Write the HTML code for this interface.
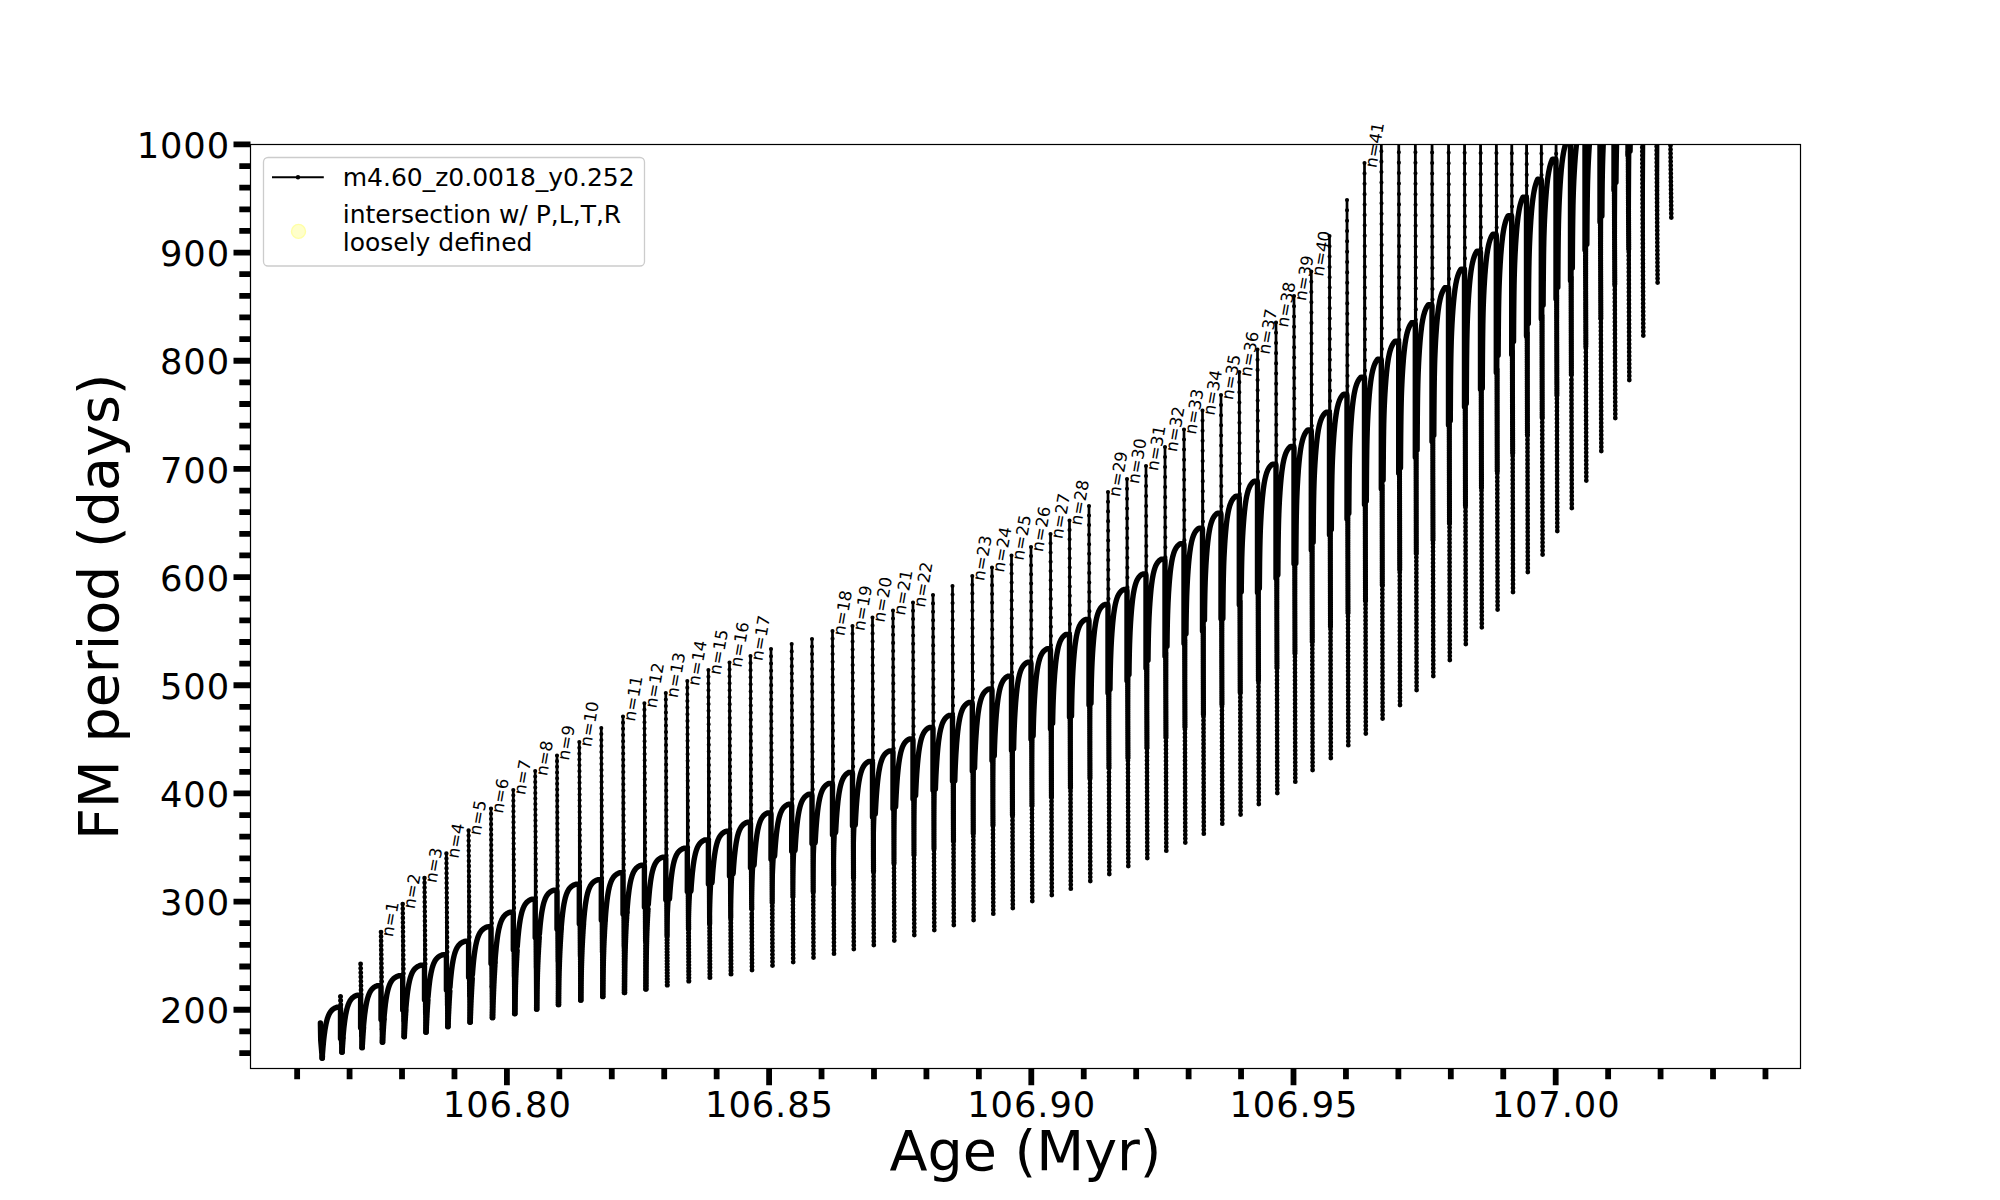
<!DOCTYPE html>
<html lang="en"><head><meta charset="utf-8"><title>FM period vs Age</title>
<style>html,body{margin:0;padding:0;background:#fff;}body{width:2000px;height:1200px;overflow:hidden;position:relative;font-family:"DejaVu Sans","Liberation Sans",sans-serif;}</style>
</head><body>
<svg width="2000" height="1200" viewBox="0 0 2000 1200" style="position:absolute;left:0;top:0">
<defs><clipPath id="ax"><rect x="250.5" y="144.5" width="1550" height="924"/></clipPath></defs>
<rect x="0" y="0" width="2000" height="1200" fill="#fff"/>
<g clip-path="url(#ax)" fill="none" stroke="#000" stroke-linejoin="round">
<path d="M320.4,1023 L320.7,1040 L322.2,1058 L322.2,1058 L322.2,1057.92 L322.22,1057.7 L322.25,1057.33 L322.28,1056.81 L322.32,1056.15 L322.38,1055.36 L322.44,1054.44 L322.52,1053.41 L322.6,1052.26 L322.7,1051.02 L322.81,1049.69 L322.92,1048.27 L323.05,1046.79 L323.18,1045.26 L323.32,1043.68 L323.48,1042.07 L323.64,1040.43 L323.82,1038.79 L324,1037.14 L324.2,1035.5 L324.4,1033.87 L324.62,1032.27 L324.84,1030.71 L325.08,1029.18 L325.32,1027.7 L325.58,1026.26 L325.84,1024.88 L326.12,1023.55 L326.4,1022.29 L326.7,1021.08 L327,1019.93 L327.32,1018.85 L327.64,1017.83 L327.98,1016.87 L328.32,1015.97 L328.68,1015.13 L329.05,1014.34 L329.42,1013.61 L329.81,1012.93 L330.2,1012.3 L330.6,1011.71 L331.02,1011.18 L331.44,1010.68 L331.88,1010.22 L332.32,1009.8 L332.78,1009.41 L333.25,1009.06 L333.72,1008.73 L334.2,1008.43 L334.7,1008.16 L335.2,1007.91 L335.72,1007.68 L336.25,1007.47 L336.78,1007.27 L337.32,1007.2 L337.88,1007.2 L338.44,1007.2 L339.02,1007.2 L339.6,1007.2 L340.2,1007.2 L340.5,1008.7 L340.5,1038.53 L340.5,996.4 L342,1052 L342,1052 L342.01,1051.91 L342.02,1051.66 L342.05,1051.23 L342.08,1050.64 L342.13,1049.89 L342.18,1048.99 L342.25,1047.95 L342.33,1046.77 L342.41,1045.47 L342.51,1044.05 L342.62,1042.54 L342.73,1040.93 L342.86,1039.26 L343,1037.52 L343.14,1035.73 L343.3,1033.9 L343.47,1032.06 L343.65,1030.2 L343.84,1028.34 L344.03,1026.49 L344.24,1024.67 L344.46,1022.87 L344.69,1021.11 L344.93,1019.4 L345.18,1017.74 L345.44,1016.14 L345.71,1014.6 L345.99,1013.13 L346.28,1011.72 L346.57,1010.38 L346.89,1009.11 L347.21,1007.92 L347.54,1006.79 L347.88,1005.73 L348.23,1004.74 L348.59,1003.82 L348.96,1002.95 L349.34,1002.15 L349.73,1001.41 L350.13,1000.72 L350.55,1000.09 L350.97,999.5 L351.4,998.97 L351.84,998.47 L352.29,998.01 L352.76,997.6 L353.23,997.21 L353.71,996.86 L354.21,996.54 L354.71,996.24 L355.22,995.98 L355.75,995.73 L356.28,995.5 L356.82,995.3 L357.38,995.2 L357.94,995.2 L358.52,995.2 L359.1,995.2 L359.7,995.2 L360.3,995.2 L360.6,996.7 L360.6,1027.87 L360.6,964 L362.1,1047.4 L362.1,1047.4 L362.11,1047.3 L362.12,1047.02 L362.15,1046.55 L362.18,1045.89 L362.23,1045.06 L362.29,1044.06 L362.35,1042.91 L362.43,1041.6 L362.52,1040.16 L362.62,1038.59 L362.73,1036.92 L362.84,1035.15 L362.97,1033.3 L363.11,1031.38 L363.26,1029.41 L363.42,1027.4 L363.59,1025.37 L363.77,1023.33 L363.97,1021.29 L364.17,1019.27 L364.38,1017.27 L364.6,1015.31 L364.83,1013.39 L365.08,1011.53 L365.33,1009.72 L365.59,1007.98 L365.87,1006.31 L366.15,1004.72 L366.45,1003.2 L366.75,1001.75 L367.07,1000.39 L367.39,999.1 L367.73,997.89 L368.07,996.76 L368.43,995.7 L368.8,994.71 L369.17,993.79 L369.56,992.94 L369.96,992.15 L370.37,991.42 L370.79,990.75 L371.21,990.13 L371.65,989.56 L372.1,989.04 L372.56,988.56 L373.03,988.12 L373.51,987.72 L374,987.35 L374.51,987.02 L375.02,986.71 L375.54,986.43 L376.07,986.17 L376.61,985.93 L377.17,985.72 L377.73,985.6 L378.3,985.6 L378.89,985.6 L379.48,985.6 L380.09,985.6 L380.7,985.6 L381,987.1 L381,1019.6 L381,932 L382.5,1042 L382.5,1042 L382.51,1041.89 L382.52,1041.56 L382.55,1041.02 L382.59,1040.27 L382.64,1039.32 L382.7,1038.18 L382.77,1036.86 L382.85,1035.38 L382.95,1033.74 L383.05,1031.96 L383.17,1030.07 L383.3,1028.07 L383.43,1025.99 L383.58,1023.84 L383.74,1021.63 L383.92,1019.4 L384.1,1017.14 L384.29,1014.89 L384.5,1012.65 L384.71,1010.43 L384.94,1008.25 L385.18,1006.12 L385.42,1004.05 L385.68,1002.05 L385.95,1000.12 L386.24,998.27 L386.53,996.51 L386.83,994.83 L387.15,993.24 L387.48,991.74 L387.81,990.33 L388.16,989.01 L388.52,987.77 L388.89,986.62 L389.27,985.55 L389.66,984.56 L390.07,983.64 L390.48,982.8 L390.91,982.02 L391.34,981.31 L391.79,980.65 L392.25,980.05 L392.72,979.5 L393.2,979 L393.69,978.54 L394.2,978.12 L394.71,977.74 L395.24,977.4 L395.77,977.08 L396.32,976.79 L396.88,976.53 L397.45,976.29 L398.03,976.07 L398.62,975.87 L399.22,975.7 L399.84,975.7 L400.46,975.7 L401.1,975.7 L401.74,975.7 L402.4,975.7 L402.7,977.2 L402.7,1009.95 L402.7,904 L404.2,1036.5 L404.2,1036.5 L404.21,1036.38 L404.22,1036.03 L404.25,1035.44 L404.29,1034.63 L404.34,1033.59 L404.4,1032.36 L404.47,1030.92 L404.56,1029.31 L404.65,1027.53 L404.76,1025.61 L404.87,1023.55 L405,1021.39 L405.14,1019.13 L405.29,1016.8 L405.45,1014.42 L405.62,1012 L405.81,1009.57 L406,1007.13 L406.21,1004.71 L406.42,1002.32 L406.65,999.97 L406.89,997.68 L407.14,995.45 L407.4,993.3 L407.67,991.23 L407.96,989.24 L408.25,987.35 L408.56,985.55 L408.87,983.84 L409.2,982.24 L409.54,980.73 L409.89,979.32 L410.25,978 L410.62,976.77 L411.01,975.63 L411.4,974.58 L411.81,973.61 L412.22,972.71 L412.65,971.88 L413.09,971.13 L413.54,970.43 L414,969.8 L414.47,969.22 L414.96,968.68 L415.45,968.2 L415.96,967.76 L416.47,967.36 L417,966.99 L417.54,966.66 L418.09,966.35 L418.65,966.08 L419.22,965.82 L419.81,965.6 L420.4,965.39 L421.01,965.2 L421.62,965.2 L422.25,965.2 L422.89,965.2 L423.54,965.2 L424.2,965.2 L424.5,966.7 L424.5,999.7 L424.5,878 L426,1032 L426,1032 L426.01,1031.87 L426.02,1031.48 L426.05,1030.84 L426.09,1029.95 L426.14,1028.82 L426.2,1027.46 L426.27,1025.9 L426.36,1024.13 L426.45,1022.19 L426.56,1020.08 L426.68,1017.84 L426.8,1015.47 L426.94,1013.01 L427.09,1010.47 L427.26,1007.87 L427.43,1005.23 L427.61,1002.58 L427.81,999.93 L428.02,997.3 L428.23,994.7 L428.46,992.14 L428.7,989.65 L428.95,987.24 L429.22,984.9 L429.49,982.66 L429.77,980.51 L430.07,978.46 L430.38,976.52 L430.7,974.68 L431.02,972.95 L431.37,971.32 L431.72,969.8 L432.08,968.38 L432.45,967.06 L432.84,965.84 L433.24,964.71 L433.64,963.67 L434.06,962.71 L434.49,961.82 L434.93,961.01 L435.39,960.27 L435.85,959.59 L436.32,958.97 L436.81,958.41 L437.31,957.89 L437.81,957.42 L438.33,956.99 L438.86,956.6 L439.41,956.25 L439.96,955.93 L440.52,955.63 L441.1,955.37 L441.68,955.12 L442.28,954.9 L442.89,954.7 L443.51,954.7 L444.14,954.7 L444.78,954.7 L445.44,954.7 L446.1,954.7 L446.4,956.2 L446.4,989.94 L446.4,853.5 L447.9,1026.4 L447.9,1026.4 L447.91,1026.25 L447.92,1025.82 L447.95,1025.09 L447.99,1024.09 L448.04,1022.82 L448.1,1021.3 L448.18,1019.54 L448.26,1017.56 L448.36,1015.38 L448.47,1013.02 L448.59,1010.5 L448.72,1007.86 L448.86,1005.1 L449.01,1002.26 L449.17,999.36 L449.35,996.43 L449.54,993.47 L449.74,990.53 L449.95,987.6 L450.17,984.72 L450.4,981.9 L450.64,979.14 L450.9,976.48 L451.16,973.9 L451.44,971.43 L451.73,969.07 L452.03,966.83 L452.34,964.7 L452.67,962.69 L453,960.81 L453.35,959.04 L453.7,957.39 L454.07,955.85 L454.45,954.42 L454.84,953.1 L455.24,951.88 L455.66,950.76 L456.08,949.73 L456.52,948.78 L456.97,947.91 L457.43,947.12 L457.9,946.4 L458.38,945.74 L458.87,945.13 L459.38,944.59 L459.89,944.09 L460.42,943.63 L460.96,943.22 L461.51,942.85 L462.07,942.51 L462.64,942.2 L463.22,941.92 L463.82,941.66 L464.42,941.43 L465.04,941.22 L465.67,941.2 L466.31,941.2 L466.96,941.2 L467.63,941.2 L468.3,941.2 L468.6,942.7 L468.6,977.17 L468.6,830.5 L470.1,1022 L470.1,1022 L470.11,1021.83 L470.12,1021.34 L470.15,1020.52 L470.19,1019.38 L470.24,1017.94 L470.31,1016.21 L470.38,1014.22 L470.47,1011.97 L470.56,1009.5 L470.67,1006.83 L470.79,1003.99 L470.92,1000.99 L471.07,997.88 L471.22,994.68 L471.39,991.4 L471.56,988.09 L471.75,984.77 L471.95,981.45 L472.17,978.17 L472.39,974.93 L472.62,971.77 L472.87,968.69 L473.13,965.7 L473.4,962.83 L473.68,960.08 L473.97,957.45 L474.27,954.95 L474.59,952.59 L474.91,950.36 L475.25,948.27 L475.6,946.32 L475.96,944.49 L476.33,942.8 L476.71,941.23 L477.11,939.78 L477.52,938.44 L477.93,937.21 L478.36,936.08 L478.8,935.04 L479.26,934.09 L479.72,933.23 L480.19,932.44 L480.68,931.72 L481.18,931.07 L481.69,930.47 L482.21,929.93 L482.74,929.44 L483.28,928.99 L483.84,928.59 L484.41,928.22 L484.98,927.89 L485.57,927.58 L486.17,927.31 L486.79,927.06 L487.41,926.83 L488.04,926.8 L488.69,926.8 L489.35,926.8 L490.02,926.8 L490.7,926.8 L491,928.3 L491,963.51 L491,808.6 L492.5,1017.4 L492.5,1017.4 L492.51,1017.22 L492.52,1016.67 L492.55,1015.76 L492.59,1014.5 L492.64,1012.9 L492.7,1010.99 L492.78,1008.78 L492.86,1006.29 L492.96,1003.56 L493.07,1000.6 L493.19,997.45 L493.32,994.14 L493.46,990.69 L493.62,987.14 L493.78,983.52 L493.96,979.86 L494.15,976.18 L494.35,972.51 L494.56,968.88 L494.78,965.3 L495.01,961.8 L495.26,958.4 L495.51,955.1 L495.78,951.92 L496.06,948.88 L496.35,945.98 L496.65,943.22 L496.96,940.61 L497.29,938.16 L497.62,935.85 L497.97,933.69 L498.33,931.68 L498.7,929.81 L499.08,928.08 L499.48,926.48 L499.88,925 L500.3,923.65 L500.72,922.4 L501.16,921.26 L501.61,920.22 L502.07,919.26 L502.55,918.4 L503.03,917.61 L503.52,916.89 L504.03,916.23 L504.55,915.64 L505.08,915.1 L505.62,914.6 L506.17,914.16 L506.74,913.75 L507.31,913.39 L507.9,913.05 L508.5,912.75 L509.11,912.48 L509.73,912.23 L510.36,912.2 L511,912.2 L511.66,912.2 L512.32,912.2 L513,912.2 L513.3,913.7 L513.3,949.64 L513.3,790 L514.8,1013.5 L514.8,1013.5 L514.81,1013.06 L514.82,1011.78 L514.85,1009.75 L514.89,1007.09 L514.94,1003.95 L515,1000.49 L515.07,996.84 L515.16,993.1 L515.25,989.34 L515.36,985.61 L515.48,981.92 L515.6,978.28 L515.74,974.66 L515.89,971.07 L516.06,967.5 L516.23,963.94 L516.41,960.41 L516.61,956.9 L516.82,953.44 L517.03,950.05 L517.26,946.72 L517.5,943.49 L517.75,940.35 L518.02,937.33 L518.29,934.43 L518.57,931.67 L518.87,929.04 L519.18,926.55 L519.5,924.2 L519.83,921.99 L520.17,919.92 L520.52,918 L520.88,916.2 L521.25,914.54 L521.64,913 L522.04,911.58 L522.44,910.27 L522.86,909.07 L523.29,907.97 L523.73,906.96 L524.19,906.04 L524.65,905.2 L525.12,904.43 L525.61,903.74 L526.11,903.1 L526.61,902.52 L527.13,902 L527.66,901.52 L528.21,901.09 L528.76,900.69 L529.32,900.33 L529.9,900.01 L530.48,899.71 L531.08,899.45 L531.69,899.2 L532.31,899.2 L532.94,899.2 L533.58,899.2 L534.24,899.2 L534.9,899.2 L535.2,900.7 L535.2,937.38 L535.2,771 L536.7,1009 L536.7,1009 L536.71,1008.48 L536.72,1006.97 L536.75,1004.57 L536.79,1001.44 L536.84,997.79 L536.9,993.81 L536.97,989.66 L537.06,985.47 L537.15,981.34 L537.26,977.3 L537.37,973.38 L537.5,969.56 L537.64,965.82 L537.79,962.14 L537.95,958.51 L538.12,954.91 L538.31,951.36 L538.5,947.84 L538.71,944.37 L538.92,940.97 L539.15,937.64 L539.39,934.4 L539.64,931.27 L539.9,928.25 L540.17,925.35 L540.46,922.58 L540.75,919.95 L541.06,917.47 L541.37,915.12 L541.7,912.92 L542.04,910.85 L542.39,908.93 L542.75,907.14 L543.12,905.48 L543.51,903.94 L543.9,902.52 L544.31,901.22 L544.72,900.02 L545.15,898.93 L545.59,897.92 L546.04,897 L546.5,896.17 L546.97,895.4 L547.46,894.71 L547.95,894.07 L548.46,893.5 L548.97,892.98 L549.5,892.5 L550.04,892.07 L550.59,891.68 L551.15,891.32 L551.72,891 L552.31,890.71 L552.9,890.44 L553.51,890.2 L554.12,890.2 L554.75,890.2 L555.39,890.2 L556.04,890.2 L556.7,890.2 L557,891.7 L557,929.11 L557,755.5 L558.5,1004.5 L558.5,1004.5 L558.51,1003.94 L558.52,1002.3 L558.55,999.72 L558.59,996.37 L558.64,992.46 L558.71,988.23 L558.78,983.84 L558.86,979.45 L558.96,975.14 L559.07,970.96 L559.19,966.91 L559.32,962.99 L559.46,959.17 L559.62,955.42 L559.78,951.73 L559.96,948.08 L560.15,944.48 L560.35,940.92 L560.56,937.42 L560.78,933.99 L561.01,930.64 L561.26,927.39 L561.51,924.25 L561.78,921.24 L562.06,918.35 L562.35,915.61 L562.65,913 L562.96,910.54 L563.29,908.23 L563.62,906.06 L563.97,904.04 L564.33,902.16 L564.7,900.42 L565.08,898.8 L565.48,897.31 L565.88,895.94 L566.3,894.69 L566.72,893.54 L567.16,892.48 L567.61,891.52 L568.07,890.65 L568.54,889.85 L569.03,889.12 L569.52,888.46 L570.03,887.86 L570.55,887.32 L571.08,886.83 L571.62,886.38 L572.17,885.98 L572.74,885.61 L573.31,885.27 L573.9,884.97 L574.5,884.7 L575.11,884.45 L575.73,884.23 L576.36,884.2 L577,884.2 L577.66,884.2 L578.32,884.2 L579,884.2 L579.3,885.7 L579.3,923.85 L579.3,742 L580.8,1000 L580.8,1000 L580.81,999.45 L580.82,997.83 L580.85,995.27 L580.89,991.95 L580.94,988.08 L581,983.88 L581.07,979.51 L581.16,975.13 L581.25,970.83 L581.36,966.65 L581.48,962.6 L581.61,958.68 L581.75,954.86 L581.9,951.11 L582.06,947.42 L582.24,943.78 L582.42,940.18 L582.62,936.63 L582.83,933.13 L583.04,929.71 L583.27,926.36 L583.52,923.12 L583.77,919.98 L584.03,916.96 L584.31,914.07 L584.59,911.32 L584.89,908.71 L585.2,906.25 L585.52,903.93 L585.85,901.75 L586.19,899.72 L586.55,897.83 L586.91,896.07 L587.29,894.45 L587.67,892.95 L588.07,891.57 L588.48,890.3 L588.9,889.14 L589.33,888.08 L589.78,887.11 L590.23,886.22 L590.7,885.42 L591.17,884.68 L591.66,884.02 L592.16,883.41 L592.67,882.86 L593.19,882.36 L593.73,881.91 L594.27,881.5 L594.83,881.12 L595.39,880.79 L595.97,880.48 L596.56,880.2 L597.16,879.95 L597.77,879.72 L598.4,879.71 L599.03,879.71 L599.68,879.71 L600.33,879.71 L601,879.71 L601.3,881.21 L601.3,920.09 L601.3,728 L602.8,996.4 L602.8,996.4 L602.81,995.79 L602.82,994.02 L602.85,991.22 L602.89,987.6 L602.94,983.39 L603,978.82 L603.07,974.12 L603.15,969.43 L603.25,964.86 L603.35,960.46 L603.47,956.25 L603.6,952.21 L603.73,948.3 L603.88,944.5 L604.04,940.77 L604.22,937.11 L604.4,933.51 L604.59,929.95 L604.8,926.46 L605.01,923.03 L605.24,919.69 L605.48,916.45 L605.72,913.31 L605.98,910.29 L606.25,907.4 L606.54,904.64 L606.83,902.03 L607.13,899.55 L607.45,897.23 L607.77,895.04 L608.11,893 L608.46,891.1 L608.82,889.33 L609.19,887.7 L609.57,886.19 L609.96,884.8 L610.37,883.52 L610.78,882.35 L611.21,881.28 L611.64,880.3 L612.09,879.4 L612.55,878.59 L613.02,877.85 L613.5,877.17 L613.99,876.56 L614.5,876 L615.01,875.49 L615.54,875.03 L616.07,874.62 L616.62,874.24 L617.18,873.9 L617.75,873.59 L618.33,873.3 L618.92,873.05 L619.52,872.82 L620.14,872.82 L620.76,872.82 L621.4,872.82 L622.04,872.82 L622.7,872.82 L623,874.32 L623,913.94 L623,716.5 L624.5,992.5 L624.5,992.5 L624.51,991.84 L624.52,989.91 L624.55,986.85 L624.59,982.91 L624.64,978.34 L624.7,973.41 L624.77,968.34 L624.85,963.33 L624.94,958.48 L625.04,953.85 L625.16,949.46 L625.28,945.29 L625.42,941.29 L625.57,937.43 L625.73,933.67 L625.89,930 L626.07,926.38 L626.26,922.83 L626.47,919.33 L626.68,915.91 L626.9,912.57 L627.14,909.32 L627.38,906.18 L627.64,903.15 L627.9,900.25 L628.18,897.49 L628.47,894.86 L628.77,892.37 L629.08,890.02 L629.4,887.82 L629.73,885.76 L630.08,883.84 L630.43,882.05 L630.79,880.4 L631.17,878.87 L631.56,877.45 L631.95,876.16 L632.36,874.96 L632.78,873.87 L633.21,872.87 L633.65,871.96 L634.1,871.13 L634.57,870.37 L635.04,869.68 L635.52,869.05 L636.02,868.48 L636.53,867.96 L637.04,867.49 L637.57,867.06 L638.11,866.67 L638.66,866.32 L639.22,866 L639.79,865.71 L640.38,865.45 L640.97,865.23 L641.57,865.23 L642.19,865.23 L642.82,865.23 L643.45,865.23 L644.1,865.23 L644.4,866.73 L644.4,907.09 L644.4,703.3 L645.9,989 L645.9,989 L645.91,988.26 L645.92,986.1 L645.95,982.69 L645.99,978.31 L646.04,973.24 L646.1,967.8 L646.17,962.26 L646.25,956.81 L646.34,951.59 L646.44,946.66 L646.56,942.04 L646.68,937.69 L646.82,933.57 L646.97,929.62 L647.12,925.8 L647.29,922.08 L647.47,918.44 L647.66,914.87 L647.87,911.36 L648.08,907.93 L648.3,904.58 L648.54,901.32 L648.78,898.18 L649.04,895.15 L649.3,892.24 L649.58,889.47 L649.87,886.84 L650.17,884.35 L650.48,882 L650.8,879.8 L651.13,877.74 L651.48,875.82 L651.83,874.03 L652.19,872.38 L652.57,870.85 L652.96,869.44 L653.35,868.14 L653.76,866.95 L654.18,865.86 L654.61,864.86 L655.05,863.95 L655.5,863.12 L655.97,862.37 L656.44,861.68 L656.92,861.05 L657.42,860.48 L657.93,859.96 L658.44,859.49 L658.97,859.07 L659.51,858.68 L660.06,858.33 L660.62,858.01 L661.19,857.72 L661.78,857.46 L662.37,857.24 L662.97,857.24 L663.59,857.24 L664.22,857.24 L664.85,857.24 L665.5,857.24 L665.8,858.74 L665.8,899.83 L665.8,693 L667.3,985 L667.3,985 L667.31,984.17 L667.32,981.74 L667.35,977.93 L667.39,973.03 L667.44,967.39 L667.5,961.37 L667.57,955.27 L667.65,949.33 L667.74,943.7 L667.85,938.43 L667.96,933.55 L668.09,929 L668.22,924.74 L668.37,920.69 L668.53,916.81 L668.7,913.04 L668.88,909.36 L669.07,905.76 L669.28,902.24 L669.49,898.79 L669.71,895.43 L669.95,892.17 L670.19,889.02 L670.45,885.98 L670.72,883.08 L671,880.31 L671.29,877.68 L671.59,875.19 L671.9,872.85 L672.22,870.65 L672.56,868.6 L672.9,866.68 L673.26,864.9 L673.63,863.26 L674,861.74 L674.39,860.33 L674.79,859.05 L675.2,857.86 L675.62,856.78 L676.06,855.79 L676.5,854.89 L676.95,854.07 L677.42,853.32 L677.89,852.64 L678.38,852.02 L678.88,851.46 L679.39,850.94 L679.91,850.48 L680.44,850.06 L680.98,849.68 L681.53,849.33 L682.1,849.02 L682.67,848.73 L683.26,848.47 L683.85,848.26 L684.46,848.26 L685.08,848.26 L685.71,848.26 L686.35,848.26 L687,848.26 L687.3,849.76 L687.3,891.58 L687.3,681 L688.8,981 L688.8,981 L688.81,980.11 L688.82,977.51 L688.85,973.42 L688.89,968.17 L688.93,962.14 L688.99,955.7 L689.06,949.19 L689.14,942.86 L689.23,936.89 L689.34,931.34 L689.45,926.23 L689.57,921.52 L689.71,917.13 L689.85,913.01 L690.01,909.07 L690.17,905.28 L690.35,901.6 L690.54,898 L690.74,894.47 L690.94,891.03 L691.16,887.67 L691.39,884.41 L691.64,881.25 L691.89,878.21 L692.15,875.29 L692.42,872.51 L692.71,869.86 L693,867.35 L693.31,864.99 L693.62,862.77 L693.95,860.69 L694.29,858.75 L694.64,856.94 L695,855.26 L695.37,853.71 L695.75,852.28 L696.14,850.97 L696.54,849.76 L696.95,848.65 L697.38,847.63 L697.81,846.71 L698.26,845.86 L698.71,845.09 L699.18,844.38 L699.66,843.75 L700.14,843.16 L700.64,842.63 L701.15,842.15 L701.67,841.72 L702.2,841.32 L702.74,840.96 L703.3,840.63 L703.86,840.33 L704.43,840.06 L705.02,839.87 L705.61,839.87 L706.22,839.87 L706.83,839.87 L707.46,839.87 L708.1,839.87 L708.4,841.37 L708.4,883.93 L708.4,670 L709.9,977.5 L709.9,977.5 L709.91,976.52 L709.92,973.67 L709.95,969.18 L709.99,963.43 L710.03,956.84 L710.09,949.83 L710.16,942.78 L710.24,935.96 L710.33,929.56 L710.44,923.67 L710.55,918.3 L710.67,913.38 L710.81,908.85 L710.95,904.62 L711.11,900.62 L711.27,896.78 L711.45,893.06 L711.64,889.44 L711.84,885.9 L712.04,882.45 L712.26,879.08 L712.49,875.81 L712.74,872.65 L712.99,869.6 L713.25,866.68 L713.52,863.9 L713.81,861.25 L714.1,858.74 L714.41,856.37 L714.73,854.15 L715.05,852.07 L715.39,850.13 L715.74,848.32 L716.1,846.65 L716.47,845.1 L716.85,843.67 L717.24,842.35 L717.64,841.15 L718.05,840.04 L718.48,839.03 L718.91,838.1 L719.36,837.25 L719.81,836.48 L720.28,835.78 L720.76,835.14 L721.24,834.56 L721.74,834.04 L722.25,833.56 L722.77,833.12 L723.3,832.73 L723.84,832.37 L724.4,832.04 L724.96,831.74 L725.53,831.48 L726.12,831.28 L726.71,831.28 L727.32,831.28 L727.93,831.28 L728.56,831.28 L729.2,831.28 L729.5,832.78 L729.5,876.07 L729.5,662.5 L731,974 L731,974 L731.01,972.93 L731.02,969.82 L731.05,964.93 L731.09,958.67 L731.13,951.5 L731.19,943.9 L731.26,936.27 L731.34,928.93 L731.43,922.08 L731.53,915.82 L731.65,910.15 L731.77,905.02 L731.9,900.33 L732.05,895.99 L732.2,891.91 L732.37,888.03 L732.54,884.28 L732.73,880.64 L732.93,877.09 L733.13,873.62 L733.35,870.25 L733.58,866.98 L733.82,863.81 L734.07,860.76 L734.33,857.83 L734.61,855.04 L734.89,852.38 L735.18,849.87 L735.49,847.5 L735.8,845.27 L736.13,843.18 L736.46,841.23 L736.81,839.42 L737.17,837.74 L737.53,836.18 L737.91,834.75 L738.3,833.43 L738.7,832.21 L739.11,831.1 L739.53,830.08 L739.97,829.15 L740.41,828.3 L740.86,827.52 L741.33,826.82 L741.8,826.18 L742.29,825.59 L742.78,825.06 L743.29,824.58 L743.81,824.14 L744.33,823.74 L744.87,823.38 L745.42,823.05 L745.98,822.75 L746.55,822.48 L747.13,822.29 L747.73,822.29 L748.33,822.29 L748.94,822.29 L749.57,822.29 L750.2,822.29 L750.5,823.79 L750.5,867.82 L750.5,656 L752,970 L752,970 L752.01,968.87 L752.02,965.57 L752.05,960.38 L752.08,953.74 L752.13,946.12 L752.19,938.03 L752.25,929.92 L752.33,922.11 L752.42,914.84 L752.52,908.21 L752.63,902.23 L752.75,896.86 L752.88,892 L753.02,887.55 L753.17,883.39 L753.33,879.46 L753.5,875.69 L753.68,872.05 L753.88,868.5 L754.08,865.04 L754.29,861.67 L754.51,858.4 L754.75,855.23 L754.99,852.17 L755.25,849.23 L755.51,846.42 L755.79,843.74 L756.07,841.2 L756.37,838.8 L756.67,836.54 L756.99,834.42 L757.32,832.44 L757.66,830.59 L758,828.87 L758.36,827.28 L758.73,825.81 L759.11,824.45 L759.5,823.2 L759.9,822.05 L760.31,821 L760.73,820.03 L761.16,819.15 L761.6,818.34 L762.06,817.61 L762.52,816.94 L762.99,816.33 L763.47,815.77 L763.97,815.27 L764.47,814.81 L764.99,814.39 L765.51,814.01 L766.05,813.67 L766.59,813.35 L767.15,813.07 L767.71,812.9 L768.29,812.9 L768.88,812.9 L769.47,812.9 L770.08,812.9 L770.7,812.9 L771,814.4 L771,859.16 L771,649 L772.5,965.5 L772.5,965.5 L772.51,964.29 L772.52,960.75 L772.55,955.21 L772.58,948.11 L772.63,940 L772.69,931.41 L772.76,922.83 L772.84,914.6 L772.93,906.98 L773.02,900.08 L773.14,893.89 L773.26,888.36 L773.39,883.38 L773.53,878.85 L773.68,874.63 L773.84,870.66 L774.02,866.86 L774.2,863.18 L774.4,859.61 L774.6,856.14 L774.82,852.76 L775.04,849.47 L775.28,846.29 L775.52,843.23 L775.78,840.29 L776.05,837.49 L776.33,834.81 L776.62,832.28 L776.92,829.89 L777.23,827.64 L777.55,825.53 L777.88,823.57 L778.22,821.73 L778.57,820.03 L778.93,818.45 L779.3,817 L779.69,815.66 L780.08,814.42 L780.49,813.29 L780.9,812.25 L781.33,811.31 L781.76,810.44 L782.21,809.65 L782.66,808.93 L783.13,808.27 L783.61,807.67 L784.1,807.13 L784.6,806.64 L785.11,806.19 L785.63,805.78 L786.16,805.41 L786.7,805.07 L787.25,804.77 L787.81,804.49 L788.38,804.31 L788.96,804.31 L789.56,804.31 L790.16,804.31 L790.78,804.31 L791.4,804.31 L791.7,805.81 L791.7,851.31 L791.7,644 L793.2,962 L793.2,962 L793.21,960.7 L793.22,956.93 L793.25,951 L793.28,943.41 L793.33,934.72 L793.38,925.52 L793.45,916.31 L793.53,907.51 L793.62,899.36 L793.71,892 L793.82,885.44 L793.94,879.62 L794.07,874.43 L794.21,869.74 L794.36,865.42 L794.52,861.39 L794.69,857.55 L794.87,853.86 L795.06,850.28 L795.26,846.81 L795.47,843.42 L795.69,840.14 L795.92,836.96 L796.16,833.89 L796.41,830.94 L796.67,828.12 L796.95,825.43 L797.23,822.88 L797.52,820.46 L797.83,818.19 L798.14,816.05 L798.46,814.06 L798.8,812.19 L799.14,810.46 L799.5,808.86 L799.86,807.37 L800.24,806 L800.62,804.74 L801.02,803.57 L801.42,802.51 L801.84,801.53 L802.27,800.64 L802.7,799.83 L803.15,799.08 L803.61,798.4 L804.07,797.79 L804.55,797.22 L805.04,796.71 L805.54,796.25 L806.05,795.82 L806.57,795.43 L807.1,795.08 L807.64,794.76 L808.19,794.47 L808.75,794.32 L809.32,794.32 L809.9,794.32 L810.49,794.32 L811.09,794.32 L811.7,794.32 L812,795.82 L812,843.49 L812,639 L813.5,957.5 L813.5,957.5 L813.51,956.08 L813.52,951.95 L813.55,945.47 L813.58,937.19 L813.63,927.74 L813.69,917.76 L813.75,907.82 L813.83,898.36 L813.92,889.67 L814.02,881.86 L814.13,874.97 L814.25,868.89 L814.38,863.52 L814.52,858.7 L814.67,854.3 L814.83,850.2 L815,846.32 L815.18,842.6 L815.38,839 L815.58,835.5 L815.79,832.11 L816.01,828.81 L816.25,825.62 L816.49,822.55 L816.75,819.6 L817.01,816.78 L817.29,814.1 L817.57,811.55 L817.87,809.15 L818.17,806.88 L818.49,804.76 L818.82,802.78 L819.16,800.93 L819.5,799.22 L819.86,797.63 L820.23,796.16 L820.61,794.8 L821,793.56 L821.4,792.42 L821.81,791.37 L822.23,790.41 L822.66,789.53 L823.1,788.73 L823.56,788 L824.02,787.34 L824.49,786.73 L824.97,786.18 L825.47,785.68 L825.97,785.22 L826.49,784.81 L827.01,784.43 L827.55,784.09 L828.09,783.78 L828.65,783.5 L829.21,783.33 L829.79,783.33 L830.38,783.33 L830.97,783.33 L831.58,783.33 L832.2,783.33 L832.5,784.83 L832.5,834.67 L832.5,631 L834,953.7 L834,953.7 L834.01,952.2 L834.02,947.83 L834.05,940.97 L834.08,932.19 L834.13,922.15 L834.18,911.53 L834.25,900.94 L834.32,890.84 L834.41,881.56 L834.51,873.24 L834.61,865.9 L834.73,859.48 L834.85,853.85 L834.99,848.84 L835.14,844.31 L835.29,840.13 L835.46,836.2 L835.64,832.45 L835.83,828.84 L836.02,825.35 L836.23,821.95 L836.45,818.65 L836.67,815.46 L836.91,812.38 L837.16,809.42 L837.42,806.58 L837.69,803.88 L837.96,801.31 L838.25,798.88 L838.55,796.58 L838.86,794.43 L839.18,792.41 L839.51,790.53 L839.84,788.77 L840.19,787.14 L840.55,785.64 L840.92,784.24 L841.3,782.96 L841.69,781.78 L842.09,780.69 L842.5,779.7 L842.92,778.79 L843.35,777.96 L843.79,777.2 L844.24,776.5 L844.7,775.87 L845.17,775.3 L845.65,774.77 L846.14,774.29 L846.64,773.86 L847.15,773.46 L847.67,773.1 L848.2,772.77 L848.74,772.48 L849.29,772.34 L849.85,772.34 L850.43,772.34 L851.01,772.34 L851.6,772.34 L852.2,772.34 L852.5,773.84 L852.5,825.84 L852.5,626 L853.8,949 L853.8,949 L853.81,947.38 L853.82,942.66 L853.85,935.26 L853.88,925.81 L853.93,915.02 L853.98,903.65 L854.05,892.35 L854.13,881.62 L854.21,871.79 L854.31,863.05 L854.42,855.39 L854.54,848.72 L854.66,842.91 L854.8,837.79 L854.95,833.17 L855.11,828.93 L855.28,824.96 L855.46,821.19 L855.65,817.55 L855.84,814.04 L856.05,810.63 L856.27,807.32 L856.5,804.12 L856.74,801.04 L856.99,798.07 L857.26,795.24 L857.53,792.54 L857.81,789.98 L858.1,787.55 L858.4,785.27 L858.71,783.13 L859.03,781.13 L859.37,779.26 L859.71,777.52 L860.06,775.91 L860.42,774.42 L860.8,773.04 L861.18,771.78 L861.57,770.62 L861.98,769.55 L862.39,768.57 L862.82,767.68 L863.25,766.86 L863.7,766.11 L864.15,765.44 L864.62,764.82 L865.09,764.25 L865.58,763.74 L866.07,763.27 L866.58,762.85 L867.09,762.46 L867.62,762.11 L868.16,761.79 L868.7,761.5 L869.26,761.36 L869.83,761.36 L870.41,761.36 L870.99,761.36 L871.59,761.36 L872.2,761.36 L872.5,762.86 L872.5,817.02 L872.5,617.5 L873.8,945 L873.8,945 L873.81,943.22 L873.82,938.06 L873.85,929.99 L873.88,919.7 L873.93,908.01 L873.99,895.75 L874.06,883.64 L874.14,872.22 L874.23,861.85 L874.32,852.69 L874.44,844.74 L874.56,837.87 L874.69,831.93 L874.83,826.71 L874.98,822.04 L875.14,817.75 L875.32,813.75 L875.5,809.94 L875.7,806.28 L875.9,802.74 L876.12,799.31 L876.34,795.99 L876.58,792.78 L876.82,789.69 L877.08,786.74 L877.35,783.91 L877.63,781.23 L877.92,778.69 L878.22,776.29 L878.52,774.04 L878.85,771.93 L879.18,769.97 L879.52,768.14 L879.87,766.44 L880.23,764.87 L880.6,763.42 L880.99,762.08 L881.38,760.86 L881.79,759.74 L882.2,758.71 L882.63,757.77 L883.06,756.91 L883.51,756.13 L883.96,755.42 L884.43,754.77 L884.91,754.18 L885.4,753.64 L885.9,753.15 L886.41,752.71 L886.93,752.31 L887.46,751.95 L888,751.61 L888.55,751.31 L889.11,751.04 L889.68,750.87 L890.26,750.87 L890.86,750.87 L891.46,750.87 L892.08,750.87 L892.7,750.87 L893,752.37 L893,808.7 L893,610.5 L894.3,940.5 L894.3,940.5 L894.31,938.65 L894.32,933.25 L894.35,924.81 L894.38,914.02 L894.43,901.75 L894.48,888.84 L894.55,876.04 L894.63,863.96 L894.71,852.96 L894.81,843.25 L894.92,834.82 L895.04,827.57 L895.16,821.33 L895.3,815.9 L895.45,811.08 L895.61,806.7 L895.78,802.64 L895.96,798.8 L896.15,795.13 L896.34,791.58 L896.55,788.15 L896.77,784.83 L897,781.62 L897.24,778.52 L897.49,775.55 L897.76,772.71 L898.03,770.01 L898.31,767.44 L898.6,765.02 L898.9,762.73 L899.21,760.59 L899.53,758.59 L899.87,756.72 L900.21,754.98 L900.56,753.37 L900.92,751.89 L901.3,750.51 L901.68,749.25 L902.07,748.09 L902.48,747.03 L902.89,746.05 L903.32,745.16 L903.75,744.35 L904.2,743.61 L904.65,742.93 L905.12,742.32 L905.59,741.76 L906.08,741.25 L906.57,740.78 L907.08,740.36 L907.59,739.98 L908.12,739.63 L908.66,739.31 L909.2,739.02 L909.76,738.88 L910.33,738.88 L910.91,738.88 L911.49,738.88 L912.09,738.88 L912.7,738.88 L913,740.38 L913,798.88 L913,602.5 L914.3,935 L914.3,935 L914.31,933.05 L914.32,927.37 L914.35,918.47 L914.38,907.12 L914.43,894.21 L914.48,880.64 L914.55,867.21 L914.63,854.54 L914.71,843.05 L914.81,832.91 L914.92,824.16 L915.04,816.66 L915.16,810.24 L915.3,804.67 L915.45,799.76 L915.61,795.32 L915.78,791.22 L915.96,787.35 L916.15,783.66 L916.34,780.1 L916.55,776.66 L916.77,773.33 L917,770.11 L917.24,767.02 L917.49,764.04 L917.76,761.2 L918.03,758.49 L918.31,755.92 L918.6,753.5 L918.9,751.21 L919.21,749.07 L919.53,747.07 L919.87,745.2 L920.21,743.46 L920.56,741.86 L920.92,740.37 L921.3,739 L921.68,737.74 L922.07,736.58 L922.48,735.52 L922.89,734.55 L923.32,733.66 L923.75,732.85 L924.2,732.11 L924.65,731.43 L925.12,730.82 L925.59,730.26 L926.08,729.75 L926.57,729.29 L927.08,728.87 L927.59,728.48 L928.12,728.14 L928.66,727.82 L929.2,727.53 L929.76,727.39 L930.33,727.39 L930.91,727.39 L931.49,727.39 L932.09,727.39 L932.7,727.39 L933,728.89 L933,790.22 L933,595 L934.3,930 L934.3,930 L934.3,927.99 L934.32,922.12 L934.34,912.93 L934.38,901.18 L934.42,887.77 L934.48,873.65 L934.54,859.62 L934.62,846.34 L934.7,834.26 L934.8,823.59 L934.9,814.36 L935.02,806.47 L935.14,799.74 L935.27,793.95 L935.42,788.87 L935.57,784.32 L935.74,780.15 L935.91,776.25 L936.09,772.54 L936.29,768.97 L936.49,765.53 L936.71,762.19 L936.93,758.97 L937.16,755.86 L937.41,752.88 L937.66,750.02 L937.92,747.29 L938.2,744.7 L938.48,742.24 L938.77,739.92 L939.08,737.75 L939.39,735.71 L939.71,733.8 L940.05,732.03 L940.39,730.38 L940.74,728.86 L941.11,727.45 L941.48,726.15 L941.86,724.95 L942.26,723.85 L942.66,722.84 L943.07,721.92 L943.49,721.08 L943.93,720.31 L944.37,719.6 L944.82,718.96 L945.28,718.37 L945.76,717.84 L946.24,717.36 L946.73,716.91 L947.23,716.51 L947.74,716.14 L948.27,715.81 L948.8,715.51 L949.34,715.4 L949.89,715.4 L950.45,715.4 L951.03,715.4 L951.61,715.4 L952.2,715.4 L952.5,716.9 L952.5,781.07 L952.5,586 L953.8,925 L953.8,925 L953.81,922.82 L953.82,916.49 L953.85,906.57 L953.88,893.91 L953.93,879.51 L953.98,864.38 L954.05,849.43 L954.12,835.34 L954.21,822.59 L954.31,811.4 L954.41,801.78 L954.53,793.62 L954.65,786.7 L954.79,780.78 L954.94,775.62 L955.09,771.01 L955.26,766.8 L955.44,762.87 L955.63,759.13 L955.82,755.55 L956.03,752.09 L956.25,748.74 L956.47,745.51 L956.71,742.4 L956.96,739.42 L957.22,736.56 L957.49,733.84 L957.76,731.26 L958.05,728.82 L958.35,726.52 L958.66,724.37 L958.98,722.35 L959.31,720.47 L959.64,718.72 L959.99,717.1 L960.35,715.6 L960.72,714.22 L961.1,712.94 L961.49,711.77 L961.89,710.7 L962.3,709.71 L962.72,708.81 L963.15,707.99 L963.59,707.24 L964.04,706.56 L964.5,705.94 L964.97,705.37 L965.45,704.85 L965.94,704.39 L966.44,703.96 L966.95,703.57 L967.47,703.22 L968,702.9 L968.54,702.6 L969.09,702.48 L969.65,702.48 L970.23,702.48 L970.81,702.48 L971.4,702.48 L972,702.48 L972.3,703.98 L972.3,770.98 L972.3,576 L973.6,920 L973.6,920 L973.61,917.7 L973.62,910.99 L973.65,900.5 L973.68,887.1 L973.73,871.87 L973.78,855.86 L973.85,840.04 L973.92,825.15 L974.01,811.69 L974.1,799.89 L974.21,789.79 L974.32,781.25 L974.45,774.04 L974.59,767.92 L974.73,762.61 L974.89,757.91 L975.05,753.64 L975.23,749.67 L975.42,745.91 L975.61,742.31 L975.82,738.83 L976.03,735.48 L976.26,732.25 L976.5,729.13 L976.74,726.14 L977,723.28 L977.27,720.55 L977.54,717.97 L977.83,715.52 L978.12,713.21 L978.43,711.05 L978.75,709.03 L979.08,707.14 L979.41,705.38 L979.76,703.75 L980.12,702.25 L980.48,700.86 L980.86,699.58 L981.25,698.4 L981.64,697.32 L982.05,696.33 L982.47,695.43 L982.9,694.6 L983.33,693.84 L983.78,693.16 L984.24,692.53 L984.71,691.96 L985.18,691.44 L985.67,690.97 L986.17,690.54 L986.68,690.14 L987.2,689.79 L987.72,689.46 L988.26,689.17 L988.81,689.05 L989.37,689.05 L989.94,689.05 L990.51,689.05 L991.1,689.05 L991.7,689.05 L992,690.55 L992,760.38 L992,567.5 L993.3,913.7 L993.3,913.7 L993.3,911.31 L993.32,904.37 L993.34,893.49 L993.38,879.6 L993.42,863.79 L993.48,847.16 L993.54,830.7 L993.62,815.2 L993.7,801.18 L993.8,788.89 L993.9,778.37 L994.02,769.49 L994.14,762.03 L994.27,755.71 L994.42,750.27 L994.57,745.48 L994.74,741.15 L994.91,737.14 L995.09,733.35 L995.29,729.74 L995.49,726.26 L995.71,722.9 L995.93,719.66 L996.16,716.53 L996.41,713.54 L996.66,710.67 L996.92,707.93 L997.2,705.33 L997.48,702.87 L997.77,700.55 L998.08,698.38 L998.39,696.34 L998.71,694.43 L999.05,692.66 L999.39,691.02 L999.74,689.5 L1000.11,688.09 L1000.48,686.8 L1000.86,685.6 L1001.26,684.51 L1001.66,683.51 L1002.07,682.59 L1002.49,681.75 L1002.93,680.99 L1003.37,680.29 L1003.82,679.65 L1004.28,679.07 L1004.76,678.54 L1005.24,678.06 L1005.73,677.62 L1006.23,677.22 L1006.74,676.86 L1007.27,676.53 L1007.8,676.23 L1008.34,676.12 L1008.89,676.12 L1009.45,676.12 L1010.03,676.12 L1010.61,676.12 L1011.2,676.12 L1011.5,677.62 L1011.5,750.29 L1011.5,555.5 L1012.8,908 L1012.8,908 L1012.8,905.48 L1012.82,898.15 L1012.84,886.67 L1012.88,872.01 L1012.92,855.33 L1012.98,837.81 L1013.04,820.48 L1013.12,804.19 L1013.2,789.47 L1013.3,776.6 L1013.4,765.62 L1013.52,756.39 L1013.64,748.66 L1013.77,742.16 L1013.92,736.59 L1014.07,731.71 L1014.24,727.32 L1014.41,723.27 L1014.59,719.46 L1014.79,715.82 L1014.99,712.33 L1015.21,708.97 L1015.43,705.72 L1015.66,702.59 L1015.91,699.59 L1016.16,696.71 L1016.42,693.98 L1016.7,691.37 L1016.98,688.91 L1017.27,686.6 L1017.58,684.42 L1017.89,682.38 L1018.21,680.48 L1018.55,678.71 L1018.89,677.06 L1019.24,675.54 L1019.61,674.14 L1019.98,672.85 L1020.36,671.66 L1020.76,670.56 L1021.16,669.56 L1021.57,668.65 L1021.99,667.81 L1022.43,667.05 L1022.87,666.35 L1023.32,665.71 L1023.78,665.14 L1024.26,664.61 L1024.74,664.13 L1025.23,663.69 L1025.73,663.29 L1026.24,662.93 L1026.77,662.6 L1027.3,662.3 L1027.84,662.2 L1028.39,662.2 L1028.95,662.2 L1029.53,662.2 L1030.11,662.2 L1030.7,662.2 L1031,663.7 L1031,739.2 L1031,547 L1032.3,901 L1032.3,901 L1032.3,898.38 L1032.32,890.75 L1032.34,878.79 L1032.38,863.54 L1032.42,846.19 L1032.48,827.96 L1032.54,809.96 L1032.62,793.05 L1032.7,777.78 L1032.8,764.46 L1032.9,753.12 L1033.02,743.61 L1033.14,735.68 L1033.27,729.03 L1033.42,723.36 L1033.57,718.41 L1033.74,713.97 L1033.91,709.89 L1034.09,706.06 L1034.29,702.41 L1034.49,698.91 L1034.71,695.53 L1034.93,692.28 L1035.16,689.15 L1035.41,686.14 L1035.66,683.26 L1035.92,680.52 L1036.2,677.92 L1036.48,675.46 L1036.78,673.14 L1037.08,670.96 L1037.39,668.92 L1037.71,667.02 L1038.05,665.25 L1038.39,663.61 L1038.74,662.09 L1039.11,660.69 L1039.48,659.39 L1039.86,658.21 L1040.26,657.12 L1040.66,656.12 L1041.07,655.21 L1041.49,654.37 L1041.93,653.61 L1042.37,652.91 L1042.82,652.28 L1043.28,651.7 L1043.76,651.18 L1044.24,650.7 L1044.73,650.26 L1045.23,649.87 L1045.74,649.51 L1046.27,649.18 L1046.8,648.88 L1047.34,648.77 L1047.89,648.77 L1048.45,648.77 L1049.03,648.77 L1049.61,648.77 L1050.2,648.77 L1050.5,650.27 L1050.5,728.64 L1050.5,534 L1051.8,895 L1051.8,895 L1051.8,892.32 L1051.82,884.5 L1051.84,872.24 L1051.88,856.57 L1051.92,838.68 L1051.97,819.83 L1052.04,801.13 L1052.11,783.49 L1052.19,767.5 L1052.28,753.5 L1052.38,741.54 L1052.5,731.51 L1052.62,723.15 L1052.75,716.16 L1052.89,710.25 L1053.04,705.12 L1053.2,700.57 L1053.37,696.42 L1053.54,692.55 L1053.73,688.88 L1053.93,685.37 L1054.14,681.99 L1054.36,678.73 L1054.58,675.59 L1054.82,672.57 L1055.07,669.67 L1055.32,666.91 L1055.59,664.28 L1055.86,661.79 L1056.15,659.44 L1056.44,657.23 L1056.75,655.15 L1057.06,653.21 L1057.39,651.4 L1057.72,649.72 L1058.06,648.16 L1058.42,646.71 L1058.78,645.38 L1059.15,644.16 L1059.53,643.03 L1059.92,641.99 L1060.33,641.04 L1060.74,640.17 L1061.16,639.38 L1061.59,638.65 L1062.03,637.99 L1062.48,637.38 L1062.94,636.83 L1063.4,636.33 L1063.88,635.87 L1064.37,635.45 L1064.87,635.07 L1065.38,634.73 L1065.89,634.41 L1066.42,634.35 L1066.96,634.35 L1067.5,634.35 L1068.06,634.35 L1068.62,634.35 L1069.2,634.35 L1069.5,635.85 L1069.5,717.08 L1069.5,520.5 L1070.8,888.7 L1070.8,888.7 L1070.8,885.8 L1070.82,877.37 L1070.84,864.16 L1070.88,847.31 L1070.92,828.17 L1070.98,808.09 L1071.04,788.29 L1071.12,769.72 L1071.2,753.01 L1071.3,738.49 L1071.4,726.19 L1071.52,715.95 L1071.64,707.48 L1071.77,700.44 L1071.92,694.5 L1072.07,689.37 L1072.24,684.81 L1072.41,680.65 L1072.59,676.77 L1072.79,673.08 L1072.99,669.56 L1073.21,666.17 L1073.43,662.9 L1073.66,659.76 L1073.91,656.74 L1074.16,653.86 L1074.42,651.11 L1074.7,648.5 L1074.98,646.04 L1075.28,643.72 L1075.58,641.54 L1075.89,639.5 L1076.21,637.6 L1076.55,635.84 L1076.89,634.2 L1077.24,632.68 L1077.61,631.28 L1077.98,629.99 L1078.36,628.81 L1078.76,627.72 L1079.16,626.73 L1079.57,625.82 L1079.99,624.99 L1080.43,624.23 L1080.87,623.54 L1081.32,622.91 L1081.78,622.33 L1082.26,621.81 L1082.74,621.33 L1083.23,620.9 L1083.73,620.51 L1084.24,620.15 L1084.77,619.82 L1085.3,619.53 L1085.84,619.42 L1086.39,619.42 L1086.95,619.42 L1087.53,619.42 L1088.11,619.42 L1088.7,619.42 L1089,620.92 L1089,705.02 L1089,506 L1090.3,881 L1090.3,881 L1090.3,878.07 L1090.32,869.53 L1090.34,856.13 L1090.38,839.01 L1090.42,819.49 L1090.47,798.94 L1090.54,778.58 L1090.61,759.41 L1090.69,742.08 L1090.78,726.94 L1090.88,714.07 L1091,703.33 L1091.12,694.45 L1091.25,687.08 L1091.39,680.9 L1091.54,675.6 L1091.7,670.93 L1091.87,666.69 L1092.04,662.77 L1092.23,659.07 L1092.43,655.53 L1092.64,652.13 L1092.86,648.85 L1093.08,645.7 L1093.32,642.67 L1093.57,639.77 L1093.82,637 L1094.09,634.37 L1094.36,631.88 L1094.65,629.52 L1094.94,627.31 L1095.25,625.23 L1095.56,623.29 L1095.89,621.49 L1096.22,619.81 L1096.56,618.25 L1096.92,616.81 L1097.28,615.48 L1097.65,614.26 L1098.03,613.13 L1098.42,612.1 L1098.83,611.15 L1099.24,610.29 L1099.66,609.5 L1100.09,608.77 L1100.53,608.11 L1100.98,607.51 L1101.44,606.96 L1101.9,606.46 L1102.38,606.01 L1102.87,605.59 L1103.37,605.22 L1103.88,604.87 L1104.39,604.56 L1104.92,604.5 L1105.46,604.5 L1106,604.5 L1106.56,604.5 L1107.12,604.5 L1107.7,604.5 L1108,606 L1108,692.97 L1108,492 L1109.3,874 L1109.3,874 L1109.3,870.94 L1109.32,862.04 L1109.34,848.07 L1109.38,830.22 L1109.42,809.88 L1109.47,788.47 L1109.54,767.28 L1109.61,747.33 L1109.69,729.33 L1109.78,713.62 L1109.88,700.3 L1110,689.2 L1110.12,680.05 L1110.25,672.5 L1110.39,666.18 L1110.54,660.79 L1110.7,656.05 L1110.87,651.78 L1111.04,647.83 L1111.23,644.11 L1111.43,640.55 L1111.64,637.14 L1111.86,633.86 L1112.08,630.7 L1112.32,627.67 L1112.57,624.77 L1112.82,622 L1113.09,619.36 L1113.36,616.87 L1113.65,614.51 L1113.94,612.3 L1114.25,610.23 L1114.56,608.29 L1114.89,606.48 L1115.22,604.8 L1115.56,603.24 L1115.92,601.81 L1116.28,600.48 L1116.65,599.26 L1117.03,598.13 L1117.42,597.1 L1117.83,596.16 L1118.24,595.3 L1118.66,594.51 L1119.09,593.79 L1119.53,593.13 L1119.98,592.53 L1120.44,591.98 L1120.9,591.48 L1121.38,591.03 L1121.87,590.62 L1122.37,590.24 L1122.88,589.9 L1123.39,589.58 L1123.92,589.52 L1124.46,589.52 L1125,589.52 L1125.56,589.52 L1126.12,589.52 L1126.7,589.52 L1127,591.02 L1127,680.86 L1127,479 L1128.3,866 L1128.3,866 L1128.3,862.82 L1128.32,853.58 L1128.34,839.08 L1128.38,820.55 L1128.42,799.44 L1128.47,777.23 L1128.54,755.25 L1128.61,734.58 L1128.69,715.94 L1128.78,699.7 L1128.88,685.95 L1129,674.52 L1129.12,665.12 L1129.25,657.39 L1129.39,650.94 L1129.54,645.46 L1129.7,640.67 L1129.87,636.36 L1130.04,632.38 L1130.23,628.64 L1130.43,625.08 L1130.64,621.66 L1130.86,618.37 L1131.08,615.21 L1131.32,612.17 L1131.57,609.26 L1131.82,606.49 L1132.09,603.86 L1132.36,601.36 L1132.65,599.01 L1132.94,596.79 L1133.25,594.72 L1133.56,592.78 L1133.89,590.97 L1134.22,589.29 L1134.56,587.74 L1134.92,586.3 L1135.28,584.98 L1135.65,583.76 L1136.03,582.64 L1136.42,581.61 L1136.83,580.67 L1137.24,579.8 L1137.66,579.02 L1138.09,578.3 L1138.53,577.64 L1138.98,577.04 L1139.44,576.5 L1139.9,576 L1140.38,575.55 L1140.87,575.14 L1141.37,574.76 L1141.88,574.42 L1142.39,574.11 L1142.92,574.05 L1143.46,574.05 L1144,574.05 L1144.56,574.05 L1145.12,574.05 L1145.7,574.05 L1146,575.55 L1146,668.25 L1146,466 L1147.3,858 L1147.3,858 L1147.3,854.71 L1147.32,845.15 L1147.34,830.15 L1147.38,810.99 L1147.42,789.16 L1147.47,766.2 L1147.54,743.5 L1147.61,722.15 L1147.69,702.92 L1147.78,686.18 L1147.88,672.03 L1148,660.29 L1148.12,650.66 L1148.25,642.75 L1148.39,636.19 L1148.54,630.63 L1148.7,625.79 L1148.87,621.44 L1149.04,617.44 L1149.23,613.68 L1149.43,610.11 L1149.64,606.68 L1149.86,603.38 L1150.08,600.21 L1150.32,597.17 L1150.57,594.26 L1150.82,591.49 L1151.09,588.85 L1151.36,586.35 L1151.65,584 L1151.94,581.78 L1152.25,579.71 L1152.56,577.77 L1152.89,575.96 L1153.22,574.29 L1153.56,572.73 L1153.92,571.3 L1154.28,569.98 L1154.65,568.76 L1155.03,567.64 L1155.42,566.61 L1155.83,565.67 L1156.24,564.81 L1156.66,564.03 L1157.09,563.31 L1157.53,562.65 L1157.98,562.06 L1158.44,561.51 L1158.9,561.02 L1159.38,560.57 L1159.87,560.16 L1160.37,559.78 L1160.88,559.44 L1161.39,559.13 L1161.92,559.08 L1162.46,559.08 L1163,559.08 L1163.56,559.08 L1164.12,559.08 L1164.7,559.08 L1165,560.58 L1165,656.14 L1165,447 L1166.3,850.7 L1166.3,850.7 L1166.3,847.29 L1166.32,837.37 L1166.34,821.83 L1166.38,801.97 L1166.42,779.35 L1166.47,755.57 L1166.54,732.06 L1166.61,709.98 L1166.69,690.1 L1166.78,672.82 L1166.88,658.23 L1167,646.15 L1167.12,636.27 L1167.25,628.18 L1167.39,621.5 L1167.54,615.85 L1167.7,610.94 L1167.87,606.55 L1168.04,602.52 L1168.23,598.74 L1168.43,595.14 L1168.64,591.69 L1168.86,588.38 L1169.08,585.19 L1169.32,582.13 L1169.57,579.2 L1169.82,576.41 L1170.09,573.75 L1170.36,571.23 L1170.65,568.85 L1170.94,566.62 L1171.25,564.52 L1171.56,562.57 L1171.89,560.74 L1172.22,559.04 L1172.56,557.47 L1172.92,556.02 L1173.28,554.68 L1173.65,553.44 L1174.03,552.31 L1174.42,551.27 L1174.83,550.31 L1175.24,549.44 L1175.66,548.64 L1176.09,547.91 L1176.53,547.25 L1176.98,546.64 L1177.44,546.09 L1177.9,545.58 L1178.38,545.12 L1178.87,544.7 L1179.37,544.32 L1179.88,543.98 L1180.39,543.66 L1180.92,543.6 L1181.46,543.6 L1182,543.6 L1182.56,543.6 L1183.12,543.6 L1183.7,543.6 L1184,545.1 L1184,643.53 L1184,429.5 L1185.3,842.5 L1185.3,842.5 L1185.3,839.08 L1185.32,829.14 L1185.34,813.52 L1185.38,793.52 L1185.42,770.67 L1185.47,746.55 L1185.53,722.6 L1185.6,699.98 L1185.68,679.51 L1185.77,661.63 L1185.87,646.45 L1185.98,633.84 L1186.09,623.49 L1186.22,615.03 L1186.36,608.05 L1186.5,602.19 L1186.66,597.14 L1186.82,592.65 L1186.99,588.55 L1187.18,584.73 L1187.37,581.11 L1187.57,577.64 L1187.78,574.3 L1188,571.09 L1188.23,568 L1188.47,565.04 L1188.72,562.21 L1188.98,559.5 L1189.25,556.94 L1189.53,554.51 L1189.81,552.22 L1190.11,550.06 L1190.41,548.04 L1190.73,546.16 L1191.05,544.4 L1191.38,542.76 L1191.73,541.25 L1192.08,539.85 L1192.44,538.55 L1192.81,537.36 L1193.19,536.26 L1193.58,535.25 L1193.98,534.32 L1194.39,533.48 L1194.81,532.7 L1195.23,531.99 L1195.67,531.34 L1196.12,530.75 L1196.57,530.21 L1197.04,529.71 L1197.51,529.26 L1197.99,528.85 L1198.49,528.47 L1198.99,528.13 L1199.5,528.12 L1200.02,528.12 L1200.55,528.12 L1201.09,528.12 L1201.64,528.12 L1202.2,528.12 L1202.5,529.62 L1202.5,630.92 L1202.5,410.5 L1203.8,833.7 L1203.8,833.7 L1203.8,830.2 L1203.82,820 L1203.84,803.99 L1203.88,783.49 L1203.92,760.07 L1203.97,735.35 L1204.03,710.81 L1204.1,687.66 L1204.18,666.7 L1204.27,648.41 L1204.37,632.9 L1204.48,620.04 L1204.59,609.5 L1204.72,600.9 L1204.86,593.82 L1205,587.88 L1205.16,582.78 L1205.32,578.25 L1205.49,574.13 L1205.68,570.29 L1205.87,566.64 L1206.07,563.16 L1206.28,559.81 L1206.5,556.58 L1206.73,553.47 L1206.97,550.49 L1207.22,547.63 L1207.48,544.91 L1207.75,542.32 L1208.03,539.88 L1208.31,537.56 L1208.61,535.39 L1208.91,533.35 L1209.23,531.44 L1209.55,529.66 L1209.88,528.01 L1210.23,526.48 L1210.58,525.05 L1210.94,523.74 L1211.31,522.53 L1211.69,521.42 L1212.08,520.39 L1212.48,519.45 L1212.89,518.59 L1213.31,517.8 L1213.73,517.08 L1214.17,516.42 L1214.62,515.82 L1215.07,515.27 L1215.54,514.77 L1216.01,514.31 L1216.49,513.89 L1216.99,513.51 L1217.49,513.16 L1218,513.15 L1218.52,513.15 L1219.05,513.15 L1219.59,513.15 L1220.14,513.15 L1220.7,513.15 L1221,514.65 L1221,618.82 L1221,395 L1222.3,823.7 L1222.3,823.7 L1222.3,820.14 L1222.32,809.78 L1222.34,793.49 L1222.37,772.61 L1222.42,748.74 L1222.47,723.51 L1222.53,698.42 L1222.6,674.69 L1222.68,653.19 L1222.76,634.38 L1222.86,618.41 L1222.97,605.15 L1223.08,594.29 L1223.21,585.43 L1223.34,578.15 L1223.49,572.08 L1223.64,566.87 L1223.8,562.28 L1223.97,558.11 L1224.16,554.23 L1224.35,550.56 L1224.55,547.06 L1224.75,543.69 L1224.97,540.44 L1225.2,537.31 L1225.44,534.3 L1225.68,531.42 L1225.94,528.67 L1226.2,526.05 L1226.47,523.57 L1226.76,521.22 L1227.05,519.01 L1227.35,516.94 L1227.66,514.99 L1227.98,513.18 L1228.31,511.49 L1228.65,509.92 L1229,508.46 L1229.36,507.11 L1229.72,505.87 L1230.1,504.72 L1230.48,503.66 L1230.88,502.69 L1231.28,501.8 L1231.69,500.99 L1232.12,500.24 L1232.55,499.56 L1232.99,498.93 L1233.44,498.36 L1233.9,497.83 L1234.37,497.36 L1234.84,496.92 L1235.33,496.52 L1235.83,496.18 L1236.33,496.18 L1236.85,496.18 L1237.37,496.18 L1237.91,496.18 L1238.45,496.18 L1239,496.18 L1239.3,497.68 L1239.3,604.71 L1239.3,372 L1240.6,814.5 L1240.6,814.5 L1240.6,810.88 L1240.62,800.35 L1240.64,783.79 L1240.67,762.56 L1240.72,738.26 L1240.77,712.56 L1240.83,686.99 L1240.9,662.79 L1240.97,640.84 L1241.06,621.63 L1241.16,605.31 L1241.26,591.75 L1241.38,580.65 L1241.5,571.6 L1241.64,564.19 L1241.78,558.02 L1241.93,552.74 L1242.09,548.09 L1242.26,543.89 L1242.44,539.98 L1242.63,536.3 L1242.83,532.77 L1243.04,529.38 L1243.26,526.11 L1243.48,522.96 L1243.72,519.94 L1243.96,517.03 L1244.22,514.26 L1244.48,511.61 L1244.75,509.11 L1245.03,506.73 L1245.32,504.49 L1245.62,502.39 L1245.93,500.42 L1246.25,498.57 L1246.58,496.85 L1246.91,495.26 L1247.26,493.77 L1247.61,492.4 L1247.98,491.13 L1248.35,489.96 L1248.73,488.88 L1249.13,487.88 L1249.53,486.97 L1249.94,486.14 L1250.36,485.37 L1250.79,484.67 L1251.22,484.02 L1251.67,483.43 L1252.13,482.9 L1252.59,482.4 L1253.07,481.95 L1253.55,481.54 L1254.05,481.2 L1254.55,481.2 L1255.06,481.2 L1255.58,481.2 L1256.11,481.2 L1256.65,481.2 L1257.2,481.2 L1257.5,482.7 L1257.5,592.6 L1257.5,349.5 L1258.8,804 L1258.8,804 L1258.8,800.23 L1258.82,789.24 L1258.84,771.99 L1258.88,749.9 L1258.92,724.69 L1258.97,698.09 L1259.03,671.72 L1259.1,646.85 L1259.18,624.39 L1259.27,604.82 L1259.37,588.28 L1259.48,574.6 L1259.59,563.45 L1259.72,554.41 L1259.86,547.01 L1260,540.85 L1260.16,535.59 L1260.32,530.95 L1260.49,526.75 L1260.68,522.84 L1260.87,519.14 L1261.07,515.6 L1261.28,512.19 L1261.5,508.91 L1261.73,505.74 L1261.97,502.7 L1262.22,499.79 L1262.48,497.01 L1262.75,494.36 L1263.03,491.85 L1263.31,489.48 L1263.61,487.24 L1263.91,485.14 L1264.23,483.18 L1264.55,481.34 L1264.88,479.63 L1265.23,478.04 L1265.58,476.56 L1265.94,475.2 L1266.31,473.94 L1266.69,472.78 L1267.08,471.71 L1267.48,470.73 L1267.89,469.83 L1268.31,469 L1268.73,468.24 L1269.17,467.55 L1269.62,466.92 L1270.07,466.34 L1270.54,465.81 L1271.01,465.32 L1271.49,464.88 L1271.99,464.48 L1272.49,464.11 L1273,464.1 L1273.52,464.1 L1274.05,464.1 L1274.59,464.1 L1275.14,464.1 L1275.7,464.1 L1276,465.6 L1276,578.37 L1276,322.5 L1277.3,793 L1277.3,793 L1277.3,789.25 L1277.32,778.31 L1277.34,761.1 L1277.37,739.02 L1277.41,713.73 L1277.46,686.94 L1277.52,660.24 L1277.59,634.94 L1277.67,611.95 L1277.76,591.81 L1277.85,574.67 L1277.96,560.44 L1278.07,548.8 L1278.19,539.34 L1278.33,531.61 L1278.47,525.2 L1278.62,519.76 L1278.78,515 L1278.94,510.71 L1279.12,506.75 L1279.31,503.02 L1279.5,499.45 L1279.71,496.03 L1279.92,492.72 L1280.15,489.53 L1280.38,486.46 L1280.62,483.52 L1280.87,480.69 L1281.13,478 L1281.4,475.44 L1281.68,473.01 L1281.96,470.72 L1282.26,468.56 L1282.57,466.53 L1282.88,464.63 L1283.2,462.85 L1283.54,461.2 L1283.88,459.66 L1284.23,458.23 L1284.59,456.91 L1284.96,455.69 L1285.34,454.56 L1285.72,453.52 L1286.12,452.56 L1286.53,451.68 L1286.94,450.88 L1287.36,450.14 L1287.8,449.46 L1288.24,448.84 L1288.69,448.27 L1289.15,447.75 L1289.62,447.27 L1290.1,446.83 L1290.58,446.5 L1291.08,446.5 L1291.59,446.5 L1292.1,446.5 L1292.62,446.5 L1293.16,446.5 L1293.7,446.5 L1294,448 L1294,563.63 L1294,296 L1295.3,781.7 L1295.3,781.7 L1295.3,778.04 L1295.32,767.35 L1295.34,750.5 L1295.37,728.79 L1295.41,703.8 L1295.46,677.19 L1295.51,650.48 L1295.58,624.96 L1295.65,601.58 L1295.74,580.91 L1295.83,563.18 L1295.93,548.32 L1296.04,536.09 L1296.15,526.1 L1296.28,517.93 L1296.42,511.18 L1296.56,505.49 L1296.71,500.55 L1296.87,496.15 L1297.04,492.11 L1297.22,488.33 L1297.41,484.73 L1297.61,481.28 L1297.81,477.95 L1298.03,474.74 L1298.25,471.63 L1298.48,468.65 L1298.72,465.78 L1298.97,463.03 L1299.22,460.41 L1299.49,457.91 L1299.77,455.55 L1300.05,453.31 L1300.34,451.2 L1300.64,449.21 L1300.95,447.35 L1301.27,445.61 L1301.6,443.99 L1301.93,442.48 L1302.28,441.07 L1302.63,439.77 L1302.99,438.56 L1303.36,437.44 L1303.74,436.41 L1304.13,435.46 L1304.53,434.58 L1304.93,433.78 L1305.35,433.03 L1305.77,432.35 L1306.2,431.73 L1306.64,431.15 L1307.09,430.63 L1307.55,430.14 L1308.02,429.9 L1308.49,429.9 L1308.98,429.9 L1309.47,429.9 L1309.97,429.9 L1310.48,429.9 L1311,429.9 L1311.3,431.4 L1311.3,549.9 L1311.3,271.5 L1312.6,770 L1312.6,770 L1312.6,766.05 L1312.62,754.54 L1312.64,736.45 L1312.67,713.26 L1312.72,686.74 L1312.77,658.71 L1312.83,630.85 L1312.9,604.51 L1312.97,580.66 L1313.06,559.84 L1313.16,542.2 L1313.26,527.61 L1313.38,515.73 L1313.5,506.11 L1313.64,498.28 L1313.78,491.81 L1313.93,486.33 L1314.09,481.53 L1314.26,477.22 L1314.44,473.23 L1314.63,469.46 L1314.83,465.86 L1315.04,462.4 L1315.26,459.07 L1315.48,455.85 L1315.72,452.74 L1315.96,449.76 L1316.22,446.91 L1316.48,444.19 L1316.75,441.6 L1317.03,439.14 L1317.32,436.83 L1317.62,434.64 L1317.93,432.59 L1318.25,430.67 L1318.58,428.87 L1318.91,427.2 L1319.26,425.64 L1319.61,424.2 L1319.98,422.86 L1320.35,421.62 L1320.73,420.48 L1321.13,419.43 L1321.53,418.47 L1321.94,417.58 L1322.36,416.76 L1322.79,416.01 L1323.22,415.32 L1323.67,414.7 L1324.13,414.12 L1324.59,413.59 L1325.07,413.11 L1325.55,412.67 L1326.05,412.3 L1326.55,412.3 L1327.06,412.3 L1327.58,412.3 L1328.11,412.3 L1328.65,412.3 L1329.2,412.3 L1329.5,413.8 L1329.5,534.73 L1329.5,236 L1330.8,758 L1330.8,758 L1330.8,754.13 L1330.82,742.85 L1330.84,725.09 L1330.87,702.23 L1330.91,675.96 L1330.96,648.03 L1331.02,620.07 L1331.08,593.44 L1331.16,569.12 L1331.24,547.69 L1331.33,529.38 L1331.44,514.11 L1331.55,501.59 L1331.67,491.41 L1331.79,483.13 L1331.93,476.3 L1332.08,470.55 L1332.23,465.58 L1332.39,461.15 L1332.57,457.08 L1332.75,453.27 L1332.94,449.64 L1333.14,446.16 L1333.34,442.8 L1333.56,439.55 L1333.79,436.41 L1334.02,433.4 L1334.26,430.5 L1334.51,427.72 L1334.78,425.07 L1335.04,422.55 L1335.32,420.16 L1335.61,417.89 L1335.91,415.76 L1336.21,413.76 L1336.52,411.88 L1336.85,410.12 L1337.18,408.48 L1337.52,406.95 L1337.87,405.53 L1338.22,404.21 L1338.59,402.99 L1338.97,401.86 L1339.35,400.82 L1339.74,399.85 L1340.15,398.97 L1340.56,398.15 L1340.98,397.41 L1341.4,396.72 L1341.84,396.08 L1342.29,395.5 L1342.74,394.97 L1343.21,394.48 L1343.68,394.2 L1344.16,394.2 L1344.65,394.2 L1345.15,394.2 L1345.66,394.2 L1346.17,394.2 L1346.7,394.2 L1347,395.7 L1347,519.06 L1347,200 L1348.3,745.2 L1348.3,745.2 L1348.3,741.28 L1348.32,729.83 L1348.34,711.8 L1348.37,688.61 L1348.41,661.96 L1348.46,633.62 L1348.52,605.26 L1348.58,578.25 L1348.66,553.59 L1348.74,531.87 L1348.83,513.31 L1348.94,497.84 L1349.05,485.17 L1349.17,474.87 L1349.29,466.49 L1349.43,459.6 L1349.58,453.81 L1349.73,448.8 L1349.89,444.34 L1350.07,440.25 L1350.25,436.42 L1350.44,432.77 L1350.64,429.27 L1350.84,425.9 L1351.06,422.64 L1351.29,419.49 L1351.52,416.46 L1351.76,413.55 L1352.01,410.76 L1352.28,408.1 L1352.54,405.56 L1352.82,403.16 L1353.11,400.89 L1353.41,398.75 L1353.71,396.74 L1354.02,394.85 L1354.35,393.08 L1354.68,391.44 L1355.02,389.9 L1355.37,388.47 L1355.72,387.15 L1356.09,385.92 L1356.47,384.79 L1356.85,383.74 L1357.24,382.78 L1357.65,381.89 L1358.06,381.07 L1358.48,380.32 L1358.9,379.63 L1359.34,378.99 L1359.79,378.41 L1360.24,377.88 L1360.71,377.38 L1361.18,377.1 L1361.66,377.1 L1362.15,377.1 L1362.65,377.1 L1363.16,377.1 L1363.67,377.1 L1364.2,377.1 L1364.5,378.6 L1364.5,504.39 L1364.5,163 L1365.8,733.5 L1365.8,733.5 L1365.8,729.66 L1365.82,718.46 L1365.84,700.78 L1365.87,677.94 L1365.91,651.56 L1365.95,623.36 L1366.01,594.93 L1366.07,567.64 L1366.14,542.51 L1366.22,520.16 L1366.31,500.9 L1366.41,484.7 L1366.51,471.32 L1366.63,460.4 L1366.75,451.49 L1366.88,444.18 L1367.02,438.07 L1367.17,432.83 L1367.32,428.2 L1367.49,424.01 L1367.66,420.12 L1367.84,416.43 L1368.03,412.9 L1368.23,409.51 L1368.44,406.22 L1368.65,403.05 L1368.88,399.98 L1369.11,397.03 L1369.35,394.2 L1369.6,391.49 L1369.86,388.9 L1370.12,386.44 L1370.4,384.1 L1370.68,381.89 L1370.97,379.8 L1371.27,377.84 L1371.58,376 L1371.9,374.27 L1372.22,372.66 L1372.56,371.15 L1372.9,369.75 L1373.25,368.45 L1373.61,367.25 L1373.97,366.13 L1374.35,365.1 L1374.73,364.14 L1375.13,363.26 L1375.53,362.45 L1375.94,361.7 L1376.36,361.01 L1376.78,360.38 L1377.22,359.79 L1377.66,359.26 L1378.11,359.1 L1378.57,359.1 L1379.04,359.1 L1379.52,359.1 L1380,359.1 L1380.5,359.1 L1381,359.1 L1381.3,360.6 L1381.3,488.81 L1381.3,120 L1382.6,718.5 L1382.6,718.5 L1382.6,714.48 L1382.62,702.74 L1382.64,684.25 L1382.67,660.45 L1382.71,633.09 L1382.76,603.98 L1382.82,574.82 L1382.88,547.02 L1382.96,521.61 L1383.04,499.22 L1383.13,480.08 L1383.23,464.12 L1383.34,451.04 L1383.46,440.42 L1383.59,431.8 L1383.72,424.72 L1383.87,418.79 L1384.02,413.68 L1384.18,409.14 L1384.36,404.99 L1384.54,401.12 L1384.72,397.44 L1384.92,393.91 L1385.13,390.5 L1385.34,387.21 L1385.57,384.04 L1385.8,380.98 L1386.04,378.04 L1386.29,375.22 L1386.55,372.53 L1386.82,369.97 L1387.09,367.54 L1387.38,365.24 L1387.67,363.08 L1387.98,361.04 L1388.29,359.13 L1388.61,357.33 L1388.94,355.66 L1389.28,354.11 L1389.62,352.66 L1389.98,351.31 L1390.34,350.07 L1390.72,348.91 L1391.1,347.85 L1391.49,346.87 L1391.89,345.96 L1392.3,345.13 L1392.71,344.36 L1393.14,343.66 L1393.57,343.01 L1394.02,342.42 L1394.47,341.87 L1394.93,341.37 L1395.4,341.1 L1395.88,341.1 L1396.36,341.1 L1396.86,341.1 L1397.36,341.1 L1397.88,341.1 L1398.4,341.1 L1398.7,342.6 L1398.7,473.24 L1398.7,100 L1400,705 L1400,705 L1400,701.11 L1400.02,689.77 L1400.04,671.83 L1400.07,648.66 L1400.1,621.85 L1400.15,593.15 L1400.2,564.16 L1400.27,536.27 L1400.34,510.52 L1400.42,487.58 L1400.5,467.75 L1400.6,451.04 L1400.7,437.22 L1400.82,425.92 L1400.94,416.72 L1401.07,409.17 L1401.2,402.87 L1401.35,397.49 L1401.5,392.77 L1401.67,388.5 L1401.84,384.55 L1402.02,380.82 L1402.2,377.26 L1402.4,373.83 L1402.6,370.52 L1402.82,367.31 L1403.04,364.22 L1403.27,361.24 L1403.5,358.37 L1403.75,355.62 L1404,353 L1404.27,350.5 L1404.54,348.13 L1404.82,345.88 L1405.1,343.76 L1405.4,341.76 L1405.7,339.88 L1406.02,338.12 L1406.34,336.48 L1406.67,334.94 L1407,333.51 L1407.35,332.17 L1407.7,330.94 L1408.07,329.79 L1408.44,328.73 L1408.82,327.75 L1409.2,326.84 L1409.6,326.01 L1410,325.23 L1410.42,324.52 L1410.84,323.87 L1411.27,323.27 L1411.7,322.71 L1412.15,322.6 L1412.6,322.6 L1413.07,322.6 L1413.54,322.6 L1414.02,322.6 L1414.5,322.6 L1415,322.6 L1415.3,324.1 L1415.3,457.17 L1415.3,100 L1416.6,690 L1416.6,690 L1416.6,686.05 L1416.62,674.53 L1416.64,656.32 L1416.67,632.8 L1416.7,605.63 L1416.75,576.54 L1416.81,547.21 L1416.87,519.02 L1416.94,493.03 L1417.02,469.91 L1417.11,449.96 L1417.2,433.17 L1417.31,419.31 L1417.42,407.99 L1417.54,398.78 L1417.67,391.23 L1417.81,384.93 L1417.96,379.56 L1418.11,374.83 L1418.28,370.55 L1418.45,366.59 L1418.63,362.85 L1418.82,359.28 L1419.02,355.83 L1419.22,352.51 L1419.44,349.29 L1419.66,346.19 L1419.89,343.2 L1420.13,340.32 L1420.38,337.57 L1420.63,334.94 L1420.9,332.44 L1421.17,330.07 L1421.45,327.82 L1421.74,325.7 L1422.04,323.7 L1422.34,321.83 L1422.66,320.07 L1422.98,318.43 L1423.31,316.9 L1423.65,315.47 L1424,314.14 L1424.36,312.91 L1424.72,311.77 L1425.09,310.71 L1425.48,309.74 L1425.87,308.84 L1426.26,308 L1426.67,307.24 L1427.09,306.53 L1427.51,305.88 L1427.94,305.29 L1428.38,304.74 L1428.83,304.6 L1429.29,304.6 L1429.75,304.6 L1430.23,304.6 L1430.71,304.6 L1431.2,304.6 L1431.7,304.6 L1432,306.1 L1432,441.6 L1432,100 L1433.3,676 L1433.3,676 L1433.3,672.07 L1433.32,660.59 L1433.34,642.43 L1433.37,618.96 L1433.4,591.8 L1433.45,562.69 L1433.5,533.26 L1433.56,504.92 L1433.64,478.72 L1433.71,455.35 L1433.8,435.13 L1433.9,418.08 L1434,403.96 L1434.11,392.41 L1434.23,383 L1434.36,375.29 L1434.5,368.87 L1434.64,363.4 L1434.79,358.6 L1434.96,354.28 L1435.13,350.28 L1435.3,346.51 L1435.49,342.92 L1435.68,339.46 L1435.89,336.11 L1436.1,332.88 L1436.32,329.76 L1436.54,326.75 L1436.78,323.85 L1437.03,321.08 L1437.28,318.43 L1437.54,315.9 L1437.81,313.5 L1438.08,311.23 L1438.37,309.08 L1438.66,307.05 L1438.97,305.15 L1439.28,303.36 L1439.6,301.69 L1439.92,300.13 L1440.26,298.68 L1440.6,297.33 L1440.95,296.07 L1441.31,294.9 L1441.68,293.82 L1442.06,292.82 L1442.44,291.9 L1442.84,291.05 L1443.24,290.26 L1443.65,289.54 L1444.07,288.87 L1444.49,288.26 L1444.93,287.69 L1445.37,287.6 L1445.82,287.6 L1446.28,287.6 L1446.75,287.6 L1447.22,287.6 L1447.71,287.6 L1448.2,287.6 L1448.5,289.1 L1448.5,424.98 L1448.5,100 L1449.8,660 L1449.8,660 L1449.8,656.17 L1449.82,644.98 L1449.84,627.25 L1449.86,604.27 L1449.9,577.58 L1449.94,548.85 L1450,519.66 L1450.06,491.38 L1450.12,465.08 L1450.2,441.45 L1450.28,420.85 L1450.38,403.36 L1450.48,388.78 L1450.58,376.79 L1450.7,366.99 L1450.82,358.94 L1450.96,352.26 L1451.1,346.58 L1451.24,341.64 L1451.4,337.21 L1451.56,333.15 L1451.74,329.33 L1451.92,325.7 L1452.1,322.22 L1452.3,318.85 L1452.5,315.6 L1452.72,312.45 L1452.94,309.41 L1453.16,306.48 L1453.4,303.66 L1453.64,300.97 L1453.9,298.39 L1454.16,295.94 L1454.42,293.61 L1454.7,291.41 L1454.98,289.32 L1455.28,287.36 L1455.58,285.51 L1455.88,283.78 L1456.2,282.16 L1456.52,280.64 L1456.86,279.23 L1457.2,277.91 L1457.54,276.69 L1457.9,275.56 L1458.26,274.5 L1458.64,273.53 L1459.02,272.62 L1459.4,271.79 L1459.8,271.02 L1460.2,270.31 L1460.62,269.65 L1461.04,269.1 L1461.46,269.1 L1461.9,269.1 L1462.34,269.1 L1462.8,269.1 L1463.26,269.1 L1463.72,269.1 L1464.2,269.1 L1464.5,270.6 L1464.5,406.85 L1464.5,100 L1465.8,644 L1465.8,644 L1465.8,640.15 L1465.82,628.89 L1465.84,611.07 L1465.86,587.96 L1465.9,561.13 L1465.94,532.24 L1466,502.89 L1466.06,474.46 L1466.12,448.01 L1466.2,424.25 L1466.28,403.55 L1466.38,385.96 L1466.48,371.3 L1466.58,359.25 L1466.7,349.4 L1466.82,341.32 L1466.96,334.6 L1467.1,328.9 L1467.24,323.93 L1467.4,319.49 L1467.56,315.4 L1467.74,311.58 L1467.92,307.93 L1468.1,304.43 L1468.3,301.05 L1468.5,297.78 L1468.72,294.62 L1468.94,291.57 L1469.16,288.63 L1469.4,285.8 L1469.64,283.1 L1469.9,280.51 L1470.16,278.05 L1470.42,275.71 L1470.7,273.5 L1470.98,271.41 L1471.28,269.43 L1471.58,267.58 L1471.88,265.84 L1472.2,264.21 L1472.52,262.69 L1472.86,261.27 L1473.2,259.95 L1473.54,258.72 L1473.9,257.58 L1474.26,256.52 L1474.64,255.54 L1475.02,254.64 L1475.4,253.8 L1475.8,253.03 L1476.2,252.32 L1476.62,251.66 L1477.04,251.1 L1477.46,251.1 L1477.9,251.1 L1478.34,251.1 L1478.8,251.1 L1479.26,251.1 L1479.72,251.1 L1480.2,251.1 L1480.5,252.6 L1480.5,389.23 L1480.5,100 L1481.8,627.3 L1481.8,627.3 L1481.8,623.5 L1481.82,612.4 L1481.84,594.81 L1481.86,571.98 L1481.9,545.43 L1481.94,516.8 L1481.99,487.64 L1482.05,459.33 L1482.12,432.92 L1482.19,409.13 L1482.28,388.34 L1482.37,370.62 L1482.47,355.81 L1482.57,343.6 L1482.69,333.6 L1482.81,325.38 L1482.94,318.55 L1483.08,312.77 L1483.22,307.73 L1483.38,303.24 L1483.54,299.11 L1483.71,295.26 L1483.89,291.59 L1484.07,288.07 L1484.27,284.68 L1484.47,281.39 L1484.68,278.21 L1484.89,275.14 L1485.12,272.18 L1485.35,269.33 L1485.59,266.6 L1485.84,263.99 L1486.1,261.5 L1486.36,259.13 L1486.63,256.89 L1486.91,254.77 L1487.2,252.77 L1487.5,250.88 L1487.8,249.12 L1488.11,247.46 L1488.43,245.91 L1488.76,244.46 L1489.09,243.11 L1489.44,241.86 L1489.79,240.69 L1490.15,239.61 L1490.51,238.6 L1490.89,237.67 L1491.27,236.81 L1491.66,236.02 L1492.06,235.29 L1492.47,234.61 L1492.88,234.1 L1493.3,234.1 L1493.73,234.1 L1494.17,234.1 L1494.62,234.1 L1495.07,234.1 L1495.53,234.1 L1496,234.1 L1496.3,235.6 L1496.3,372.6 L1496.3,100 L1497.6,609.5 L1497.6,609.5 L1497.6,605.81 L1497.62,595 L1497.63,577.84 L1497.66,555.52 L1497.7,529.5 L1497.74,501.34 L1497.79,472.54 L1497.85,444.44 L1497.91,418.1 L1497.98,394.23 L1498.06,373.24 L1498.15,355.24 L1498.25,340.11 L1498.35,327.58 L1498.46,317.27 L1498.58,308.78 L1498.71,301.72 L1498.84,295.76 L1498.98,290.59 L1499.13,286 L1499.29,281.81 L1499.46,277.9 L1499.63,274.2 L1499.81,270.65 L1500,267.23 L1500.19,263.92 L1500.39,260.72 L1500.61,257.62 L1500.82,254.63 L1501.05,251.75 L1501.28,248.98 L1501.53,246.33 L1501.77,243.8 L1502.03,241.39 L1502.3,239.09 L1502.57,236.92 L1502.85,234.87 L1503.14,232.93 L1503.43,231.11 L1503.73,229.4 L1504.04,227.8 L1504.36,226.3 L1504.69,224.89 L1505.02,223.59 L1505.36,222.37 L1505.71,221.24 L1506.07,220.19 L1506.43,219.22 L1506.8,218.32 L1507.18,217.48 L1507.57,216.71 L1507.97,215.99 L1508.37,215.6 L1508.78,215.6 L1509.2,215.6 L1509.62,215.6 L1510.05,215.6 L1510.5,215.6 L1510.94,215.6 L1511.4,215.6 L1511.7,217.1 L1511.7,354.48 L1511.7,100 L1513,592 L1513,592 L1513,588.46 L1513.01,578.08 L1513.03,561.57 L1513.06,540.03 L1513.09,514.8 L1513.13,487.36 L1513.18,459.12 L1513.23,431.37 L1513.3,405.14 L1513.37,381.17 L1513.44,359.91 L1513.53,341.5 L1513.62,325.89 L1513.72,312.86 L1513.83,302.07 L1513.94,293.15 L1514.06,285.73 L1514.19,279.48 L1514.32,274.09 L1514.47,269.33 L1514.62,265.02 L1514.77,261.04 L1514.94,257.28 L1515.11,253.69 L1515.29,250.24 L1515.48,246.9 L1515.67,243.67 L1515.87,240.53 L1516.08,237.5 L1516.3,234.58 L1516.52,231.76 L1516.75,229.05 L1516.99,226.46 L1517.24,223.98 L1517.49,221.62 L1517.75,219.37 L1518.02,217.24 L1518.29,215.23 L1518.58,213.33 L1518.87,211.54 L1519.16,209.85 L1519.47,208.27 L1519.78,206.79 L1520.1,205.41 L1520.42,204.12 L1520.76,202.91 L1521.1,201.79 L1521.45,200.74 L1521.8,199.77 L1522.17,198.87 L1522.54,198.04 L1522.91,197.26 L1523.3,197.1 L1523.69,197.1 L1524.09,197.1 L1524.5,197.1 L1524.91,197.1 L1525.33,197.1 L1525.76,197.1 L1526.2,197.1 L1526.5,198.6 L1526.5,336.35 L1526.5,100 L1527.8,572 L1527.8,572 L1527.8,568.49 L1527.81,558.19 L1527.83,541.82 L1527.86,520.46 L1527.89,495.44 L1527.93,468.21 L1527.98,440.2 L1528.03,412.67 L1528.1,386.64 L1528.17,362.85 L1528.24,341.74 L1528.33,323.46 L1528.42,307.95 L1528.52,294.99 L1528.62,284.25 L1528.74,275.37 L1528.86,267.98 L1528.99,261.73 L1529.12,256.35 L1529.27,251.59 L1529.42,247.27 L1529.57,243.28 L1529.74,239.51 L1529.91,235.91 L1530.09,232.45 L1530.28,229.1 L1530.47,225.85 L1530.67,222.71 L1530.88,219.66 L1531.1,216.72 L1531.32,213.89 L1531.55,211.18 L1531.79,208.57 L1532.04,206.08 L1532.29,203.71 L1532.55,201.46 L1532.82,199.32 L1533.09,197.3 L1533.38,195.39 L1533.67,193.59 L1533.96,191.9 L1534.27,190.32 L1534.58,188.83 L1534.9,187.44 L1535.22,186.14 L1535.56,184.93 L1535.9,183.81 L1536.25,182.76 L1536.6,181.78 L1536.97,180.88 L1537.34,180.04 L1537.71,179.27 L1538.1,179.1 L1538.49,179.1 L1538.89,179.1 L1539.3,179.1 L1539.71,179.1 L1540.13,179.1 L1540.56,179.1 L1541,179.1 L1541.3,180.6 L1541.3,318.73 L1541.3,100 L1542.6,554.5 L1542.6,554.5 L1542.6,550.99 L1542.61,540.69 L1542.63,524.32 L1542.66,502.94 L1542.69,477.88 L1542.73,450.59 L1542.78,422.49 L1542.83,394.83 L1542.89,368.66 L1542.96,344.7 L1543.04,323.4 L1543.12,304.93 L1543.21,289.25 L1543.31,276.13 L1543.42,265.24 L1543.53,256.24 L1543.65,248.74 L1543.78,242.41 L1543.91,236.96 L1544.06,232.15 L1544.2,227.8 L1544.36,223.77 L1544.52,219.98 L1544.7,216.36 L1544.87,212.88 L1545.06,209.51 L1545.25,206.25 L1545.45,203.09 L1545.66,200.03 L1545.88,197.07 L1546.1,194.22 L1546.33,191.49 L1546.56,188.86 L1546.81,186.36 L1547.06,183.97 L1547.32,181.69 L1547.58,179.54 L1547.85,177.49 L1548.13,175.56 L1548.42,173.75 L1548.72,172.04 L1549.02,170.43 L1549.33,168.93 L1549.64,167.52 L1549.97,166.2 L1550.3,164.98 L1550.64,163.83 L1550.98,162.77 L1551.34,161.78 L1551.7,160.86 L1552.06,160.01 L1552.44,159.22 L1552.82,159.1 L1553.21,159.1 L1553.61,159.1 L1554.01,159.1 L1554.42,159.1 L1554.84,159.1 L1555.27,159.1 L1555.7,159.1 L1556,160.6 L1556,299.1 L1556,100 L1557.3,531 L1557.3,531 L1557.3,527.6 L1557.31,517.65 L1557.33,501.8 L1557.36,481.09 L1557.39,456.77 L1557.43,430.25 L1557.48,402.86 L1557.53,375.85 L1557.59,350.2 L1557.66,326.65 L1557.73,305.64 L1557.82,287.35 L1557.91,271.76 L1558,258.67 L1558.11,247.77 L1558.22,238.72 L1558.34,231.17 L1558.46,224.79 L1558.59,219.28 L1558.73,214.43 L1558.88,210.04 L1559.03,205.99 L1559.2,202.17 L1559.36,198.53 L1559.54,195.03 L1559.72,191.64 L1559.91,188.36 L1560.11,185.18 L1560.31,182.1 L1560.53,179.12 L1560.74,176.25 L1560.97,173.49 L1561.2,170.83 L1561.44,168.3 L1561.69,165.88 L1561.94,163.57 L1562.21,161.38 L1562.47,159.31 L1562.75,157.35 L1563.03,155.5 L1563.32,153.75 L1563.62,152.12 L1563.93,150.58 L1564.24,149.14 L1564.56,147.79 L1564.88,146.54 L1565.22,145.37 L1565.56,144.27 L1565.9,143.26 L1566.26,142.31 L1566.62,141.44 L1566.99,140.62 L1567.37,140.6 L1567.75,140.6 L1568.14,140.6 L1568.54,140.6 L1568.94,140.6 L1569.35,140.6 L1569.77,140.6 L1570.2,140.6 L1570.5,142.1 L1570.5,280.6 L1570.5,100 L1571.8,508 L1571.8,508 L1571.8,504.66 L1571.81,494.86 L1571.83,479.25 L1571.86,458.85 L1571.89,434.91 L1571.93,408.78 L1571.98,381.81 L1572.03,355.19 L1572.09,329.92 L1572.16,306.7 L1572.23,285.98 L1572.32,267.94 L1572.41,252.54 L1572.5,239.6 L1572.61,228.81 L1572.72,219.85 L1572.84,212.35 L1572.96,206 L1573.09,200.52 L1573.23,195.67 L1573.38,191.28 L1573.53,187.23 L1573.7,183.4 L1573.86,179.75 L1574.04,176.24 L1574.22,172.84 L1574.41,169.55 L1574.61,166.35 L1574.81,163.26 L1575.03,160.27 L1575.24,157.39 L1575.47,154.61 L1575.7,151.95 L1575.94,149.41 L1576.19,146.98 L1576.44,144.66 L1576.71,142.46 L1576.97,140.38 L1577.25,138.41 L1577.53,136.55 L1577.82,134.81 L1578.12,133.16 L1578.43,131.62 L1578.74,130.17 L1579.06,128.82 L1579.38,127.56 L1579.72,126.38 L1580.06,125.29 L1580.4,124.27 L1580.76,123.32 L1581.12,122.44 L1581.49,121.62 L1581.87,121.6 L1582.25,121.6 L1582.64,121.6 L1583.04,121.6 L1583.44,121.6 L1583.85,121.6 L1584.27,121.6 L1584.7,121.6 L1585,123.1 L1585,250 L1585,100 L1586.3,480.5 L1586.3,480.5 L1586.3,477.14 L1586.31,467.3 L1586.33,451.65 L1586.36,431.25 L1586.39,407.38 L1586.43,381.44 L1586.48,354.8 L1586.54,328.65 L1586.6,303.97 L1586.67,281.45 L1586.75,261.48 L1586.84,244.2 L1586.93,229.55 L1587.03,217.28 L1587.14,207.1 L1587.25,198.63 L1587.38,191.53 L1587.51,185.49 L1587.64,180.23 L1587.79,175.54 L1587.94,171.26 L1588.1,167.26 L1588.27,163.47 L1588.44,159.84 L1588.63,156.34 L1588.82,152.94 L1589.01,149.65 L1589.22,146.47 L1589.43,143.39 L1589.65,140.41 L1589.88,137.55 L1590.11,134.81 L1590.35,132.18 L1590.6,129.67 L1590.86,127.28 L1591.12,125.02 L1591.4,122.87 L1591.67,120.84 L1591.96,118.93 L1592.26,117.12 L1592.56,115.43 L1592.87,113.85 L1593.18,112.36 L1593.51,110.98 L1593.84,109.68 L1594.18,108.48 L1594.52,107.36 L1594.88,106.32 L1595.24,105.35 L1595.61,104.45 L1595.98,103.62 L1596.36,102.85 L1596.76,102.6 L1597.15,102.6 L1597.56,102.6 L1597.97,102.6 L1598.39,102.6 L1598.82,102.6 L1599.26,102.6 L1599.7,102.6 L1600,104.1 L1600,222 L1600,100 L1601.3,451 L1601.3,451 L1601.3,448.01 L1601.31,439.24 L1601.33,425.25 L1601.36,406.9 L1601.39,385.28 L1601.42,361.58 L1601.47,336.96 L1601.52,312.51 L1601.58,289.11 L1601.64,267.42 L1601.72,247.89 L1601.8,230.71 L1601.88,215.9 L1601.98,203.31 L1602.08,192.71 L1602.18,183.8 L1602.3,176.3 L1602.42,169.9 L1602.54,164.36 L1602.68,159.45 L1602.82,155 L1602.97,150.89 L1603.12,147.01 L1603.28,143.32 L1603.45,139.77 L1603.63,136.33 L1603.81,133 L1604,129.76 L1604.2,126.62 L1604.4,123.58 L1604.61,120.64 L1604.83,117.8 L1605.05,115.08 L1605.28,112.46 L1605.52,109.96 L1605.76,107.57 L1606.02,105.3 L1606.27,103.13 L1606.54,101.08 L1606.81,99.15 L1607.09,97.31 L1607.38,95.59 L1607.67,93.97 L1607.97,92.44 L1608.28,91.01 L1608.59,89.67 L1608.91,88.42 L1609.24,87.26 L1609.57,86.17 L1609.91,85.15 L1610.26,84.21 L1610.61,83.6 L1610.98,83.6 L1611.34,83.6 L1611.72,83.6 L1612.1,83.6 L1612.49,83.6 L1612.89,83.6 L1613.29,83.6 L1613.7,83.6 L1614,85.1 L1614,190 L1614,100 L1615.3,418 L1615.3,418 L1615.3,415.16 L1615.31,406.84 L1615.33,393.56 L1615.36,376.15 L1615.39,355.63 L1615.42,333.11 L1615.47,309.72 L1615.52,286.48 L1615.58,264.21 L1615.64,243.56 L1615.72,224.93 L1615.8,208.52 L1615.88,194.34 L1615.98,182.25 L1616.08,172.04 L1616.18,163.43 L1616.3,156.14 L1616.42,149.89 L1616.54,144.44 L1616.68,139.59 L1616.82,135.18 L1616.97,131.09 L1617.12,127.23 L1617.28,123.54 L1617.45,119.98 L1617.63,116.53 L1617.81,113.19 L1618,109.94 L1618.2,106.79 L1618.4,103.73 L1618.61,100.78 L1618.83,97.94 L1619.05,95.2 L1619.28,92.57 L1619.52,90.06 L1619.76,87.66 L1620.02,85.38 L1620.27,83.21 L1620.54,81.15 L1620.81,79.21 L1621.09,77.37 L1621.38,75.64 L1621.67,74.01 L1621.97,72.48 L1622.28,71.04 L1622.59,69.7 L1622.91,68.44 L1623.24,67.27 L1623.57,66.18 L1623.91,65.16 L1624.26,64.21 L1624.61,63.6 L1624.98,63.6 L1625.34,63.6 L1625.72,63.6 L1626.1,63.6 L1626.49,63.6 L1626.89,63.6 L1627.29,63.6 L1627.7,63.6 L1628,65.1 L1628,155 L1628,100 L1629.3,380 L1629.3,380 L1629.3,377.37 L1629.31,369.67 L1629.33,357.37 L1629.36,341.24 L1629.39,322.22 L1629.42,301.34 L1629.47,279.64 L1629.52,258.05 L1629.58,237.34 L1629.64,218.11 L1629.72,200.73 L1629.8,185.37 L1629.88,172.06 L1629.98,160.67 L1630.08,150.99 L1630.18,142.79 L1630.3,135.79 L1630.42,129.75 L1630.54,124.45 L1630.68,119.69 L1630.82,115.34 L1630.97,111.27 L1631.12,107.43 L1631.28,103.74 L1631.45,100.18 L1631.63,96.73 L1631.81,93.37 L1632,90.11 L1632.2,86.95 L1632.4,83.89 L1632.61,80.93 L1632.83,78.07 L1633.05,75.32 L1633.28,72.69 L1633.52,70.16 L1633.76,67.76 L1634.02,65.46 L1634.27,63.28 L1634.54,61.22 L1634.81,59.27 L1635.09,57.42 L1635.38,55.68 L1635.67,54.05 L1635.97,52.51 L1636.28,51.07 L1636.59,49.72 L1636.91,48.46 L1637.24,47.28 L1637.57,46.19 L1637.91,45.16 L1638.26,44.21 L1638.61,43.6 L1638.98,43.6 L1639.34,43.6 L1639.72,43.6 L1640.1,43.6 L1640.49,43.6 L1640.89,43.6 L1641.29,43.6 L1641.7,43.6 L1642,45.1 L1642,-60 L1642,100 L1643.3,335.5 L1643.3,335.5 L1643.3,333.1 L1643.31,326.07 L1643.33,314.86 L1643.36,300.17 L1643.39,282.87 L1643.43,263.92 L1643.47,244.25 L1643.53,224.72 L1643.59,206.03 L1643.65,188.7 L1643.73,173.05 L1643.81,159.23 L1643.9,147.24 L1643.99,136.94 L1644.09,128.16 L1644.2,120.65 L1644.32,114.18 L1644.44,108.53 L1644.57,103.5 L1644.71,98.94 L1644.86,94.71 L1645.01,90.72 L1645.17,86.92 L1645.33,83.25 L1645.5,79.7 L1645.68,76.26 L1645.87,72.9 L1646.07,69.65 L1646.27,66.49 L1646.47,63.43 L1646.69,60.48 L1646.91,57.63 L1647.14,54.9 L1647.38,52.29 L1647.62,49.79 L1647.87,47.41 L1648.13,45.14 L1648.39,42.99 L1648.67,40.96 L1648.94,39.04 L1649.23,37.23 L1649.52,35.53 L1649.82,33.93 L1650.13,32.43 L1650.44,31.02 L1650.76,29.71 L1651.09,28.48 L1651.43,27.34 L1651.77,26.28 L1652.12,25.29 L1652.48,24.37 L1652.84,23.6 L1653.21,23.6 L1653.59,23.6 L1653.97,23.6 L1654.36,23.6 L1654.76,23.6 L1655.17,23.6 L1655.58,23.6 L1656,23.6 L1656.3,25.1 L1656.3,-60 L1656.3,100 L1657.6,282.5 L1657.6,282.5 L1657.6,280.59 L1657.61,274.96 L1657.63,265.98 L1657.65,254.15 L1657.68,240.16 L1657.72,224.72 L1657.76,208.58 L1657.82,192.39 L1657.87,176.74 L1657.94,162.03 L1658.01,148.57 L1658.08,136.5 L1658.17,125.85 L1658.26,116.55 L1658.36,108.47 L1658.46,101.44 L1658.57,95.29 L1658.69,89.84 L1658.81,84.93 L1658.94,80.43 L1659.08,76.23 L1659.23,72.27 L1659.38,68.47 L1659.54,64.8 L1659.7,61.24 L1659.87,57.77 L1660.05,54.39 L1660.24,51.11 L1660.43,47.91 L1660.62,44.8 L1660.83,41.8 L1661.04,38.9 L1661.26,36.1 L1661.49,33.41 L1661.72,30.84 L1661.96,28.38 L1662.2,26.03 L1662.45,23.8 L1662.71,21.67 L1662.98,19.66 L1663.25,17.76 L1663.53,15.97 L1663.81,14.27 L1664.11,12.68 L1664.41,11.19 L1664.71,9.79 L1665.02,8.47 L1665.34,7.25 L1665.67,6.1 L1666,5.03 L1666.34,4.03 L1666.69,3.6 L1667.04,3.6 L1667.4,3.6 L1667.77,3.6 L1668.14,3.6 L1668.52,3.6 L1668.91,3.6 L1669.3,3.6 L1669.7,3.6 L1670,5.1 L1670,-60 L1670,100 L1671.3,217.5" stroke-width="2.7"/>
<path d="M320.4,1023 L320.7,1040 L322.2,1058 M322.2,1058 L322.2,1057.92 L322.22,1057.7 L322.25,1057.33 L322.28,1056.81 L322.32,1056.15 L322.38,1055.36 L322.44,1054.44 L322.52,1053.41 L322.6,1052.26 L322.7,1051.02 L322.81,1049.69 L322.92,1048.27 L323.05,1046.79 L323.18,1045.26 L323.32,1043.68 L323.48,1042.07 L323.64,1040.43 L323.82,1038.79 L324,1037.14 L324.2,1035.5 L324.4,1033.87 L324.62,1032.27 L324.84,1030.71 L325.08,1029.18 L325.32,1027.7 L325.58,1026.26 L325.84,1024.88 L326.12,1023.55 L326.4,1022.29 L326.7,1021.08 L327,1019.93 L327.32,1018.85 L327.64,1017.83 L327.98,1016.87 L328.32,1015.97 L328.68,1015.13 L329.05,1014.34 L329.42,1013.61 L329.81,1012.93 L330.2,1012.3 L330.6,1011.71 L331.02,1011.18 L331.44,1010.68 L331.88,1010.22 L332.32,1009.8 L332.78,1009.41 L333.25,1009.06 L333.72,1008.73 L334.2,1008.43 L334.7,1008.16 L335.2,1007.91 L335.72,1007.68 L336.25,1007.47 L336.78,1007.27 L337.32,1007.2 L337.88,1007.2 L338.44,1007.2 L339.02,1007.2 L339.6,1007.2 L340.2,1007.2 M340.2,1007.2 L340.5,1008.7 L340.5,1038.53 M343,1037.52 L343.14,1035.73 L343.3,1033.9 L343.47,1032.06 L343.65,1030.2 L343.84,1028.34 L344.03,1026.49 L344.24,1024.67 L344.46,1022.87 L344.69,1021.11 L344.93,1019.4 L345.18,1017.74 L345.44,1016.14 L345.71,1014.6 L345.99,1013.13 L346.28,1011.72 L346.57,1010.38 L346.89,1009.11 L347.21,1007.92 L347.54,1006.79 L347.88,1005.73 L348.23,1004.74 L348.59,1003.82 L348.96,1002.95 L349.34,1002.15 L349.73,1001.41 L350.13,1000.72 L350.55,1000.09 L350.97,999.5 L351.4,998.97 L351.84,998.47 L352.29,998.01 L352.76,997.6 L353.23,997.21 L353.71,996.86 L354.21,996.54 L354.71,996.24 L355.22,995.98 L355.75,995.73 L356.28,995.5 L356.82,995.3 L357.38,995.2 L357.94,995.2 L358.52,995.2 L359.1,995.2 L359.7,995.2 L360.3,995.2 M360.3,995.2 L360.6,996.7 L360.6,1027.87 M363.42,1027.4 L363.59,1025.37 L363.77,1023.33 L363.97,1021.29 L364.17,1019.27 L364.38,1017.27 L364.6,1015.31 L364.83,1013.39 L365.08,1011.53 L365.33,1009.72 L365.59,1007.98 L365.87,1006.31 L366.15,1004.72 L366.45,1003.2 L366.75,1001.75 L367.07,1000.39 L367.39,999.1 L367.73,997.89 L368.07,996.76 L368.43,995.7 L368.8,994.71 L369.17,993.79 L369.56,992.94 L369.96,992.15 L370.37,991.42 L370.79,990.75 L371.21,990.13 L371.65,989.56 L372.1,989.04 L372.56,988.56 L373.03,988.12 L373.51,987.72 L374,987.35 L374.51,987.02 L375.02,986.71 L375.54,986.43 L376.07,986.17 L376.61,985.93 L377.17,985.72 L377.73,985.6 L378.3,985.6 L378.89,985.6 L379.48,985.6 L380.09,985.6 L380.7,985.6 M380.7,985.6 L381,987.1 L381,1019.6 M383.92,1019.4 L384.1,1017.14 L384.29,1014.89 L384.5,1012.65 L384.71,1010.43 L384.94,1008.25 L385.18,1006.12 L385.42,1004.05 L385.68,1002.05 L385.95,1000.12 L386.24,998.27 L386.53,996.51 L386.83,994.83 L387.15,993.24 L387.48,991.74 L387.81,990.33 L388.16,989.01 L388.52,987.77 L388.89,986.62 L389.27,985.55 L389.66,984.56 L390.07,983.64 L390.48,982.8 L390.91,982.02 L391.34,981.31 L391.79,980.65 L392.25,980.05 L392.72,979.5 L393.2,979 L393.69,978.54 L394.2,978.12 L394.71,977.74 L395.24,977.4 L395.77,977.08 L396.32,976.79 L396.88,976.53 L397.45,976.29 L398.03,976.07 L398.62,975.87 L399.22,975.7 L399.84,975.7 L400.46,975.7 L401.1,975.7 L401.74,975.7 L402.4,975.7 M402.4,975.7 L402.7,977.2 L402.7,1009.95 M405.81,1009.57 L406,1007.13 L406.21,1004.71 L406.42,1002.32 L406.65,999.97 L406.89,997.68 L407.14,995.45 L407.4,993.3 L407.67,991.23 L407.96,989.24 L408.25,987.35 L408.56,985.55 L408.87,983.84 L409.2,982.24 L409.54,980.73 L409.89,979.32 L410.25,978 L410.62,976.77 L411.01,975.63 L411.4,974.58 L411.81,973.61 L412.22,972.71 L412.65,971.88 L413.09,971.13 L413.54,970.43 L414,969.8 L414.47,969.22 L414.96,968.68 L415.45,968.2 L415.96,967.76 L416.47,967.36 L417,966.99 L417.54,966.66 L418.09,966.35 L418.65,966.08 L419.22,965.82 L419.81,965.6 L420.4,965.39 L421.01,965.2 L421.62,965.2 L422.25,965.2 L422.89,965.2 L423.54,965.2 L424.2,965.2 M424.2,965.2 L424.5,966.7 L424.5,999.7 M428.02,997.3 L428.23,994.7 L428.46,992.14 L428.7,989.65 L428.95,987.24 L429.22,984.9 L429.49,982.66 L429.77,980.51 L430.07,978.46 L430.38,976.52 L430.7,974.68 L431.02,972.95 L431.37,971.32 L431.72,969.8 L432.08,968.38 L432.45,967.06 L432.84,965.84 L433.24,964.71 L433.64,963.67 L434.06,962.71 L434.49,961.82 L434.93,961.01 L435.39,960.27 L435.85,959.59 L436.32,958.97 L436.81,958.41 L437.31,957.89 L437.81,957.42 L438.33,956.99 L438.86,956.6 L439.41,956.25 L439.96,955.93 L440.52,955.63 L441.1,955.37 L441.68,955.12 L442.28,954.9 L442.89,954.7 L443.51,954.7 L444.14,954.7 L444.78,954.7 L445.44,954.7 L446.1,954.7 M446.1,954.7 L446.4,956.2 L446.4,989.94 M449.95,987.6 L450.17,984.72 L450.4,981.9 L450.64,979.14 L450.9,976.48 L451.16,973.9 L451.44,971.43 L451.73,969.07 L452.03,966.83 L452.34,964.7 L452.67,962.69 L453,960.81 L453.35,959.04 L453.7,957.39 L454.07,955.85 L454.45,954.42 L454.84,953.1 L455.24,951.88 L455.66,950.76 L456.08,949.73 L456.52,948.78 L456.97,947.91 L457.43,947.12 L457.9,946.4 L458.38,945.74 L458.87,945.13 L459.38,944.59 L459.89,944.09 L460.42,943.63 L460.96,943.22 L461.51,942.85 L462.07,942.51 L462.64,942.2 L463.22,941.92 L463.82,941.66 L464.42,941.43 L465.04,941.22 L465.67,941.2 L466.31,941.2 L466.96,941.2 L467.63,941.2 L468.3,941.2 M468.3,941.2 L468.6,942.7 L468.6,977.17 M472.39,974.93 L472.62,971.77 L472.87,968.69 L473.13,965.7 L473.4,962.83 L473.68,960.08 L473.97,957.45 L474.27,954.95 L474.59,952.59 L474.91,950.36 L475.25,948.27 L475.6,946.32 L475.96,944.49 L476.33,942.8 L476.71,941.23 L477.11,939.78 L477.52,938.44 L477.93,937.21 L478.36,936.08 L478.8,935.04 L479.26,934.09 L479.72,933.23 L480.19,932.44 L480.68,931.72 L481.18,931.07 L481.69,930.47 L482.21,929.93 L482.74,929.44 L483.28,928.99 L483.84,928.59 L484.41,928.22 L484.98,927.89 L485.57,927.58 L486.17,927.31 L486.79,927.06 L487.41,926.83 L488.04,926.8 L488.69,926.8 L489.35,926.8 L490.02,926.8 L490.7,926.8 M490.7,926.8 L491,928.3 L491,963.51 M495.01,961.8 L495.26,958.4 L495.51,955.1 L495.78,951.92 L496.06,948.88 L496.35,945.98 L496.65,943.22 L496.96,940.61 L497.29,938.16 L497.62,935.85 L497.97,933.69 L498.33,931.68 L498.7,929.81 L499.08,928.08 L499.48,926.48 L499.88,925 L500.3,923.65 L500.72,922.4 L501.16,921.26 L501.61,920.22 L502.07,919.26 L502.55,918.4 L503.03,917.61 L503.52,916.89 L504.03,916.23 L504.55,915.64 L505.08,915.1 L505.62,914.6 L506.17,914.16 L506.74,913.75 L507.31,913.39 L507.9,913.05 L508.5,912.75 L509.11,912.48 L509.73,912.23 L510.36,912.2 L511,912.2 L511.66,912.2 L512.32,912.2 L513,912.2 M513,912.2 L513.3,913.7 L513.3,949.64 M517.26,946.72 L517.5,943.49 L517.75,940.35 L518.02,937.33 L518.29,934.43 L518.57,931.67 L518.87,929.04 L519.18,926.55 L519.5,924.2 L519.83,921.99 L520.17,919.92 L520.52,918 L520.88,916.2 L521.25,914.54 L521.64,913 L522.04,911.58 L522.44,910.27 L522.86,909.07 L523.29,907.97 L523.73,906.96 L524.19,906.04 L524.65,905.2 L525.12,904.43 L525.61,903.74 L526.11,903.1 L526.61,902.52 L527.13,902 L527.66,901.52 L528.21,901.09 L528.76,900.69 L529.32,900.33 L529.9,900.01 L530.48,899.71 L531.08,899.45 L531.69,899.2 L532.31,899.2 L532.94,899.2 L533.58,899.2 L534.24,899.2 L534.9,899.2 M534.9,899.2 L535.2,900.7 L535.2,937.38 M539.39,934.4 L539.64,931.27 L539.9,928.25 L540.17,925.35 L540.46,922.58 L540.75,919.95 L541.06,917.47 L541.37,915.12 L541.7,912.92 L542.04,910.85 L542.39,908.93 L542.75,907.14 L543.12,905.48 L543.51,903.94 L543.9,902.52 L544.31,901.22 L544.72,900.02 L545.15,898.93 L545.59,897.92 L546.04,897 L546.5,896.17 L546.97,895.4 L547.46,894.71 L547.95,894.07 L548.46,893.5 L548.97,892.98 L549.5,892.5 L550.04,892.07 L550.59,891.68 L551.15,891.32 L551.72,891 L552.31,890.71 L552.9,890.44 L553.51,890.2 L554.12,890.2 L554.75,890.2 L555.39,890.2 L556.04,890.2 L556.7,890.2 M556.7,890.2 L557,891.7 L557,929.11 M561.26,927.39 L561.51,924.25 L561.78,921.24 L562.06,918.35 L562.35,915.61 L562.65,913 L562.96,910.54 L563.29,908.23 L563.62,906.06 L563.97,904.04 L564.33,902.16 L564.7,900.42 L565.08,898.8 L565.48,897.31 L565.88,895.94 L566.3,894.69 L566.72,893.54 L567.16,892.48 L567.61,891.52 L568.07,890.65 L568.54,889.85 L569.03,889.12 L569.52,888.46 L570.03,887.86 L570.55,887.32 L571.08,886.83 L571.62,886.38 L572.17,885.98 L572.74,885.61 L573.31,885.27 L573.9,884.97 L574.5,884.7 L575.11,884.45 L575.73,884.23 L576.36,884.2 L577,884.2 L577.66,884.2 L578.32,884.2 L579,884.2 M579,884.2 L579.3,885.7 L579.3,923.85 M583.52,923.12 L583.77,919.98 L584.03,916.96 L584.31,914.07 L584.59,911.32 L584.89,908.71 L585.2,906.25 L585.52,903.93 L585.85,901.75 L586.19,899.72 L586.55,897.83 L586.91,896.07 L587.29,894.45 L587.67,892.95 L588.07,891.57 L588.48,890.3 L588.9,889.14 L589.33,888.08 L589.78,887.11 L590.23,886.22 L590.7,885.42 L591.17,884.68 L591.66,884.02 L592.16,883.41 L592.67,882.86 L593.19,882.36 L593.73,881.91 L594.27,881.5 L594.83,881.12 L595.39,880.79 L595.97,880.48 L596.56,880.2 L597.16,879.95 L597.77,879.72 L598.4,879.71 L599.03,879.71 L599.68,879.71 L600.33,879.71 L601,879.71 M601,879.71 L601.3,881.21 L601.3,920.09 M605.24,919.69 L605.48,916.45 L605.72,913.31 L605.98,910.29 L606.25,907.4 L606.54,904.64 L606.83,902.03 L607.13,899.55 L607.45,897.23 L607.77,895.04 L608.11,893 L608.46,891.1 L608.82,889.33 L609.19,887.7 L609.57,886.19 L609.96,884.8 L610.37,883.52 L610.78,882.35 L611.21,881.28 L611.64,880.3 L612.09,879.4 L612.55,878.59 L613.02,877.85 L613.5,877.17 L613.99,876.56 L614.5,876 L615.01,875.49 L615.54,875.03 L616.07,874.62 L616.62,874.24 L617.18,873.9 L617.75,873.59 L618.33,873.3 L618.92,873.05 L619.52,872.82 L620.14,872.82 L620.76,872.82 L621.4,872.82 L622.04,872.82 L622.7,872.82 M622.7,872.82 L623,874.32 L623,913.94 M626.9,912.57 L627.14,909.32 L627.38,906.18 L627.64,903.15 L627.9,900.25 L628.18,897.49 L628.47,894.86 L628.77,892.37 L629.08,890.02 L629.4,887.82 L629.73,885.76 L630.08,883.84 L630.43,882.05 L630.79,880.4 L631.17,878.87 L631.56,877.45 L631.95,876.16 L632.36,874.96 L632.78,873.87 L633.21,872.87 L633.65,871.96 L634.1,871.13 L634.57,870.37 L635.04,869.68 L635.52,869.05 L636.02,868.48 L636.53,867.96 L637.04,867.49 L637.57,867.06 L638.11,866.67 L638.66,866.32 L639.22,866 L639.79,865.71 L640.38,865.45 L640.97,865.23 L641.57,865.23 L642.19,865.23 L642.82,865.23 L643.45,865.23 L644.1,865.23 M644.1,865.23 L644.4,866.73 L644.4,907.09 M648.3,904.58 L648.54,901.32 L648.78,898.18 L649.04,895.15 L649.3,892.24 L649.58,889.47 L649.87,886.84 L650.17,884.35 L650.48,882 L650.8,879.8 L651.13,877.74 L651.48,875.82 L651.83,874.03 L652.19,872.38 L652.57,870.85 L652.96,869.44 L653.35,868.14 L653.76,866.95 L654.18,865.86 L654.61,864.86 L655.05,863.95 L655.5,863.12 L655.97,862.37 L656.44,861.68 L656.92,861.05 L657.42,860.48 L657.93,859.96 L658.44,859.49 L658.97,859.07 L659.51,858.68 L660.06,858.33 L660.62,858.01 L661.19,857.72 L661.78,857.46 L662.37,857.24 L662.97,857.24 L663.59,857.24 L664.22,857.24 L664.85,857.24 L665.5,857.24 M665.5,857.24 L665.8,858.74 L665.8,899.83 M669.49,898.79 L669.71,895.43 L669.95,892.17 L670.19,889.02 L670.45,885.98 L670.72,883.08 L671,880.31 L671.29,877.68 L671.59,875.19 L671.9,872.85 L672.22,870.65 L672.56,868.6 L672.9,866.68 L673.26,864.9 L673.63,863.26 L674,861.74 L674.39,860.33 L674.79,859.05 L675.2,857.86 L675.62,856.78 L676.06,855.79 L676.5,854.89 L676.95,854.07 L677.42,853.32 L677.89,852.64 L678.38,852.02 L678.88,851.46 L679.39,850.94 L679.91,850.48 L680.44,850.06 L680.98,849.68 L681.53,849.33 L682.1,849.02 L682.67,848.73 L683.26,848.47 L683.85,848.26 L684.46,848.26 L685.08,848.26 L685.71,848.26 L686.35,848.26 L687,848.26 M687,848.26 L687.3,849.76 L687.3,891.58 M690.94,891.03 L691.16,887.67 L691.39,884.41 L691.64,881.25 L691.89,878.21 L692.15,875.29 L692.42,872.51 L692.71,869.86 L693,867.35 L693.31,864.99 L693.62,862.77 L693.95,860.69 L694.29,858.75 L694.64,856.94 L695,855.26 L695.37,853.71 L695.75,852.28 L696.14,850.97 L696.54,849.76 L696.95,848.65 L697.38,847.63 L697.81,846.71 L698.26,845.86 L698.71,845.09 L699.18,844.38 L699.66,843.75 L700.14,843.16 L700.64,842.63 L701.15,842.15 L701.67,841.72 L702.2,841.32 L702.74,840.96 L703.3,840.63 L703.86,840.33 L704.43,840.06 L705.02,839.87 L705.61,839.87 L706.22,839.87 L706.83,839.87 L707.46,839.87 L708.1,839.87 M708.1,839.87 L708.4,841.37 L708.4,883.93 M712.04,882.45 L712.26,879.08 L712.49,875.81 L712.74,872.65 L712.99,869.6 L713.25,866.68 L713.52,863.9 L713.81,861.25 L714.1,858.74 L714.41,856.37 L714.73,854.15 L715.05,852.07 L715.39,850.13 L715.74,848.32 L716.1,846.65 L716.47,845.1 L716.85,843.67 L717.24,842.35 L717.64,841.15 L718.05,840.04 L718.48,839.03 L718.91,838.1 L719.36,837.25 L719.81,836.48 L720.28,835.78 L720.76,835.14 L721.24,834.56 L721.74,834.04 L722.25,833.56 L722.77,833.12 L723.3,832.73 L723.84,832.37 L724.4,832.04 L724.96,831.74 L725.53,831.48 L726.12,831.28 L726.71,831.28 L727.32,831.28 L727.93,831.28 L728.56,831.28 L729.2,831.28 M729.2,831.28 L729.5,832.78 L729.5,876.07 M733.13,873.62 L733.35,870.25 L733.58,866.98 L733.82,863.81 L734.07,860.76 L734.33,857.83 L734.61,855.04 L734.89,852.38 L735.18,849.87 L735.49,847.5 L735.8,845.27 L736.13,843.18 L736.46,841.23 L736.81,839.42 L737.17,837.74 L737.53,836.18 L737.91,834.75 L738.3,833.43 L738.7,832.21 L739.11,831.1 L739.53,830.08 L739.97,829.15 L740.41,828.3 L740.86,827.52 L741.33,826.82 L741.8,826.18 L742.29,825.59 L742.78,825.06 L743.29,824.58 L743.81,824.14 L744.33,823.74 L744.87,823.38 L745.42,823.05 L745.98,822.75 L746.55,822.48 L747.13,822.29 L747.73,822.29 L748.33,822.29 L748.94,822.29 L749.57,822.29 L750.2,822.29 M750.2,822.29 L750.5,823.79 L750.5,867.82 M754.08,865.04 L754.29,861.67 L754.51,858.4 L754.75,855.23 L754.99,852.17 L755.25,849.23 L755.51,846.42 L755.79,843.74 L756.07,841.2 L756.37,838.8 L756.67,836.54 L756.99,834.42 L757.32,832.44 L757.66,830.59 L758,828.87 L758.36,827.28 L758.73,825.81 L759.11,824.45 L759.5,823.2 L759.9,822.05 L760.31,821 L760.73,820.03 L761.16,819.15 L761.6,818.34 L762.06,817.61 L762.52,816.94 L762.99,816.33 L763.47,815.77 L763.97,815.27 L764.47,814.81 L764.99,814.39 L765.51,814.01 L766.05,813.67 L766.59,813.35 L767.15,813.07 L767.71,812.9 L768.29,812.9 L768.88,812.9 L769.47,812.9 L770.08,812.9 L770.7,812.9 M770.7,812.9 L771,814.4 L771,859.16 M774.6,856.14 L774.82,852.76 L775.04,849.47 L775.28,846.29 L775.52,843.23 L775.78,840.29 L776.05,837.49 L776.33,834.81 L776.62,832.28 L776.92,829.89 L777.23,827.64 L777.55,825.53 L777.88,823.57 L778.22,821.73 L778.57,820.03 L778.93,818.45 L779.3,817 L779.69,815.66 L780.08,814.42 L780.49,813.29 L780.9,812.25 L781.33,811.31 L781.76,810.44 L782.21,809.65 L782.66,808.93 L783.13,808.27 L783.61,807.67 L784.1,807.13 L784.6,806.64 L785.11,806.19 L785.63,805.78 L786.16,805.41 L786.7,805.07 L787.25,804.77 L787.81,804.49 L788.38,804.31 L788.96,804.31 L789.56,804.31 L790.16,804.31 L790.78,804.31 L791.4,804.31 M791.4,804.31 L791.7,805.81 L791.7,851.31 M795.06,850.28 L795.26,846.81 L795.47,843.42 L795.69,840.14 L795.92,836.96 L796.16,833.89 L796.41,830.94 L796.67,828.12 L796.95,825.43 L797.23,822.88 L797.52,820.46 L797.83,818.19 L798.14,816.05 L798.46,814.06 L798.8,812.19 L799.14,810.46 L799.5,808.86 L799.86,807.37 L800.24,806 L800.62,804.74 L801.02,803.57 L801.42,802.51 L801.84,801.53 L802.27,800.64 L802.7,799.83 L803.15,799.08 L803.61,798.4 L804.07,797.79 L804.55,797.22 L805.04,796.71 L805.54,796.25 L806.05,795.82 L806.57,795.43 L807.1,795.08 L807.64,794.76 L808.19,794.47 L808.75,794.32 L809.32,794.32 L809.9,794.32 L810.49,794.32 L811.09,794.32 L811.7,794.32 M811.7,794.32 L812,795.82 L812,843.49 M815.18,842.6 L815.38,839 L815.58,835.5 L815.79,832.11 L816.01,828.81 L816.25,825.62 L816.49,822.55 L816.75,819.6 L817.01,816.78 L817.29,814.1 L817.57,811.55 L817.87,809.15 L818.17,806.88 L818.49,804.76 L818.82,802.78 L819.16,800.93 L819.5,799.22 L819.86,797.63 L820.23,796.16 L820.61,794.8 L821,793.56 L821.4,792.42 L821.81,791.37 L822.23,790.41 L822.66,789.53 L823.1,788.73 L823.56,788 L824.02,787.34 L824.49,786.73 L824.97,786.18 L825.47,785.68 L825.97,785.22 L826.49,784.81 L827.01,784.43 L827.55,784.09 L828.09,783.78 L828.65,783.5 L829.21,783.33 L829.79,783.33 L830.38,783.33 L830.97,783.33 L831.58,783.33 L832.2,783.33 M832.2,783.33 L832.5,784.83 L832.5,834.67 M835.64,832.45 L835.83,828.84 L836.02,825.35 L836.23,821.95 L836.45,818.65 L836.67,815.46 L836.91,812.38 L837.16,809.42 L837.42,806.58 L837.69,803.88 L837.96,801.31 L838.25,798.88 L838.55,796.58 L838.86,794.43 L839.18,792.41 L839.51,790.53 L839.84,788.77 L840.19,787.14 L840.55,785.64 L840.92,784.24 L841.3,782.96 L841.69,781.78 L842.09,780.69 L842.5,779.7 L842.92,778.79 L843.35,777.96 L843.79,777.2 L844.24,776.5 L844.7,775.87 L845.17,775.3 L845.65,774.77 L846.14,774.29 L846.64,773.86 L847.15,773.46 L847.67,773.1 L848.2,772.77 L848.74,772.48 L849.29,772.34 L849.85,772.34 L850.43,772.34 L851.01,772.34 L851.6,772.34 L852.2,772.34 M852.2,772.34 L852.5,773.84 L852.5,825.84 M855.28,824.96 L855.46,821.19 L855.65,817.55 L855.84,814.04 L856.05,810.63 L856.27,807.32 L856.5,804.12 L856.74,801.04 L856.99,798.07 L857.26,795.24 L857.53,792.54 L857.81,789.98 L858.1,787.55 L858.4,785.27 L858.71,783.13 L859.03,781.13 L859.37,779.26 L859.71,777.52 L860.06,775.91 L860.42,774.42 L860.8,773.04 L861.18,771.78 L861.57,770.62 L861.98,769.55 L862.39,768.57 L862.82,767.68 L863.25,766.86 L863.7,766.11 L864.15,765.44 L864.62,764.82 L865.09,764.25 L865.58,763.74 L866.07,763.27 L866.58,762.85 L867.09,762.46 L867.62,762.11 L868.16,761.79 L868.7,761.5 L869.26,761.36 L869.83,761.36 L870.41,761.36 L870.99,761.36 L871.59,761.36 L872.2,761.36 M872.2,761.36 L872.5,762.86 L872.5,817.02 M875.32,813.75 L875.5,809.94 L875.7,806.28 L875.9,802.74 L876.12,799.31 L876.34,795.99 L876.58,792.78 L876.82,789.69 L877.08,786.74 L877.35,783.91 L877.63,781.23 L877.92,778.69 L878.22,776.29 L878.52,774.04 L878.85,771.93 L879.18,769.97 L879.52,768.14 L879.87,766.44 L880.23,764.87 L880.6,763.42 L880.99,762.08 L881.38,760.86 L881.79,759.74 L882.2,758.71 L882.63,757.77 L883.06,756.91 L883.51,756.13 L883.96,755.42 L884.43,754.77 L884.91,754.18 L885.4,753.64 L885.9,753.15 L886.41,752.71 L886.93,752.31 L887.46,751.95 L888,751.61 L888.55,751.31 L889.11,751.04 L889.68,750.87 L890.26,750.87 L890.86,750.87 L891.46,750.87 L892.08,750.87 L892.7,750.87 M892.7,750.87 L893,752.37 L893,808.7 M895.61,806.7 L895.78,802.64 L895.96,798.8 L896.15,795.13 L896.34,791.58 L896.55,788.15 L896.77,784.83 L897,781.62 L897.24,778.52 L897.49,775.55 L897.76,772.71 L898.03,770.01 L898.31,767.44 L898.6,765.02 L898.9,762.73 L899.21,760.59 L899.53,758.59 L899.87,756.72 L900.21,754.98 L900.56,753.37 L900.92,751.89 L901.3,750.51 L901.68,749.25 L902.07,748.09 L902.48,747.03 L902.89,746.05 L903.32,745.16 L903.75,744.35 L904.2,743.61 L904.65,742.93 L905.12,742.32 L905.59,741.76 L906.08,741.25 L906.57,740.78 L907.08,740.36 L907.59,739.98 L908.12,739.63 L908.66,739.31 L909.2,739.02 L909.76,738.88 L910.33,738.88 L910.91,738.88 L911.49,738.88 L912.09,738.88 L912.7,738.88 M912.7,738.88 L913,740.38 L913,798.88 M915.61,795.32 L915.78,791.22 L915.96,787.35 L916.15,783.66 L916.34,780.1 L916.55,776.66 L916.77,773.33 L917,770.11 L917.24,767.02 L917.49,764.04 L917.76,761.2 L918.03,758.49 L918.31,755.92 L918.6,753.5 L918.9,751.21 L919.21,749.07 L919.53,747.07 L919.87,745.2 L920.21,743.46 L920.56,741.86 L920.92,740.37 L921.3,739 L921.68,737.74 L922.07,736.58 L922.48,735.52 L922.89,734.55 L923.32,733.66 L923.75,732.85 L924.2,732.11 L924.65,731.43 L925.12,730.82 L925.59,730.26 L926.08,729.75 L926.57,729.29 L927.08,728.87 L927.59,728.48 L928.12,728.14 L928.66,727.82 L929.2,727.53 L929.76,727.39 L930.33,727.39 L930.91,727.39 L931.49,727.39 L932.09,727.39 L932.7,727.39 M932.7,727.39 L933,728.89 L933,790.22 M935.42,788.87 L935.57,784.32 L935.74,780.15 L935.91,776.25 L936.09,772.54 L936.29,768.97 L936.49,765.53 L936.71,762.19 L936.93,758.97 L937.16,755.86 L937.41,752.88 L937.66,750.02 L937.92,747.29 L938.2,744.7 L938.48,742.24 L938.77,739.92 L939.08,737.75 L939.39,735.71 L939.71,733.8 L940.05,732.03 L940.39,730.38 L940.74,728.86 L941.11,727.45 L941.48,726.15 L941.86,724.95 L942.26,723.85 L942.66,722.84 L943.07,721.92 L943.49,721.08 L943.93,720.31 L944.37,719.6 L944.82,718.96 L945.28,718.37 L945.76,717.84 L946.24,717.36 L946.73,716.91 L947.23,716.51 L947.74,716.14 L948.27,715.81 L948.8,715.51 L949.34,715.4 L949.89,715.4 L950.45,715.4 L951.03,715.4 L951.61,715.4 L952.2,715.4 M952.2,715.4 L952.5,716.9 L952.5,781.07 M954.79,780.78 L954.94,775.62 L955.09,771.01 L955.26,766.8 L955.44,762.87 L955.63,759.13 L955.82,755.55 L956.03,752.09 L956.25,748.74 L956.47,745.51 L956.71,742.4 L956.96,739.42 L957.22,736.56 L957.49,733.84 L957.76,731.26 L958.05,728.82 L958.35,726.52 L958.66,724.37 L958.98,722.35 L959.31,720.47 L959.64,718.72 L959.99,717.1 L960.35,715.6 L960.72,714.22 L961.1,712.94 L961.49,711.77 L961.89,710.7 L962.3,709.71 L962.72,708.81 L963.15,707.99 L963.59,707.24 L964.04,706.56 L964.5,705.94 L964.97,705.37 L965.45,704.85 L965.94,704.39 L966.44,703.96 L966.95,703.57 L967.47,703.22 L968,702.9 L968.54,702.6 L969.09,702.48 L969.65,702.48 L970.23,702.48 L970.81,702.48 L971.4,702.48 L972,702.48 M972,702.48 L972.3,703.98 L972.3,770.98 M974.59,767.92 L974.73,762.61 L974.89,757.91 L975.05,753.64 L975.23,749.67 L975.42,745.91 L975.61,742.31 L975.82,738.83 L976.03,735.48 L976.26,732.25 L976.5,729.13 L976.74,726.14 L977,723.28 L977.27,720.55 L977.54,717.97 L977.83,715.52 L978.12,713.21 L978.43,711.05 L978.75,709.03 L979.08,707.14 L979.41,705.38 L979.76,703.75 L980.12,702.25 L980.48,700.86 L980.86,699.58 L981.25,698.4 L981.64,697.32 L982.05,696.33 L982.47,695.43 L982.9,694.6 L983.33,693.84 L983.78,693.16 L984.24,692.53 L984.71,691.96 L985.18,691.44 L985.67,690.97 L986.17,690.54 L986.68,690.14 L987.2,689.79 L987.72,689.46 L988.26,689.17 L988.81,689.05 L989.37,689.05 L989.94,689.05 L990.51,689.05 L991.1,689.05 L991.7,689.05 M991.7,689.05 L992,690.55 L992,760.38 M994.27,755.71 L994.42,750.27 L994.57,745.48 L994.74,741.15 L994.91,737.14 L995.09,733.35 L995.29,729.74 L995.49,726.26 L995.71,722.9 L995.93,719.66 L996.16,716.53 L996.41,713.54 L996.66,710.67 L996.92,707.93 L997.2,705.33 L997.48,702.87 L997.77,700.55 L998.08,698.38 L998.39,696.34 L998.71,694.43 L999.05,692.66 L999.39,691.02 L999.74,689.5 L1000.11,688.09 L1000.48,686.8 L1000.86,685.6 L1001.26,684.51 L1001.66,683.51 L1002.07,682.59 L1002.49,681.75 L1002.93,680.99 L1003.37,680.29 L1003.82,679.65 L1004.28,679.07 L1004.76,678.54 L1005.24,678.06 L1005.73,677.62 L1006.23,677.22 L1006.74,676.86 L1007.27,676.53 L1007.8,676.23 L1008.34,676.12 L1008.89,676.12 L1009.45,676.12 L1010.03,676.12 L1010.61,676.12 L1011.2,676.12 M1011.2,676.12 L1011.5,677.62 L1011.5,750.29 M1013.64,748.66 L1013.77,742.16 L1013.92,736.59 L1014.07,731.71 L1014.24,727.32 L1014.41,723.27 L1014.59,719.46 L1014.79,715.82 L1014.99,712.33 L1015.21,708.97 L1015.43,705.72 L1015.66,702.59 L1015.91,699.59 L1016.16,696.71 L1016.42,693.98 L1016.7,691.37 L1016.98,688.91 L1017.27,686.6 L1017.58,684.42 L1017.89,682.38 L1018.21,680.48 L1018.55,678.71 L1018.89,677.06 L1019.24,675.54 L1019.61,674.14 L1019.98,672.85 L1020.36,671.66 L1020.76,670.56 L1021.16,669.56 L1021.57,668.65 L1021.99,667.81 L1022.43,667.05 L1022.87,666.35 L1023.32,665.71 L1023.78,665.14 L1024.26,664.61 L1024.74,664.13 L1025.23,663.69 L1025.73,663.29 L1026.24,662.93 L1026.77,662.6 L1027.3,662.3 L1027.84,662.2 L1028.39,662.2 L1028.95,662.2 L1029.53,662.2 L1030.11,662.2 L1030.7,662.2 M1030.7,662.2 L1031,663.7 L1031,739.2 M1033.14,735.68 L1033.27,729.03 L1033.42,723.36 L1033.57,718.41 L1033.74,713.97 L1033.91,709.89 L1034.09,706.06 L1034.29,702.41 L1034.49,698.91 L1034.71,695.53 L1034.93,692.28 L1035.16,689.15 L1035.41,686.14 L1035.66,683.26 L1035.92,680.52 L1036.2,677.92 L1036.48,675.46 L1036.78,673.14 L1037.08,670.96 L1037.39,668.92 L1037.71,667.02 L1038.05,665.25 L1038.39,663.61 L1038.74,662.09 L1039.11,660.69 L1039.48,659.39 L1039.86,658.21 L1040.26,657.12 L1040.66,656.12 L1041.07,655.21 L1041.49,654.37 L1041.93,653.61 L1042.37,652.91 L1042.82,652.28 L1043.28,651.7 L1043.76,651.18 L1044.24,650.7 L1044.73,650.26 L1045.23,649.87 L1045.74,649.51 L1046.27,649.18 L1046.8,648.88 L1047.34,648.77 L1047.89,648.77 L1048.45,648.77 L1049.03,648.77 L1049.61,648.77 L1050.2,648.77 M1050.2,648.77 L1050.5,650.27 L1050.5,728.64 M1052.62,723.15 L1052.75,716.16 L1052.89,710.25 L1053.04,705.12 L1053.2,700.57 L1053.37,696.42 L1053.54,692.55 L1053.73,688.88 L1053.93,685.37 L1054.14,681.99 L1054.36,678.73 L1054.58,675.59 L1054.82,672.57 L1055.07,669.67 L1055.32,666.91 L1055.59,664.28 L1055.86,661.79 L1056.15,659.44 L1056.44,657.23 L1056.75,655.15 L1057.06,653.21 L1057.39,651.4 L1057.72,649.72 L1058.06,648.16 L1058.42,646.71 L1058.78,645.38 L1059.15,644.16 L1059.53,643.03 L1059.92,641.99 L1060.33,641.04 L1060.74,640.17 L1061.16,639.38 L1061.59,638.65 L1062.03,637.99 L1062.48,637.38 L1062.94,636.83 L1063.4,636.33 L1063.88,635.87 L1064.37,635.45 L1064.87,635.07 L1065.38,634.73 L1065.89,634.41 L1066.42,634.35 L1066.96,634.35 L1067.5,634.35 L1068.06,634.35 L1068.62,634.35 L1069.2,634.35 M1069.2,634.35 L1069.5,635.85 L1069.5,717.08 M1071.52,715.95 L1071.64,707.48 L1071.77,700.44 L1071.92,694.5 L1072.07,689.37 L1072.24,684.81 L1072.41,680.65 L1072.59,676.77 L1072.79,673.08 L1072.99,669.56 L1073.21,666.17 L1073.43,662.9 L1073.66,659.76 L1073.91,656.74 L1074.16,653.86 L1074.42,651.11 L1074.7,648.5 L1074.98,646.04 L1075.28,643.72 L1075.58,641.54 L1075.89,639.5 L1076.21,637.6 L1076.55,635.84 L1076.89,634.2 L1077.24,632.68 L1077.61,631.28 L1077.98,629.99 L1078.36,628.81 L1078.76,627.72 L1079.16,626.73 L1079.57,625.82 L1079.99,624.99 L1080.43,624.23 L1080.87,623.54 L1081.32,622.91 L1081.78,622.33 L1082.26,621.81 L1082.74,621.33 L1083.23,620.9 L1083.73,620.51 L1084.24,620.15 L1084.77,619.82 L1085.3,619.53 L1085.84,619.42 L1086.39,619.42 L1086.95,619.42 L1087.53,619.42 L1088.11,619.42 L1088.7,619.42 M1088.7,619.42 L1089,620.92 L1089,705.02 M1091,703.33 L1091.12,694.45 L1091.25,687.08 L1091.39,680.9 L1091.54,675.6 L1091.7,670.93 L1091.87,666.69 L1092.04,662.77 L1092.23,659.07 L1092.43,655.53 L1092.64,652.13 L1092.86,648.85 L1093.08,645.7 L1093.32,642.67 L1093.57,639.77 L1093.82,637 L1094.09,634.37 L1094.36,631.88 L1094.65,629.52 L1094.94,627.31 L1095.25,625.23 L1095.56,623.29 L1095.89,621.49 L1096.22,619.81 L1096.56,618.25 L1096.92,616.81 L1097.28,615.48 L1097.65,614.26 L1098.03,613.13 L1098.42,612.1 L1098.83,611.15 L1099.24,610.29 L1099.66,609.5 L1100.09,608.77 L1100.53,608.11 L1100.98,607.51 L1101.44,606.96 L1101.9,606.46 L1102.38,606.01 L1102.87,605.59 L1103.37,605.22 L1103.88,604.87 L1104.39,604.56 L1104.92,604.5 L1105.46,604.5 L1106,604.5 L1106.56,604.5 L1107.12,604.5 L1107.7,604.5 M1107.7,604.5 L1108,606 L1108,692.97 M1110,689.2 L1110.12,680.05 L1110.25,672.5 L1110.39,666.18 L1110.54,660.79 L1110.7,656.05 L1110.87,651.78 L1111.04,647.83 L1111.23,644.11 L1111.43,640.55 L1111.64,637.14 L1111.86,633.86 L1112.08,630.7 L1112.32,627.67 L1112.57,624.77 L1112.82,622 L1113.09,619.36 L1113.36,616.87 L1113.65,614.51 L1113.94,612.3 L1114.25,610.23 L1114.56,608.29 L1114.89,606.48 L1115.22,604.8 L1115.56,603.24 L1115.92,601.81 L1116.28,600.48 L1116.65,599.26 L1117.03,598.13 L1117.42,597.1 L1117.83,596.16 L1118.24,595.3 L1118.66,594.51 L1119.09,593.79 L1119.53,593.13 L1119.98,592.53 L1120.44,591.98 L1120.9,591.48 L1121.38,591.03 L1121.87,590.62 L1122.37,590.24 L1122.88,589.9 L1123.39,589.58 L1123.92,589.52 L1124.46,589.52 L1125,589.52 L1125.56,589.52 L1126.12,589.52 L1126.7,589.52 M1126.7,589.52 L1127,591.02 L1127,680.86 M1129,674.52 L1129.12,665.12 L1129.25,657.39 L1129.39,650.94 L1129.54,645.46 L1129.7,640.67 L1129.87,636.36 L1130.04,632.38 L1130.23,628.64 L1130.43,625.08 L1130.64,621.66 L1130.86,618.37 L1131.08,615.21 L1131.32,612.17 L1131.57,609.26 L1131.82,606.49 L1132.09,603.86 L1132.36,601.36 L1132.65,599.01 L1132.94,596.79 L1133.25,594.72 L1133.56,592.78 L1133.89,590.97 L1134.22,589.29 L1134.56,587.74 L1134.92,586.3 L1135.28,584.98 L1135.65,583.76 L1136.03,582.64 L1136.42,581.61 L1136.83,580.67 L1137.24,579.8 L1137.66,579.02 L1138.09,578.3 L1138.53,577.64 L1138.98,577.04 L1139.44,576.5 L1139.9,576 L1140.38,575.55 L1140.87,575.14 L1141.37,574.76 L1141.88,574.42 L1142.39,574.11 L1142.92,574.05 L1143.46,574.05 L1144,574.05 L1144.56,574.05 L1145.12,574.05 L1145.7,574.05 M1145.7,574.05 L1146,575.55 L1146,668.25 M1148,660.29 L1148.12,650.66 L1148.25,642.75 L1148.39,636.19 L1148.54,630.63 L1148.7,625.79 L1148.87,621.44 L1149.04,617.44 L1149.23,613.68 L1149.43,610.11 L1149.64,606.68 L1149.86,603.38 L1150.08,600.21 L1150.32,597.17 L1150.57,594.26 L1150.82,591.49 L1151.09,588.85 L1151.36,586.35 L1151.65,584 L1151.94,581.78 L1152.25,579.71 L1152.56,577.77 L1152.89,575.96 L1153.22,574.29 L1153.56,572.73 L1153.92,571.3 L1154.28,569.98 L1154.65,568.76 L1155.03,567.64 L1155.42,566.61 L1155.83,565.67 L1156.24,564.81 L1156.66,564.03 L1157.09,563.31 L1157.53,562.65 L1157.98,562.06 L1158.44,561.51 L1158.9,561.02 L1159.38,560.57 L1159.87,560.16 L1160.37,559.78 L1160.88,559.44 L1161.39,559.13 L1161.92,559.08 L1162.46,559.08 L1163,559.08 L1163.56,559.08 L1164.12,559.08 L1164.7,559.08 M1164.7,559.08 L1165,560.58 L1165,656.14 M1167,646.15 L1167.12,636.27 L1167.25,628.18 L1167.39,621.5 L1167.54,615.85 L1167.7,610.94 L1167.87,606.55 L1168.04,602.52 L1168.23,598.74 L1168.43,595.14 L1168.64,591.69 L1168.86,588.38 L1169.08,585.19 L1169.32,582.13 L1169.57,579.2 L1169.82,576.41 L1170.09,573.75 L1170.36,571.23 L1170.65,568.85 L1170.94,566.62 L1171.25,564.52 L1171.56,562.57 L1171.89,560.74 L1172.22,559.04 L1172.56,557.47 L1172.92,556.02 L1173.28,554.68 L1173.65,553.44 L1174.03,552.31 L1174.42,551.27 L1174.83,550.31 L1175.24,549.44 L1175.66,548.64 L1176.09,547.91 L1176.53,547.25 L1176.98,546.64 L1177.44,546.09 L1177.9,545.58 L1178.38,545.12 L1178.87,544.7 L1179.37,544.32 L1179.88,543.98 L1180.39,543.66 L1180.92,543.6 L1181.46,543.6 L1182,543.6 L1182.56,543.6 L1183.12,543.6 L1183.7,543.6 M1183.7,543.6 L1184,545.1 L1184,643.53 M1185.98,633.84 L1186.09,623.49 L1186.22,615.03 L1186.36,608.05 L1186.5,602.19 L1186.66,597.14 L1186.82,592.65 L1186.99,588.55 L1187.18,584.73 L1187.37,581.11 L1187.57,577.64 L1187.78,574.3 L1188,571.09 L1188.23,568 L1188.47,565.04 L1188.72,562.21 L1188.98,559.5 L1189.25,556.94 L1189.53,554.51 L1189.81,552.22 L1190.11,550.06 L1190.41,548.04 L1190.73,546.16 L1191.05,544.4 L1191.38,542.76 L1191.73,541.25 L1192.08,539.85 L1192.44,538.55 L1192.81,537.36 L1193.19,536.26 L1193.58,535.25 L1193.98,534.32 L1194.39,533.48 L1194.81,532.7 L1195.23,531.99 L1195.67,531.34 L1196.12,530.75 L1196.57,530.21 L1197.04,529.71 L1197.51,529.26 L1197.99,528.85 L1198.49,528.47 L1198.99,528.13 L1199.5,528.12 L1200.02,528.12 L1200.55,528.12 L1201.09,528.12 L1201.64,528.12 L1202.2,528.12 M1202.2,528.12 L1202.5,529.62 L1202.5,630.92 M1204.48,620.04 L1204.59,609.5 L1204.72,600.9 L1204.86,593.82 L1205,587.88 L1205.16,582.78 L1205.32,578.25 L1205.49,574.13 L1205.68,570.29 L1205.87,566.64 L1206.07,563.16 L1206.28,559.81 L1206.5,556.58 L1206.73,553.47 L1206.97,550.49 L1207.22,547.63 L1207.48,544.91 L1207.75,542.32 L1208.03,539.88 L1208.31,537.56 L1208.61,535.39 L1208.91,533.35 L1209.23,531.44 L1209.55,529.66 L1209.88,528.01 L1210.23,526.48 L1210.58,525.05 L1210.94,523.74 L1211.31,522.53 L1211.69,521.42 L1212.08,520.39 L1212.48,519.45 L1212.89,518.59 L1213.31,517.8 L1213.73,517.08 L1214.17,516.42 L1214.62,515.82 L1215.07,515.27 L1215.54,514.77 L1216.01,514.31 L1216.49,513.89 L1216.99,513.51 L1217.49,513.16 L1218,513.15 L1218.52,513.15 L1219.05,513.15 L1219.59,513.15 L1220.14,513.15 L1220.7,513.15 M1220.7,513.15 L1221,514.65 L1221,618.82 M1222.86,618.41 L1222.97,605.15 L1223.08,594.29 L1223.21,585.43 L1223.34,578.15 L1223.49,572.08 L1223.64,566.87 L1223.8,562.28 L1223.97,558.11 L1224.16,554.23 L1224.35,550.56 L1224.55,547.06 L1224.75,543.69 L1224.97,540.44 L1225.2,537.31 L1225.44,534.3 L1225.68,531.42 L1225.94,528.67 L1226.2,526.05 L1226.47,523.57 L1226.76,521.22 L1227.05,519.01 L1227.35,516.94 L1227.66,514.99 L1227.98,513.18 L1228.31,511.49 L1228.65,509.92 L1229,508.46 L1229.36,507.11 L1229.72,505.87 L1230.1,504.72 L1230.48,503.66 L1230.88,502.69 L1231.28,501.8 L1231.69,500.99 L1232.12,500.24 L1232.55,499.56 L1232.99,498.93 L1233.44,498.36 L1233.9,497.83 L1234.37,497.36 L1234.84,496.92 L1235.33,496.52 L1235.83,496.18 L1236.33,496.18 L1236.85,496.18 L1237.37,496.18 L1237.91,496.18 L1238.45,496.18 L1239,496.18 M1239,496.18 L1239.3,497.68 L1239.3,604.71 M1241.26,591.75 L1241.38,580.65 L1241.5,571.6 L1241.64,564.19 L1241.78,558.02 L1241.93,552.74 L1242.09,548.09 L1242.26,543.89 L1242.44,539.98 L1242.63,536.3 L1242.83,532.77 L1243.04,529.38 L1243.26,526.11 L1243.48,522.96 L1243.72,519.94 L1243.96,517.03 L1244.22,514.26 L1244.48,511.61 L1244.75,509.11 L1245.03,506.73 L1245.32,504.49 L1245.62,502.39 L1245.93,500.42 L1246.25,498.57 L1246.58,496.85 L1246.91,495.26 L1247.26,493.77 L1247.61,492.4 L1247.98,491.13 L1248.35,489.96 L1248.73,488.88 L1249.13,487.88 L1249.53,486.97 L1249.94,486.14 L1250.36,485.37 L1250.79,484.67 L1251.22,484.02 L1251.67,483.43 L1252.13,482.9 L1252.59,482.4 L1253.07,481.95 L1253.55,481.54 L1254.05,481.2 L1254.55,481.2 L1255.06,481.2 L1255.58,481.2 L1256.11,481.2 L1256.65,481.2 L1257.2,481.2 M1257.2,481.2 L1257.5,482.7 L1257.5,592.6 M1259.37,588.28 L1259.48,574.6 L1259.59,563.45 L1259.72,554.41 L1259.86,547.01 L1260,540.85 L1260.16,535.59 L1260.32,530.95 L1260.49,526.75 L1260.68,522.84 L1260.87,519.14 L1261.07,515.6 L1261.28,512.19 L1261.5,508.91 L1261.73,505.74 L1261.97,502.7 L1262.22,499.79 L1262.48,497.01 L1262.75,494.36 L1263.03,491.85 L1263.31,489.48 L1263.61,487.24 L1263.91,485.14 L1264.23,483.18 L1264.55,481.34 L1264.88,479.63 L1265.23,478.04 L1265.58,476.56 L1265.94,475.2 L1266.31,473.94 L1266.69,472.78 L1267.08,471.71 L1267.48,470.73 L1267.89,469.83 L1268.31,469 L1268.73,468.24 L1269.17,467.55 L1269.62,466.92 L1270.07,466.34 L1270.54,465.81 L1271.01,465.32 L1271.49,464.88 L1271.99,464.48 L1272.49,464.11 L1273,464.1 L1273.52,464.1 L1274.05,464.1 L1274.59,464.1 L1275.14,464.1 L1275.7,464.1 M1275.7,464.1 L1276,465.6 L1276,578.37 M1277.85,574.67 L1277.96,560.44 L1278.07,548.8 L1278.19,539.34 L1278.33,531.61 L1278.47,525.2 L1278.62,519.76 L1278.78,515 L1278.94,510.71 L1279.12,506.75 L1279.31,503.02 L1279.5,499.45 L1279.71,496.03 L1279.92,492.72 L1280.15,489.53 L1280.38,486.46 L1280.62,483.52 L1280.87,480.69 L1281.13,478 L1281.4,475.44 L1281.68,473.01 L1281.96,470.72 L1282.26,468.56 L1282.57,466.53 L1282.88,464.63 L1283.2,462.85 L1283.54,461.2 L1283.88,459.66 L1284.23,458.23 L1284.59,456.91 L1284.96,455.69 L1285.34,454.56 L1285.72,453.52 L1286.12,452.56 L1286.53,451.68 L1286.94,450.88 L1287.36,450.14 L1287.8,449.46 L1288.24,448.84 L1288.69,448.27 L1289.15,447.75 L1289.62,447.27 L1290.1,446.83 L1290.58,446.5 L1291.08,446.5 L1291.59,446.5 L1292.1,446.5 L1292.62,446.5 L1293.16,446.5 L1293.7,446.5 M1293.7,446.5 L1294,448 L1294,563.63 M1295.83,563.18 L1295.93,548.32 L1296.04,536.09 L1296.15,526.1 L1296.28,517.93 L1296.42,511.18 L1296.56,505.49 L1296.71,500.55 L1296.87,496.15 L1297.04,492.11 L1297.22,488.33 L1297.41,484.73 L1297.61,481.28 L1297.81,477.95 L1298.03,474.74 L1298.25,471.63 L1298.48,468.65 L1298.72,465.78 L1298.97,463.03 L1299.22,460.41 L1299.49,457.91 L1299.77,455.55 L1300.05,453.31 L1300.34,451.2 L1300.64,449.21 L1300.95,447.35 L1301.27,445.61 L1301.6,443.99 L1301.93,442.48 L1302.28,441.07 L1302.63,439.77 L1302.99,438.56 L1303.36,437.44 L1303.74,436.41 L1304.13,435.46 L1304.53,434.58 L1304.93,433.78 L1305.35,433.03 L1305.77,432.35 L1306.2,431.73 L1306.64,431.15 L1307.09,430.63 L1307.55,430.14 L1308.02,429.9 L1308.49,429.9 L1308.98,429.9 L1309.47,429.9 L1309.97,429.9 L1310.48,429.9 L1311,429.9 M1311,429.9 L1311.3,431.4 L1311.3,549.9 M1313.16,542.2 L1313.26,527.61 L1313.38,515.73 L1313.5,506.11 L1313.64,498.28 L1313.78,491.81 L1313.93,486.33 L1314.09,481.53 L1314.26,477.22 L1314.44,473.23 L1314.63,469.46 L1314.83,465.86 L1315.04,462.4 L1315.26,459.07 L1315.48,455.85 L1315.72,452.74 L1315.96,449.76 L1316.22,446.91 L1316.48,444.19 L1316.75,441.6 L1317.03,439.14 L1317.32,436.83 L1317.62,434.64 L1317.93,432.59 L1318.25,430.67 L1318.58,428.87 L1318.91,427.2 L1319.26,425.64 L1319.61,424.2 L1319.98,422.86 L1320.35,421.62 L1320.73,420.48 L1321.13,419.43 L1321.53,418.47 L1321.94,417.58 L1322.36,416.76 L1322.79,416.01 L1323.22,415.32 L1323.67,414.7 L1324.13,414.12 L1324.59,413.59 L1325.07,413.11 L1325.55,412.67 L1326.05,412.3 L1326.55,412.3 L1327.06,412.3 L1327.58,412.3 L1328.11,412.3 L1328.65,412.3 L1329.2,412.3 M1329.2,412.3 L1329.5,413.8 L1329.5,534.73 M1331.33,529.38 L1331.44,514.11 L1331.55,501.59 L1331.67,491.41 L1331.79,483.13 L1331.93,476.3 L1332.08,470.55 L1332.23,465.58 L1332.39,461.15 L1332.57,457.08 L1332.75,453.27 L1332.94,449.64 L1333.14,446.16 L1333.34,442.8 L1333.56,439.55 L1333.79,436.41 L1334.02,433.4 L1334.26,430.5 L1334.51,427.72 L1334.78,425.07 L1335.04,422.55 L1335.32,420.16 L1335.61,417.89 L1335.91,415.76 L1336.21,413.76 L1336.52,411.88 L1336.85,410.12 L1337.18,408.48 L1337.52,406.95 L1337.87,405.53 L1338.22,404.21 L1338.59,402.99 L1338.97,401.86 L1339.35,400.82 L1339.74,399.85 L1340.15,398.97 L1340.56,398.15 L1340.98,397.41 L1341.4,396.72 L1341.84,396.08 L1342.29,395.5 L1342.74,394.97 L1343.21,394.48 L1343.68,394.2 L1344.16,394.2 L1344.65,394.2 L1345.15,394.2 L1345.66,394.2 L1346.17,394.2 L1346.7,394.2 M1346.7,394.2 L1347,395.7 L1347,519.06 M1348.83,513.31 L1348.94,497.84 L1349.05,485.17 L1349.17,474.87 L1349.29,466.49 L1349.43,459.6 L1349.58,453.81 L1349.73,448.8 L1349.89,444.34 L1350.07,440.25 L1350.25,436.42 L1350.44,432.77 L1350.64,429.27 L1350.84,425.9 L1351.06,422.64 L1351.29,419.49 L1351.52,416.46 L1351.76,413.55 L1352.01,410.76 L1352.28,408.1 L1352.54,405.56 L1352.82,403.16 L1353.11,400.89 L1353.41,398.75 L1353.71,396.74 L1354.02,394.85 L1354.35,393.08 L1354.68,391.44 L1355.02,389.9 L1355.37,388.47 L1355.72,387.15 L1356.09,385.92 L1356.47,384.79 L1356.85,383.74 L1357.24,382.78 L1357.65,381.89 L1358.06,381.07 L1358.48,380.32 L1358.9,379.63 L1359.34,378.99 L1359.79,378.41 L1360.24,377.88 L1360.71,377.38 L1361.18,377.1 L1361.66,377.1 L1362.15,377.1 L1362.65,377.1 L1363.16,377.1 L1363.67,377.1 L1364.2,377.1 M1364.2,377.1 L1364.5,378.6 L1364.5,504.39 M1366.31,500.9 L1366.41,484.7 L1366.51,471.32 L1366.63,460.4 L1366.75,451.49 L1366.88,444.18 L1367.02,438.07 L1367.17,432.83 L1367.32,428.2 L1367.49,424.01 L1367.66,420.12 L1367.84,416.43 L1368.03,412.9 L1368.23,409.51 L1368.44,406.22 L1368.65,403.05 L1368.88,399.98 L1369.11,397.03 L1369.35,394.2 L1369.6,391.49 L1369.86,388.9 L1370.12,386.44 L1370.4,384.1 L1370.68,381.89 L1370.97,379.8 L1371.27,377.84 L1371.58,376 L1371.9,374.27 L1372.22,372.66 L1372.56,371.15 L1372.9,369.75 L1373.25,368.45 L1373.61,367.25 L1373.97,366.13 L1374.35,365.1 L1374.73,364.14 L1375.13,363.26 L1375.53,362.45 L1375.94,361.7 L1376.36,361.01 L1376.78,360.38 L1377.22,359.79 L1377.66,359.26 L1378.11,359.1 L1378.57,359.1 L1379.04,359.1 L1379.52,359.1 L1380,359.1 L1380.5,359.1 L1381,359.1 M1381,359.1 L1381.3,360.6 L1381.3,488.81 M1383.13,480.08 L1383.23,464.12 L1383.34,451.04 L1383.46,440.42 L1383.59,431.8 L1383.72,424.72 L1383.87,418.79 L1384.02,413.68 L1384.18,409.14 L1384.36,404.99 L1384.54,401.12 L1384.72,397.44 L1384.92,393.91 L1385.13,390.5 L1385.34,387.21 L1385.57,384.04 L1385.8,380.98 L1386.04,378.04 L1386.29,375.22 L1386.55,372.53 L1386.82,369.97 L1387.09,367.54 L1387.38,365.24 L1387.67,363.08 L1387.98,361.04 L1388.29,359.13 L1388.61,357.33 L1388.94,355.66 L1389.28,354.11 L1389.62,352.66 L1389.98,351.31 L1390.34,350.07 L1390.72,348.91 L1391.1,347.85 L1391.49,346.87 L1391.89,345.96 L1392.3,345.13 L1392.71,344.36 L1393.14,343.66 L1393.57,343.01 L1394.02,342.42 L1394.47,341.87 L1394.93,341.37 L1395.4,341.1 L1395.88,341.1 L1396.36,341.1 L1396.86,341.1 L1397.36,341.1 L1397.88,341.1 L1398.4,341.1 M1398.4,341.1 L1398.7,342.6 L1398.7,473.24 M1400.5,467.75 L1400.6,451.04 L1400.7,437.22 L1400.82,425.92 L1400.94,416.72 L1401.07,409.17 L1401.2,402.87 L1401.35,397.49 L1401.5,392.77 L1401.67,388.5 L1401.84,384.55 L1402.02,380.82 L1402.2,377.26 L1402.4,373.83 L1402.6,370.52 L1402.82,367.31 L1403.04,364.22 L1403.27,361.24 L1403.5,358.37 L1403.75,355.62 L1404,353 L1404.27,350.5 L1404.54,348.13 L1404.82,345.88 L1405.1,343.76 L1405.4,341.76 L1405.7,339.88 L1406.02,338.12 L1406.34,336.48 L1406.67,334.94 L1407,333.51 L1407.35,332.17 L1407.7,330.94 L1408.07,329.79 L1408.44,328.73 L1408.82,327.75 L1409.2,326.84 L1409.6,326.01 L1410,325.23 L1410.42,324.52 L1410.84,323.87 L1411.27,323.27 L1411.7,322.71 L1412.15,322.6 L1412.6,322.6 L1413.07,322.6 L1413.54,322.6 L1414.02,322.6 L1414.5,322.6 L1415,322.6 M1415,322.6 L1415.3,324.1 L1415.3,457.17 M1417.11,449.96 L1417.2,433.17 L1417.31,419.31 L1417.42,407.99 L1417.54,398.78 L1417.67,391.23 L1417.81,384.93 L1417.96,379.56 L1418.11,374.83 L1418.28,370.55 L1418.45,366.59 L1418.63,362.85 L1418.82,359.28 L1419.02,355.83 L1419.22,352.51 L1419.44,349.29 L1419.66,346.19 L1419.89,343.2 L1420.13,340.32 L1420.38,337.57 L1420.63,334.94 L1420.9,332.44 L1421.17,330.07 L1421.45,327.82 L1421.74,325.7 L1422.04,323.7 L1422.34,321.83 L1422.66,320.07 L1422.98,318.43 L1423.31,316.9 L1423.65,315.47 L1424,314.14 L1424.36,312.91 L1424.72,311.77 L1425.09,310.71 L1425.48,309.74 L1425.87,308.84 L1426.26,308 L1426.67,307.24 L1427.09,306.53 L1427.51,305.88 L1427.94,305.29 L1428.38,304.74 L1428.83,304.6 L1429.29,304.6 L1429.75,304.6 L1430.23,304.6 L1430.71,304.6 L1431.2,304.6 L1431.7,304.6 M1431.7,304.6 L1432,306.1 L1432,441.6 M1433.8,435.13 L1433.9,418.08 L1434,403.96 L1434.11,392.41 L1434.23,383 L1434.36,375.29 L1434.5,368.87 L1434.64,363.4 L1434.79,358.6 L1434.96,354.28 L1435.13,350.28 L1435.3,346.51 L1435.49,342.92 L1435.68,339.46 L1435.89,336.11 L1436.1,332.88 L1436.32,329.76 L1436.54,326.75 L1436.78,323.85 L1437.03,321.08 L1437.28,318.43 L1437.54,315.9 L1437.81,313.5 L1438.08,311.23 L1438.37,309.08 L1438.66,307.05 L1438.97,305.15 L1439.28,303.36 L1439.6,301.69 L1439.92,300.13 L1440.26,298.68 L1440.6,297.33 L1440.95,296.07 L1441.31,294.9 L1441.68,293.82 L1442.06,292.82 L1442.44,291.9 L1442.84,291.05 L1443.24,290.26 L1443.65,289.54 L1444.07,288.87 L1444.49,288.26 L1444.93,287.69 L1445.37,287.6 L1445.82,287.6 L1446.28,287.6 L1446.75,287.6 L1447.22,287.6 L1447.71,287.6 L1448.2,287.6 M1448.2,287.6 L1448.5,289.1 L1448.5,424.98 M1450.28,420.85 L1450.38,403.36 L1450.48,388.78 L1450.58,376.79 L1450.7,366.99 L1450.82,358.94 L1450.96,352.26 L1451.1,346.58 L1451.24,341.64 L1451.4,337.21 L1451.56,333.15 L1451.74,329.33 L1451.92,325.7 L1452.1,322.22 L1452.3,318.85 L1452.5,315.6 L1452.72,312.45 L1452.94,309.41 L1453.16,306.48 L1453.4,303.66 L1453.64,300.97 L1453.9,298.39 L1454.16,295.94 L1454.42,293.61 L1454.7,291.41 L1454.98,289.32 L1455.28,287.36 L1455.58,285.51 L1455.88,283.78 L1456.2,282.16 L1456.52,280.64 L1456.86,279.23 L1457.2,277.91 L1457.54,276.69 L1457.9,275.56 L1458.26,274.5 L1458.64,273.53 L1459.02,272.62 L1459.4,271.79 L1459.8,271.02 L1460.2,270.31 L1460.62,269.65 L1461.04,269.1 L1461.46,269.1 L1461.9,269.1 L1462.34,269.1 L1462.8,269.1 L1463.26,269.1 L1463.72,269.1 L1464.2,269.1 M1464.2,269.1 L1464.5,270.6 L1464.5,406.85 M1466.28,403.55 L1466.38,385.96 L1466.48,371.3 L1466.58,359.25 L1466.7,349.4 L1466.82,341.32 L1466.96,334.6 L1467.1,328.9 L1467.24,323.93 L1467.4,319.49 L1467.56,315.4 L1467.74,311.58 L1467.92,307.93 L1468.1,304.43 L1468.3,301.05 L1468.5,297.78 L1468.72,294.62 L1468.94,291.57 L1469.16,288.63 L1469.4,285.8 L1469.64,283.1 L1469.9,280.51 L1470.16,278.05 L1470.42,275.71 L1470.7,273.5 L1470.98,271.41 L1471.28,269.43 L1471.58,267.58 L1471.88,265.84 L1472.2,264.21 L1472.52,262.69 L1472.86,261.27 L1473.2,259.95 L1473.54,258.72 L1473.9,257.58 L1474.26,256.52 L1474.64,255.54 L1475.02,254.64 L1475.4,253.8 L1475.8,253.03 L1476.2,252.32 L1476.62,251.66 L1477.04,251.1 L1477.46,251.1 L1477.9,251.1 L1478.34,251.1 L1478.8,251.1 L1479.26,251.1 L1479.72,251.1 L1480.2,251.1 M1480.2,251.1 L1480.5,252.6 L1480.5,389.23 M1482.28,388.34 L1482.37,370.62 L1482.47,355.81 L1482.57,343.6 L1482.69,333.6 L1482.81,325.38 L1482.94,318.55 L1483.08,312.77 L1483.22,307.73 L1483.38,303.24 L1483.54,299.11 L1483.71,295.26 L1483.89,291.59 L1484.07,288.07 L1484.27,284.68 L1484.47,281.39 L1484.68,278.21 L1484.89,275.14 L1485.12,272.18 L1485.35,269.33 L1485.59,266.6 L1485.84,263.99 L1486.1,261.5 L1486.36,259.13 L1486.63,256.89 L1486.91,254.77 L1487.2,252.77 L1487.5,250.88 L1487.8,249.12 L1488.11,247.46 L1488.43,245.91 L1488.76,244.46 L1489.09,243.11 L1489.44,241.86 L1489.79,240.69 L1490.15,239.61 L1490.51,238.6 L1490.89,237.67 L1491.27,236.81 L1491.66,236.02 L1492.06,235.29 L1492.47,234.61 L1492.88,234.1 L1493.3,234.1 L1493.73,234.1 L1494.17,234.1 L1494.62,234.1 L1495.07,234.1 L1495.53,234.1 L1496,234.1 M1496,234.1 L1496.3,235.6 L1496.3,372.6 M1498.15,355.24 L1498.25,340.11 L1498.35,327.58 L1498.46,317.27 L1498.58,308.78 L1498.71,301.72 L1498.84,295.76 L1498.98,290.59 L1499.13,286 L1499.29,281.81 L1499.46,277.9 L1499.63,274.2 L1499.81,270.65 L1500,267.23 L1500.19,263.92 L1500.39,260.72 L1500.61,257.62 L1500.82,254.63 L1501.05,251.75 L1501.28,248.98 L1501.53,246.33 L1501.77,243.8 L1502.03,241.39 L1502.3,239.09 L1502.57,236.92 L1502.85,234.87 L1503.14,232.93 L1503.43,231.11 L1503.73,229.4 L1504.04,227.8 L1504.36,226.3 L1504.69,224.89 L1505.02,223.59 L1505.36,222.37 L1505.71,221.24 L1506.07,220.19 L1506.43,219.22 L1506.8,218.32 L1507.18,217.48 L1507.57,216.71 L1507.97,215.99 L1508.37,215.6 L1508.78,215.6 L1509.2,215.6 L1509.62,215.6 L1510.05,215.6 L1510.5,215.6 L1510.94,215.6 L1511.4,215.6 M1511.4,215.6 L1511.7,217.1 L1511.7,354.48 M1513.53,341.5 L1513.62,325.89 L1513.72,312.86 L1513.83,302.07 L1513.94,293.15 L1514.06,285.73 L1514.19,279.48 L1514.32,274.09 L1514.47,269.33 L1514.62,265.02 L1514.77,261.04 L1514.94,257.28 L1515.11,253.69 L1515.29,250.24 L1515.48,246.9 L1515.67,243.67 L1515.87,240.53 L1516.08,237.5 L1516.3,234.58 L1516.52,231.76 L1516.75,229.05 L1516.99,226.46 L1517.24,223.98 L1517.49,221.62 L1517.75,219.37 L1518.02,217.24 L1518.29,215.23 L1518.58,213.33 L1518.87,211.54 L1519.16,209.85 L1519.47,208.27 L1519.78,206.79 L1520.1,205.41 L1520.42,204.12 L1520.76,202.91 L1521.1,201.79 L1521.45,200.74 L1521.8,199.77 L1522.17,198.87 L1522.54,198.04 L1522.91,197.26 L1523.3,197.1 L1523.69,197.1 L1524.09,197.1 L1524.5,197.1 L1524.91,197.1 L1525.33,197.1 L1525.76,197.1 L1526.2,197.1 M1526.2,197.1 L1526.5,198.6 L1526.5,336.35 M1528.33,323.46 L1528.42,307.95 L1528.52,294.99 L1528.62,284.25 L1528.74,275.37 L1528.86,267.98 L1528.99,261.73 L1529.12,256.35 L1529.27,251.59 L1529.42,247.27 L1529.57,243.28 L1529.74,239.51 L1529.91,235.91 L1530.09,232.45 L1530.28,229.1 L1530.47,225.85 L1530.67,222.71 L1530.88,219.66 L1531.1,216.72 L1531.32,213.89 L1531.55,211.18 L1531.79,208.57 L1532.04,206.08 L1532.29,203.71 L1532.55,201.46 L1532.82,199.32 L1533.09,197.3 L1533.38,195.39 L1533.67,193.59 L1533.96,191.9 L1534.27,190.32 L1534.58,188.83 L1534.9,187.44 L1535.22,186.14 L1535.56,184.93 L1535.9,183.81 L1536.25,182.76 L1536.6,181.78 L1536.97,180.88 L1537.34,180.04 L1537.71,179.27 L1538.1,179.1 L1538.49,179.1 L1538.89,179.1 L1539.3,179.1 L1539.71,179.1 L1540.13,179.1 L1540.56,179.1 L1541,179.1 M1541,179.1 L1541.3,180.6 L1541.3,318.73 M1543.12,304.93 L1543.21,289.25 L1543.31,276.13 L1543.42,265.24 L1543.53,256.24 L1543.65,248.74 L1543.78,242.41 L1543.91,236.96 L1544.06,232.15 L1544.2,227.8 L1544.36,223.77 L1544.52,219.98 L1544.7,216.36 L1544.87,212.88 L1545.06,209.51 L1545.25,206.25 L1545.45,203.09 L1545.66,200.03 L1545.88,197.07 L1546.1,194.22 L1546.33,191.49 L1546.56,188.86 L1546.81,186.36 L1547.06,183.97 L1547.32,181.69 L1547.58,179.54 L1547.85,177.49 L1548.13,175.56 L1548.42,173.75 L1548.72,172.04 L1549.02,170.43 L1549.33,168.93 L1549.64,167.52 L1549.97,166.2 L1550.3,164.98 L1550.64,163.83 L1550.98,162.77 L1551.34,161.78 L1551.7,160.86 L1552.06,160.01 L1552.44,159.22 L1552.82,159.1 L1553.21,159.1 L1553.61,159.1 L1554.01,159.1 L1554.42,159.1 L1554.84,159.1 L1555.27,159.1 L1555.7,159.1 M1555.7,159.1 L1556,160.6 L1556,299.1 M1557.82,287.35 L1557.91,271.76 L1558,258.67 L1558.11,247.77 L1558.22,238.72 L1558.34,231.17 L1558.46,224.79 L1558.59,219.28 L1558.73,214.43 L1558.88,210.04 L1559.03,205.99 L1559.2,202.17 L1559.36,198.53 L1559.54,195.03 L1559.72,191.64 L1559.91,188.36 L1560.11,185.18 L1560.31,182.1 L1560.53,179.12 L1560.74,176.25 L1560.97,173.49 L1561.2,170.83 L1561.44,168.3 L1561.69,165.88 L1561.94,163.57 L1562.21,161.38 L1562.47,159.31 L1562.75,157.35 L1563.03,155.5 L1563.32,153.75 L1563.62,152.12 L1563.93,150.58 L1564.24,149.14 L1564.56,147.79 L1564.88,146.54 L1565.22,145.37 L1565.56,144.27 L1565.9,143.26 L1566.26,142.31 L1566.62,141.44 L1566.99,140.62 L1567.37,140.6 L1567.75,140.6 L1568.14,140.6 L1568.54,140.6 L1568.94,140.6 L1569.35,140.6 L1569.77,140.6 L1570.2,140.6 M1570.2,140.6 L1570.5,142.1 L1570.5,280.6 M1572.32,267.94 L1572.41,252.54 L1572.5,239.6 L1572.61,228.81 L1572.72,219.85 L1572.84,212.35 L1572.96,206 L1573.09,200.52 L1573.23,195.67 L1573.38,191.28 L1573.53,187.23 L1573.7,183.4 L1573.86,179.75 L1574.04,176.24 L1574.22,172.84 L1574.41,169.55 L1574.61,166.35 L1574.81,163.26 L1575.03,160.27 L1575.24,157.39 L1575.47,154.61 L1575.7,151.95 L1575.94,149.41 L1576.19,146.98 L1576.44,144.66 L1576.71,142.46 L1576.97,140.38 L1577.25,138.41 L1577.53,136.55 L1577.82,134.81 L1578.12,133.16 L1578.43,131.62 L1578.74,130.17 L1579.06,128.82 L1579.38,127.56 L1579.72,126.38 L1580.06,125.29 L1580.4,124.27 L1580.76,123.32 L1581.12,122.44 L1581.49,121.62 L1581.87,121.6 L1582.25,121.6 L1582.64,121.6 L1583.04,121.6 L1583.44,121.6 L1583.85,121.6 L1584.27,121.6 L1584.7,121.6 M1584.7,121.6 L1585,123.1 L1585,250 M1586.84,244.2 L1586.93,229.55 L1587.03,217.28 L1587.14,207.1 L1587.25,198.63 L1587.38,191.53 L1587.51,185.49 L1587.64,180.23 L1587.79,175.54 L1587.94,171.26 L1588.1,167.26 L1588.27,163.47 L1588.44,159.84 L1588.63,156.34 L1588.82,152.94 L1589.01,149.65 L1589.22,146.47 L1589.43,143.39 L1589.65,140.41 L1589.88,137.55 L1590.11,134.81 L1590.35,132.18 L1590.6,129.67 L1590.86,127.28 L1591.12,125.02 L1591.4,122.87 L1591.67,120.84 L1591.96,118.93 L1592.26,117.12 L1592.56,115.43 L1592.87,113.85 L1593.18,112.36 L1593.51,110.98 L1593.84,109.68 L1594.18,108.48 L1594.52,107.36 L1594.88,106.32 L1595.24,105.35 L1595.61,104.45 L1595.98,103.62 L1596.36,102.85 L1596.76,102.6 L1597.15,102.6 L1597.56,102.6 L1597.97,102.6 L1598.39,102.6 L1598.82,102.6 L1599.26,102.6 L1599.7,102.6 M1599.7,102.6 L1600,104.1 L1600,222 M1601.88,215.9 L1601.98,203.31 L1602.08,192.71 L1602.18,183.8 L1602.3,176.3 L1602.42,169.9 L1602.54,164.36 L1602.68,159.45 L1602.82,155 L1602.97,150.89 L1603.12,147.01 L1603.28,143.32 L1603.45,139.77 L1603.63,136.33 L1603.81,133 L1604,129.76 L1604.2,126.62 L1604.4,123.58 L1604.61,120.64 L1604.83,117.8 L1605.05,115.08 L1605.28,112.46 L1605.52,109.96 L1605.76,107.57 L1606.02,105.3 L1606.27,103.13 L1606.54,101.08 L1606.81,99.15 L1607.09,97.31 L1607.38,95.59 L1607.67,93.97 L1607.97,92.44 L1608.28,91.01 L1608.59,89.67 L1608.91,88.42 L1609.24,87.26 L1609.57,86.17 L1609.91,85.15 L1610.26,84.21 L1610.61,83.6 L1610.98,83.6 L1611.34,83.6 L1611.72,83.6 L1612.1,83.6 L1612.49,83.6 L1612.89,83.6 L1613.29,83.6 L1613.7,83.6 M1613.7,83.6 L1614,85.1 L1614,190 M1615.98,182.25 L1616.08,172.04 L1616.18,163.43 L1616.3,156.14 L1616.42,149.89 L1616.54,144.44 L1616.68,139.59 L1616.82,135.18 L1616.97,131.09 L1617.12,127.23 L1617.28,123.54 L1617.45,119.98 L1617.63,116.53 L1617.81,113.19 L1618,109.94 L1618.2,106.79 L1618.4,103.73 L1618.61,100.78 L1618.83,97.94 L1619.05,95.2 L1619.28,92.57 L1619.52,90.06 L1619.76,87.66 L1620.02,85.38 L1620.27,83.21 L1620.54,81.15 L1620.81,79.21 L1621.09,77.37 L1621.38,75.64 L1621.67,74.01 L1621.97,72.48 L1622.28,71.04 L1622.59,69.7 L1622.91,68.44 L1623.24,67.27 L1623.57,66.18 L1623.91,65.16 L1624.26,64.21 L1624.61,63.6 L1624.98,63.6 L1625.34,63.6 L1625.72,63.6 L1626.1,63.6 L1626.49,63.6 L1626.89,63.6 L1627.29,63.6 L1627.7,63.6 M1627.7,63.6 L1628,65.1 L1628,155 M1630.08,150.99 L1630.18,142.79 L1630.3,135.79 L1630.42,129.75 L1630.54,124.45 L1630.68,119.69 L1630.82,115.34 L1630.97,111.27 L1631.12,107.43 L1631.28,103.74 L1631.45,100.18 L1631.63,96.73 L1631.81,93.37 L1632,90.11 L1632.2,86.95 L1632.4,83.89 L1632.61,80.93 L1632.83,78.07 L1633.05,75.32 L1633.28,72.69 L1633.52,70.16 L1633.76,67.76 L1634.02,65.46 L1634.27,63.28 L1634.54,61.22 L1634.81,59.27 L1635.09,57.42 L1635.38,55.68 L1635.67,54.05 L1635.97,52.51 L1636.28,51.07 L1636.59,49.72 L1636.91,48.46 L1637.24,47.28 L1637.57,46.19 L1637.91,45.16 L1638.26,44.21 L1638.61,43.6 L1638.98,43.6 L1639.34,43.6 L1639.72,43.6 L1640.1,43.6 L1640.49,43.6 L1640.89,43.6 L1641.29,43.6 L1641.7,43.6 M1641.7,43.6 L1642,45.1 L1642,-60 M1656,23.6 L1656.3,25.1 L1656.3,-60 M1669.7,3.6 L1670,5.1 L1670,-60" stroke-width="5.4" stroke-linecap="round"/>
<path d="M322.2,1058 L322.2,1057.92 L322.22,1057.7 L322.25,1057.33 L322.28,1056.81 L322.32,1056.15 M341.56,1035.53 L341.79,1044.19 M342,1052 L342.01,1051.91 L342.02,1051.66 L342.05,1051.23 L342.08,1050.64 L342.13,1049.89 L342.18,1048.99 L342.25,1047.95 L342.33,1046.77 L342.41,1045.47 L342.51,1044.05 L342.62,1042.54 L342.73,1040.93 L342.86,1039.26 L343,1037.52 M361.69,1024.87 L361.9,1036.07 M362.1,1047.4 L362.11,1047.3 L362.12,1047.02 L362.15,1046.55 L362.18,1045.89 L362.23,1045.06 L362.29,1044.06 L362.35,1042.91 L362.43,1041.6 L362.52,1040.16 L362.62,1038.59 L362.73,1036.92 L362.84,1035.15 L362.97,1033.3 L363.11,1031.38 L363.26,1029.41 L363.42,1027.4 M382.15,1016.6 L382.32,1029.01 M382.5,1042 L382.51,1041.89 L382.52,1041.56 L382.55,1041.02 L382.59,1040.27 L382.64,1039.32 L382.7,1038.18 L382.77,1036.86 L382.85,1035.38 L382.95,1033.74 L383.05,1031.96 L383.17,1030.07 L383.3,1028.07 L383.43,1025.99 L383.58,1023.84 L383.74,1021.63 L383.92,1019.4" stroke-width="5.8" stroke-linecap="round" stroke-dasharray="0 1.5"/>
<path d="M342,1052 L341.79,1044.19 M362.1,1047.4 L361.9,1036.07 M382.5,1042 L382.32,1029.01" stroke-width="5.6" stroke-linecap="round" stroke-dasharray="0 1.5"/>
<path d="M403.87,1006.95 L404.03,1021.1 M404.2,1036.5 L404.21,1036.38 L404.22,1036.03 L404.25,1035.44 L404.29,1034.63 L404.34,1033.59 L404.4,1032.36 L404.47,1030.92 L404.56,1029.31 L404.65,1027.53 L404.76,1025.61 L404.87,1023.55 L405,1021.39 L405.14,1019.13 L405.29,1016.8 L405.45,1014.42 L405.62,1012 L405.81,1009.57 M425.66,996.7 L425.82,1013.27 M426,1032 L426.01,1031.87 L426.02,1031.48 L426.05,1030.84 L426.09,1029.95 L426.14,1028.82 L426.2,1027.46 L426.27,1025.9 L426.36,1024.13 L426.45,1022.19 L426.56,1020.08 L426.68,1017.84 L426.8,1015.47 L426.94,1013.01 L427.09,1010.47 L427.26,1007.87 L427.43,1005.23 L427.61,1002.58 L427.81,999.93 M447.56,986.94 L447.72,1005.25 M447.9,1026.4 L447.91,1026.25 L447.92,1025.82 L447.95,1025.09 L447.99,1024.09 L448.04,1022.82 L448.1,1021.3 L448.18,1019.54 L448.26,1017.56 L448.36,1015.38 L448.47,1013.02 L448.59,1010.5 L448.72,1007.86 L448.86,1005.1 L449.01,1002.26 L449.17,999.36 L449.35,996.43 L449.54,993.47 L449.74,990.53 M469.73,974.17 L469.9,996 M470.1,1022 L470.11,1021.83 L470.12,1021.34 L470.15,1020.52 L470.19,1019.38 L470.24,1017.94 L470.31,1016.21 L470.38,1014.22 L470.47,1011.97 L470.56,1009.5 L470.67,1006.83 L470.79,1003.99 L470.92,1000.99 L471.07,997.88 L471.22,994.68 L471.39,991.4 L471.56,988.09 L471.75,984.77 L471.95,981.45 L472.17,978.17 M492.09,960.51 L492.28,986.14 M492.5,1017.4 L492.51,1017.22 L492.52,1016.67 L492.55,1015.76 L492.59,1014.5 L492.64,1012.9 L492.7,1010.99 L492.78,1008.78 L492.86,1006.29 L492.96,1003.56 L493.07,1000.6 L493.19,997.45 L493.32,994.14 L493.46,990.69 L493.62,987.14 L493.78,983.52 L493.96,979.86 L494.15,976.18 L494.35,972.51 L494.56,968.88 L494.78,965.3 L495.01,961.8" stroke-width="5.8" stroke-linecap="round" stroke-dasharray="0 1.6"/>
<path d="M404.2,1036.5 L404.03,1021.1 M426,1032 L425.82,1013.27 M447.9,1026.4 L447.72,1005.25 M470.1,1022 L469.9,996 M492.5,1017.4 L492.28,986.14" stroke-width="5.6" stroke-linecap="round" stroke-dasharray="0 1.6"/>
<path d="M514.35,946.64 L514.55,976.46 M514.8,1013.5 L514.81,1013.06 L514.82,1011.78 L514.85,1009.75 L514.89,1007.09 L514.94,1003.95 L515,1000.49 L515.07,996.84 L515.16,993.1 L515.25,989.34 L515.36,985.61 L515.48,981.92 L515.6,978.28 L515.74,974.66 L515.89,971.07 L516.06,967.5 L516.23,963.94 L516.41,960.41 L516.61,956.9 L516.82,953.44 L517.03,950.05" stroke-width="5.8" stroke-linecap="round" stroke-dasharray="0 1.7"/>
<path d="M514.8,1013.5 L514.55,976.46" stroke-width="5.5" stroke-linecap="round" stroke-dasharray="0 1.8"/>
<path d="M536.23,934.38 L536.44,967.46 M536.7,1009 L536.71,1008.48 L536.72,1006.97 L536.75,1004.57 L536.79,1001.44 L536.84,997.79 L536.9,993.81 L536.97,989.66 L537.06,985.47 L537.15,981.34 L537.26,977.3 L537.37,973.38 L537.5,969.56 L537.64,965.82 L537.79,962.14 L537.95,958.51 L538.12,954.91 L538.31,951.36 L538.5,947.84 L538.71,944.37 L538.92,940.97 L539.15,937.64" stroke-width="5.7" stroke-linecap="round" stroke-dasharray="0 1.7"/>
<path d="M536.7,1009 L536.44,967.46 M688.34,888.58 L688.54,929.14" stroke-width="5.5" stroke-linecap="round" stroke-dasharray="0 2"/>
<path d="M558.03,926.11 L558.24,960.77 M558.5,1004.5 L558.51,1003.94 L558.52,1002.3 L558.55,999.72 L558.59,996.37 L558.64,992.46 L558.71,988.23 L558.78,983.84 L558.86,979.45 L558.96,975.14 L559.07,970.96 L559.19,966.91 L559.32,962.99 L559.46,959.17 L559.62,955.42 L559.78,951.73 L559.96,948.08 L560.15,944.48 L560.35,940.92 L560.56,937.42 L560.78,933.99 L561.01,930.64 L561.26,927.39 M580.34,920.85 L580.54,955.83 M580.8,1000 L580.81,999.45 L580.82,997.83 L580.85,995.27 L580.89,991.95 L580.94,988.08 L581,983.88 L581.07,979.51 L581.16,975.13 L581.25,970.83 L581.36,966.65 L581.48,962.6 L581.61,958.68 L581.75,954.86 L581.9,951.11 L582.06,947.42 L582.24,943.78 L582.42,940.18 L582.62,936.63 L582.83,933.13 L583.04,929.71 L583.27,926.36 L583.52,923.12" stroke-width="5.7" stroke-linecap="round" stroke-dasharray="0 1.8"/>
<path d="M558.5,1004.5 L558.24,960.77" stroke-width="5.4" stroke-linecap="round" stroke-dasharray="0 2.2"/>
<path d="M580.8,1000 L580.54,955.83" stroke-width="5.4" stroke-linecap="round" stroke-dasharray="0 2.4"/>
<path d="M602.36,917.09 L602.55,952.14 M602.8,996.4 L602.81,995.79 L602.82,994.02 L602.85,991.22 L602.89,987.6 L602.94,983.39 L603,978.82 L603.07,974.12 L603.15,969.43 L603.25,964.86 L603.35,960.46 L603.47,956.25 L603.6,952.21 L603.73,948.3 L603.88,944.5 L604.04,940.77 L604.22,937.11 L604.4,933.51 L604.59,929.95 L604.8,926.46 L605.01,923.03 L605.24,919.69" stroke-width="5.6" stroke-linecap="round" stroke-dasharray="0 1.8"/>
<path d="M602.8,996.4 L602.55,952.14" stroke-width="5.3" stroke-linecap="round" stroke-dasharray="0 2.6"/>
<path d="M624.06,910.94 L624.25,946.94 M624.5,992.5 L624.51,991.84 L624.52,989.91 L624.55,986.85 L624.59,982.91 L624.64,978.34 L624.7,973.41 L624.77,968.34 L624.85,963.33 L624.94,958.48 L625.04,953.85 L625.16,949.46 L625.28,945.29 L625.42,941.29 L625.57,937.43 L625.73,933.67 L625.89,930 L626.07,926.38 L626.26,922.83 L626.47,919.33 L626.68,915.91 L626.9,912.57" stroke-width="5.6" stroke-linecap="round" stroke-dasharray="0 1.9"/>
<path d="M624.5,992.5 L624.25,946.94" stroke-width="5.3" stroke-linecap="round" stroke-dasharray="0 2.8"/>
<path d="M645.45,904.09 L645.65,941.49 M645.9,989 L645.91,988.26 L645.92,986.1 L645.95,982.69 L645.99,978.31 L646.04,973.24 L646.1,967.8 L646.17,962.26 L646.25,956.81 L646.34,951.59 L646.44,946.66 L646.56,942.04 L646.68,937.69 L646.82,933.57 L646.97,929.62 L647.12,925.8 L647.29,922.08 L647.47,918.44 L647.66,914.87 L647.87,911.36 L648.08,907.93 M666.85,896.83 L667.05,935.6" stroke-width="5.5" stroke-linecap="round" stroke-dasharray="0 1.9"/>
<path d="M645.9,989 L645.65,941.49" stroke-width="5.2" stroke-linecap="round" stroke-dasharray="0 2.9"/>
<path d="M667.3,985 L667.05,935.6" stroke-width="5.1" stroke-linecap="round" stroke-dasharray="0 3"/>
<path d="M688.8,981 L688.54,929.14" stroke-width="5.1" stroke-linecap="round" stroke-dasharray="0 3.2"/>
<path d="M709.43,880.93 L709.64,923.23 M730.51,873.07 L730.73,917.2 M751.5,864.82 L751.72,910.73" stroke-width="5.4" stroke-linecap="round" stroke-dasharray="0 2"/>
<path d="M709.9,977.5 L709.64,923.23" stroke-width="5" stroke-linecap="round" stroke-dasharray="0 3.3"/>
<path d="M731,974 L730.73,917.2" stroke-width="5" stroke-linecap="round" stroke-dasharray="0 3.4"/>
<path d="M752,970 L751.72,910.73" stroke-width="4.9" stroke-linecap="round" stroke-dasharray="0 3.5"/>
<path d="M771.98,856.16 L772.21,903.83 M792.66,848.31 L792.9,897.8 M812.95,840.49 L813.19,891.37 M833.43,831.67 L833.68,884.66 M853.29,822.84 L853.51,877.57 M873.28,814.02 L873.51,870.77 M893.77,805.7 L894,864.06 M913.76,795.88 L913.99,856.05 M933.75,787.22 L933.99,848.93 M953.24,778.07 L953.48,841.52 M973.03,767.98 L973.27,833.57 M992.71,757.38 L992.97,824.78 M1012.21,747.29 L1012.46,816.53 M1031.69,736.2 L1031.96,807.16 M1051.19,725.64 L1051.45,798.51 M1070.18,714.08 L1070.45,789.16 M1089.68,702.02 L1089.95,778.93 M1108.67,689.97 L1108.94,769 M1127.67,677.86 L1127.94,758.62 M1146.66,665.25 L1146.94,747.94 M1165.66,653.14 L1165.94,737.86 M1184.66,640.53 L1184.94,727.1 M1203.17,627.92 L1203.44,716.09 M1221.67,615.82 L1221.94,704.87 M1239.97,601.71 L1240.24,692.82 M1258.19,589.6 L1258.45,681.39" stroke-width="5.3" stroke-linecap="round" stroke-dasharray="0 2.1"/>
<path d="M772.5,965.5 L772.21,903.83" stroke-width="4.9" stroke-linecap="round" stroke-dasharray="0 3.7"/>
<path d="M793.2,962 L792.9,897.8 M813.5,957.5 L813.19,891.37 M834,953.7 L833.68,884.66 M853.8,949 L853.51,877.57 M873.8,945 L873.51,870.77 M894.3,940.5 L894,864.06 M914.3,935 L913.99,856.05 M934.3,930 L933.99,848.93 M953.8,925 L953.48,841.52 M973.6,920 L973.27,833.57 M993.3,913.7 L992.97,824.78 M1012.8,908 L1012.46,816.53 M1032.3,901 L1031.96,807.16" stroke-width="4.8" stroke-linecap="round" stroke-dasharray="0 3.8"/>
<path d="M1051.8,895 L1051.45,798.51 M1070.8,888.7 L1070.45,789.16 M1090.3,881 L1089.95,778.93 M1109.3,874 L1108.94,769 M1128.3,866 L1127.94,758.62 M1147.3,858 L1146.94,747.94 M1166.3,850.7 L1165.94,737.86 M1185.3,842.5 L1184.94,727.1 M1203.8,833.7 L1203.44,716.09 M1222.3,823.7 L1221.94,704.87 M1240.6,814.5 L1240.24,692.82 M1258.8,804 L1258.45,681.39 M1277.3,793 L1276.96,668.51 M1295.3,781.7 L1294.96,655.22 M1312.6,770 L1312.27,642.34 M1330.8,758 L1330.48,628.5 M1348.3,745.2 L1347.99,614.04 M1365.8,733.5 L1365.5,600.61 M1382.6,718.5 L1382.31,585.28 M1400,705 L1399.71,570.58 M1416.6,690 L1416.3,554.96 M1433.3,676 L1432.99,540.05 M1449.8,660 L1449.48,523.69 M1465.8,644 L1465.47,506.45 M1481.8,627.3 L1481.46,489.22" stroke-width="4.8" stroke-linecap="round" stroke-dasharray="0 3.9"/>
<path d="M1276.7,575.37 L1276.96,668.51 M1294.71,560.63 L1294.96,655.22 M1312.02,546.9 L1312.27,642.34 M1330.24,531.73 L1330.48,628.5 M1347.75,516.06 L1347.99,614.04 M1365.27,501.39 L1365.5,600.61 M1382.09,485.81 L1382.31,585.28 M1399.5,470.24 L1399.71,570.58 M1416.08,454.17 L1416.3,554.96 M1432.76,438.6 L1432.99,540.05 M1449.25,421.98 L1449.48,523.69 M1465.23,403.85 L1465.47,506.45 M1481.21,386.23 L1481.46,489.22 M1496.99,369.6 L1497.25,472.1 M1512.36,351.48 L1512.64,454.24 M1527.14,333.35 L1527.42,435.32 M1541.92,315.73 L1542.21,417.75 M1556.59,296.1 L1556.89,396.5 M1571.07,277.6 L1571.38,376.11 M1585.5,247 L1585.84,346.81 M1600.44,219 L1600.81,318.18 M1614.36,187 L1614.76,285.76 M1628.24,152 L1628.69,249.5 M1641.1,-63 L1642.03,106.11 M1655.14,-63 L1656.18,83.85 M1668.2,-63 L1669.52,56.55" stroke-width="5.2" stroke-linecap="round" stroke-dasharray="0 2.2"/>
<path d="M1497.6,609.5 L1497.25,472.1 M1513,592 L1512.64,454.24 M1527.8,572 L1527.42,435.32 M1542.6,554.5 L1542.21,417.75 M1557.3,531 L1556.89,396.5 M1571.8,508 L1571.38,376.11 M1586.3,480.5 L1585.84,346.81 M1601.3,451 L1600.81,318.18 M1615.3,418 L1614.76,285.76 M1629.3,380 L1628.69,249.5 M1643.3,335.5 L1642.03,106.11 M1657.6,282.5 L1656.18,83.85 M1671.3,217.5 L1669.52,56.55" stroke-width="4.8" stroke-linecap="round" stroke-dasharray="0 4"/>
<path d="M340.5,996.4 L340.79,1007.2" stroke-width="5" stroke-linecap="round" stroke-dasharray="0 4.2"/>
<path d="M360.6,964 L361.16,995.2" stroke-width="4.87" stroke-linecap="round" stroke-dasharray="0 4.34"/>
<path d="M381,932 L381.73,985.6" stroke-width="4.73" stroke-linecap="round" stroke-dasharray="0 4.49"/>
<path d="M402.7,904 L403.51,975.7" stroke-width="4.6" stroke-linecap="round" stroke-dasharray="0 4.63"/>
<path d="M424.5,878 L425.35,965.2" stroke-width="4.52" stroke-linecap="round" stroke-dasharray="0 4.78"/>
<path d="M446.4,853.5 L447.28,954.7" stroke-width="4.43" stroke-linecap="round" stroke-dasharray="0 4.92"/>
<path d="M468.6,830.5 L469.47,941.2" stroke-width="4.35" stroke-linecap="round" stroke-dasharray="0 5.07"/>
<path d="M491,808.6 L491.85,926.8" stroke-width="4.27" stroke-linecap="round" stroke-dasharray="0 5.21"/>
<path d="M513.3,790 L514.12,912.2" stroke-width="4.18" stroke-linecap="round" stroke-dasharray="0 5.36"/>
<path d="M535.2,771 L536.01,899.2" stroke-width="4.1" stroke-linecap="round" stroke-dasharray="0 5.5"/>
<path d="M557,755.5 L557.81,890.2" stroke-width="4.1" stroke-linecap="round" stroke-dasharray="0 5.67"/>
<path d="M579.3,742 L580.13,884.2" stroke-width="4.1" stroke-linecap="round" stroke-dasharray="0 5.83"/>
<path d="M601.3,728 L602.15,879.71" stroke-width="4.1" stroke-linecap="round" stroke-dasharray="0 6"/>
<path d="M623,716.5 L623.85,872.82" stroke-width="4.1" stroke-linecap="round" stroke-dasharray="0 6.17"/>
<path d="M644.4,703.3 L645.25,865.23" stroke-width="4.1" stroke-linecap="round" stroke-dasharray="0 6.33"/>
<path d="M665.8,693 L666.64,857.24" stroke-width="4.1" stroke-linecap="round" stroke-dasharray="0 6.5"/>
<path d="M687.3,681 L688.14,848.26" stroke-width="4.1" stroke-linecap="round" stroke-dasharray="0 6.65"/>
<path d="M708.4,670 L709.23,839.87" stroke-width="4.1" stroke-linecap="round" stroke-dasharray="0 6.79"/>
<path d="M729.5,662.5 L730.31,831.28" stroke-width="4.1" stroke-linecap="round" stroke-dasharray="0 6.94"/>
<path d="M750.5,656 L751.29,822.29" stroke-width="4.1" stroke-linecap="round" stroke-dasharray="0 7.08"/>
<path d="M771,649 L771.78,812.9" stroke-width="4.1" stroke-linecap="round" stroke-dasharray="0 7.23"/>
<path d="M791.7,644 L792.46,804.31" stroke-width="4.1" stroke-linecap="round" stroke-dasharray="0 7.38"/>
<path d="M812,639 L812.73,794.32" stroke-width="4.1" stroke-linecap="round" stroke-dasharray="0 7.52"/>
<path d="M832.5,631 L833.21,783.33" stroke-width="4.1" stroke-linecap="round" stroke-dasharray="0 7.67"/>
<path d="M852.5,626 L853.18,772.34" stroke-width="4.1" stroke-linecap="round" stroke-dasharray="0 7.81"/>
<path d="M872.5,617.5 L873.16,761.36" stroke-width="4.1" stroke-linecap="round" stroke-dasharray="0 7.96"/>
<path d="M893,610.5 L893.64,750.87" stroke-width="4.1" stroke-linecap="round" stroke-dasharray="0 8.1"/>
<path d="M913,602.5 L913.62,738.88" stroke-width="4.1" stroke-linecap="round" stroke-dasharray="0 8.25"/>
<path d="M933,595 L933.59,727.39" stroke-width="4.1" stroke-linecap="round" stroke-dasharray="0 8.4"/>
<path d="M952.5,586 L953.07,715.4" stroke-width="4.1" stroke-linecap="round" stroke-dasharray="0 8.54"/>
<path d="M972.3,576 L972.85,702.48" stroke-width="4.1" stroke-linecap="round" stroke-dasharray="0 8.69"/>
<path d="M992,567.5 L992.53,689.05" stroke-width="4.1" stroke-linecap="round" stroke-dasharray="0 8.83"/>
<path d="M1011.5,555.5 L1012.01,676.12" stroke-width="4.1" stroke-linecap="round" stroke-dasharray="0 8.98"/>
<path d="M1031,547 L1031.49,662.2" stroke-width="4.1" stroke-linecap="round" stroke-dasharray="0 9.12"/>
<path d="M1050.5,534 L1050.98,648.77" stroke-width="4.1" stroke-linecap="round" stroke-dasharray="0 9.27"/>
<path d="M1069.5,520.5 L1069.96,634.35" stroke-width="4.1" stroke-linecap="round" stroke-dasharray="0 9.42"/>
<path d="M1089,506 L1089.45,619.42" stroke-width="4.1" stroke-linecap="round" stroke-dasharray="0 9.56"/>
<path d="M1108,492 L1108.44,604.5" stroke-width="4.1" stroke-linecap="round" stroke-dasharray="0 9.71"/>
<path d="M1127,479 L1127.43,589.52" stroke-width="4.1" stroke-linecap="round" stroke-dasharray="0 9.85"/>
<path d="M1146,466 L1146.41,574.05" stroke-width="4.1" stroke-linecap="round" stroke-dasharray="0 10"/>
<path d="M1165,447 L1165.42,559.08" stroke-width="4.1" stroke-linecap="round" stroke-dasharray="0 10.03"/>
<path d="M1184,429.5 L1184.41,543.6" stroke-width="4.1" stroke-linecap="round" stroke-dasharray="0 10.06"/>
<path d="M1202.5,410.5 L1202.92,528.12" stroke-width="4.1" stroke-linecap="round" stroke-dasharray="0 10.09"/>
<path d="M1221,395 L1221.41,513.15" stroke-width="4.1" stroke-linecap="round" stroke-dasharray="0 10.12"/>
<path d="M1239.3,372 L1239.72,496.18" stroke-width="4.1" stroke-linecap="round" stroke-dasharray="0 10.16"/>
<path d="M1257.5,349.5 L1257.93,481.2" stroke-width="4.1" stroke-linecap="round" stroke-dasharray="0 10.19"/>
<path d="M1276,322.5 L1276.45,464.1" stroke-width="4.1" stroke-linecap="round" stroke-dasharray="0 10.22"/>
<path d="M1294,296 L1294.46,446.5" stroke-width="4.1" stroke-linecap="round" stroke-dasharray="0 10.25"/>
<path d="M1311.3,271.5 L1311.78,429.9" stroke-width="4.1" stroke-linecap="round" stroke-dasharray="0 10.28"/>
<path d="M1329.5,236 L1330.01,412.3" stroke-width="4.1" stroke-linecap="round" stroke-dasharray="0 10.31"/>
<path d="M1347,200 L1347.53,394.2" stroke-width="4.1" stroke-linecap="round" stroke-dasharray="0 10.34"/>
<path d="M1364.5,163 L1365.06,377.1" stroke-width="4.1" stroke-linecap="round" stroke-dasharray="0 10.38"/>
<path d="M1381.3,120 L1381.9,359.1" stroke-width="4.1" stroke-linecap="round" stroke-dasharray="0 10.41"/>
<path d="M1398.7,100 L1399.3,341.1" stroke-width="4.1" stroke-linecap="round" stroke-dasharray="0 10.44"/>
<path d="M1415.3,100 L1415.87,322.6" stroke-width="4.1" stroke-linecap="round" stroke-dasharray="0 10.47"/>
<path d="M1432,100 L1432.53,304.6" stroke-width="4.1" stroke-linecap="round" stroke-dasharray="0 10.5"/>
<path d="M1448.5,100 L1449,287.6" stroke-width="4.1" stroke-linecap="round" stroke-dasharray="0 10.53"/>
<path d="M1464.5,100 L1464.97,269.1" stroke-width="4.1" stroke-linecap="round" stroke-dasharray="0 10.56"/>
<path d="M1480.5,100 L1480.93,251.1" stroke-width="4.1" stroke-linecap="round" stroke-dasharray="0 10.59"/>
<path d="M1496.3,100 L1496.69,234.1" stroke-width="4.1" stroke-linecap="round" stroke-dasharray="0 10.62"/>
<path d="M1511.7,100 L1512.05,215.6" stroke-width="4.1" stroke-linecap="round" stroke-dasharray="0 10.66"/>
<path d="M1526.5,100 L1526.81,197.1" stroke-width="4.1" stroke-linecap="round" stroke-dasharray="0 10.69"/>
<path d="M1541.3,100 L1541.56,179.1" stroke-width="4.1" stroke-linecap="round" stroke-dasharray="0 10.72"/>
<path d="M1556,100 L1556.21,159.1" stroke-width="4.1" stroke-linecap="round" stroke-dasharray="0 10.75"/>
<path d="M1570.5,100 L1570.65,140.6" stroke-width="4.1" stroke-linecap="round" stroke-dasharray="0 10.78"/>
<path d="M1585,100 L1585.09,121.6" stroke-width="4.1" stroke-linecap="round" stroke-dasharray="0 10.81"/>
<path d="M1600,100 L1600.01,102.6" stroke-width="4.1" stroke-linecap="round" stroke-dasharray="0 10.84"/>
<path d="M1614,100 L1613.92,83.6" stroke-width="4.1" stroke-linecap="round" stroke-dasharray="0 10.88"/>
<path d="M1628,100 L1627.81,63.6" stroke-width="4.1" stroke-linecap="round" stroke-dasharray="0 10.91"/>
<path d="M1642,100 L1641.64,43.6" stroke-width="4.1" stroke-linecap="round" stroke-dasharray="0 10.94"/>
<path d="M1656.3,100 L1655.67,23.6" stroke-width="4.1" stroke-linecap="round" stroke-dasharray="0 10.97"/>
<path d="M1670,100 L1668.77,3.6" stroke-width="4.1" stroke-linecap="round" stroke-dasharray="0 11"/>
</g>
<g font-family="'DejaVu Sans', 'Liberation Sans', sans-serif" font-size="16.67" fill="#000">
<text transform="translate(381.4,935.5) rotate(-80)" x="0" y="11.5">n=1</text>
<text transform="translate(403.1,907.5) rotate(-80)" x="0" y="11.5">n=2</text>
<text transform="translate(424.9,881.5) rotate(-80)" x="0" y="11.5">n=3</text>
<text transform="translate(446.8,857) rotate(-80)" x="0" y="11.5">n=4</text>
<text transform="translate(469,834) rotate(-80)" x="0" y="11.5">n=5</text>
<text transform="translate(491.4,812.1) rotate(-80)" x="0" y="11.5">n=6</text>
<text transform="translate(513.7,793.5) rotate(-80)" x="0" y="11.5">n=7</text>
<text transform="translate(535.6,774.5) rotate(-80)" x="0" y="11.5">n=8</text>
<text transform="translate(557.4,759) rotate(-80)" x="0" y="11.5">n=9</text>
<text transform="translate(579.7,745.5) rotate(-80)" x="0" y="11.5">n=10</text>
<text transform="translate(623.4,720) rotate(-80)" x="0" y="11.5">n=11</text>
<text transform="translate(644.8,706.8) rotate(-80)" x="0" y="11.5">n=12</text>
<text transform="translate(666.2,696.5) rotate(-80)" x="0" y="11.5">n=13</text>
<text transform="translate(687.7,684.5) rotate(-80)" x="0" y="11.5">n=14</text>
<text transform="translate(708.8,673.5) rotate(-80)" x="0" y="11.5">n=15</text>
<text transform="translate(729.9,666) rotate(-80)" x="0" y="11.5">n=16</text>
<text transform="translate(750.9,659.5) rotate(-80)" x="0" y="11.5">n=17</text>
<text transform="translate(832.9,634.5) rotate(-80)" x="0" y="11.5">n=18</text>
<text transform="translate(852.9,629.5) rotate(-80)" x="0" y="11.5">n=19</text>
<text transform="translate(872.9,621) rotate(-80)" x="0" y="11.5">n=20</text>
<text transform="translate(893.4,614) rotate(-80)" x="0" y="11.5">n=21</text>
<text transform="translate(913.4,606) rotate(-80)" x="0" y="11.5">n=22</text>
<text transform="translate(972.7,579.5) rotate(-80)" x="0" y="11.5">n=23</text>
<text transform="translate(992.4,571) rotate(-80)" x="0" y="11.5">n=24</text>
<text transform="translate(1011.9,559) rotate(-80)" x="0" y="11.5">n=25</text>
<text transform="translate(1031.4,550.5) rotate(-80)" x="0" y="11.5">n=26</text>
<text transform="translate(1050.9,537.5) rotate(-80)" x="0" y="11.5">n=27</text>
<text transform="translate(1069.9,524) rotate(-80)" x="0" y="11.5">n=28</text>
<text transform="translate(1108.4,495.5) rotate(-80)" x="0" y="11.5">n=29</text>
<text transform="translate(1127.4,482.5) rotate(-80)" x="0" y="11.5">n=30</text>
<text transform="translate(1146.4,469.5) rotate(-80)" x="0" y="11.5">n=31</text>
<text transform="translate(1165.4,450.5) rotate(-80)" x="0" y="11.5">n=32</text>
<text transform="translate(1184.4,433) rotate(-80)" x="0" y="11.5">n=33</text>
<text transform="translate(1202.9,414) rotate(-80)" x="0" y="11.5">n=34</text>
<text transform="translate(1221.4,398.5) rotate(-80)" x="0" y="11.5">n=35</text>
<text transform="translate(1239.7,375.5) rotate(-80)" x="0" y="11.5">n=36</text>
<text transform="translate(1257.9,353) rotate(-80)" x="0" y="11.5">n=37</text>
<text transform="translate(1276.4,326) rotate(-80)" x="0" y="11.5">n=38</text>
<text transform="translate(1294.4,299.5) rotate(-80)" x="0" y="11.5">n=39</text>
<text transform="translate(1311.7,275) rotate(-80)" x="0" y="11.5">n=40</text>
<text transform="translate(1364.9,166.5) rotate(-80)" x="0" y="11.5">n=41</text>
</g>
<rect x="250.5" y="144.5" width="1550" height="924" fill="none" stroke="#000" stroke-width="1.2"/>
<path d="M250.5,144.4 H233.5 M250.5,252.57 H233.5 M250.5,360.74 H233.5 M250.5,468.91 H233.5 M250.5,577.08 H233.5 M250.5,685.25 H233.5 M250.5,793.42 H233.5 M250.5,901.59 H233.5 M250.5,1009.76 H233.5 M506.9,1068.5 V1085.3 M769.1,1068.5 V1085.3 M1031.3,1068.5 V1085.3 M1293.5,1068.5 V1085.3 M1555.7,1068.5 V1085.3 M250.5,166.03 H239.3 M250.5,187.67 H239.3 M250.5,209.3 H239.3 M250.5,230.94 H239.3 M250.5,274.2 H239.3 M250.5,295.84 H239.3 M250.5,317.47 H239.3 M250.5,339.11 H239.3 M250.5,382.37 H239.3 M250.5,404.01 H239.3 M250.5,425.64 H239.3 M250.5,447.28 H239.3 M250.5,490.54 H239.3 M250.5,512.18 H239.3 M250.5,533.81 H239.3 M250.5,555.45 H239.3 M250.5,598.71 H239.3 M250.5,620.35 H239.3 M250.5,641.98 H239.3 M250.5,663.62 H239.3 M250.5,706.88 H239.3 M250.5,728.52 H239.3 M250.5,750.15 H239.3 M250.5,771.79 H239.3 M250.5,815.05 H239.3 M250.5,836.69 H239.3 M250.5,858.32 H239.3 M250.5,879.96 H239.3 M250.5,923.22 H239.3 M250.5,944.86 H239.3 M250.5,966.49 H239.3 M250.5,988.13 H239.3 M250.5,1031.39 H239.3 M250.5,1053.03 H239.3 M297.14,1068.5 V1079.3 M349.58,1068.5 V1079.3 M402.02,1068.5 V1079.3 M454.46,1068.5 V1079.3 M559.34,1068.5 V1079.3 M611.78,1068.5 V1079.3 M664.22,1068.5 V1079.3 M716.66,1068.5 V1079.3 M821.54,1068.5 V1079.3 M873.98,1068.5 V1079.3 M926.42,1068.5 V1079.3 M978.86,1068.5 V1079.3 M1083.74,1068.5 V1079.3 M1136.18,1068.5 V1079.3 M1188.62,1068.5 V1079.3 M1241.06,1068.5 V1079.3 M1345.94,1068.5 V1079.3 M1398.38,1068.5 V1079.3 M1450.82,1068.5 V1079.3 M1503.26,1068.5 V1079.3 M1608.14,1068.5 V1079.3 M1660.58,1068.5 V1079.3 M1713.02,1068.5 V1079.3 M1765.46,1068.5 V1079.3" stroke="#000" stroke-width="5.8" fill="none"/>
<g font-family="'DejaVu Sans', 'Liberation Sans', sans-serif" font-size="35.3" letter-spacing="0.9" fill="#000">
<text x="230.1" y="158.1" text-anchor="end">1000</text>
<text x="230.1" y="266.27" text-anchor="end">900</text>
<text x="230.1" y="374.44" text-anchor="end">800</text>
<text x="230.1" y="482.61" text-anchor="end">700</text>
<text x="230.1" y="590.78" text-anchor="end">600</text>
<text x="230.1" y="698.95" text-anchor="end">500</text>
<text x="230.1" y="807.12" text-anchor="end">400</text>
<text x="230.1" y="915.29" text-anchor="end">300</text>
<text x="230.1" y="1023.46" text-anchor="end">200</text>
<text x="507.3" y="1117.4" text-anchor="middle">106.80</text>
<text x="769.5" y="1117.4" text-anchor="middle">106.85</text>
<text x="1031.7" y="1117.4" text-anchor="middle">106.90</text>
<text x="1293.9" y="1117.4" text-anchor="middle">106.95</text>
<text x="1556.1" y="1117.4" text-anchor="middle">107.00</text>
</g>
<g font-family="'DejaVu Sans', 'Liberation Sans', sans-serif" font-size="55.56" fill="#000">
<text x="1025.5" y="1170.2" text-anchor="middle">Age (Myr)</text>
<text transform="translate(117.8,606.8) rotate(-90)" text-anchor="middle">FM period (days)</text>
</g>
<rect x="263.5" y="157.5" width="381" height="108.5" rx="4.5" ry="4.5" fill="#fff" fill-opacity="0.8" stroke="#ccc" stroke-width="1.3"/>
<path d="M272,177.2 H323.8" stroke="#000" stroke-width="2.1" fill="none"/>
<circle cx="298" cy="177.2" r="2.2" fill="#000"/>
<circle cx="298.5" cy="231.4" r="7" fill="#ffffcb" stroke="#ffffa6" stroke-width="1.4"/>
<g font-family="'DejaVu Sans', 'Liberation Sans', sans-serif" font-size="25" fill="#000">
<text x="342.7" y="186.3">m4.60_z0.0018_y0.252</text>
<text x="342.7" y="223.1">intersection w/ P,L,T,R</text>
<text x="342.7" y="251.2">loosely defined</text>
</g>
</svg>
</body></html>
